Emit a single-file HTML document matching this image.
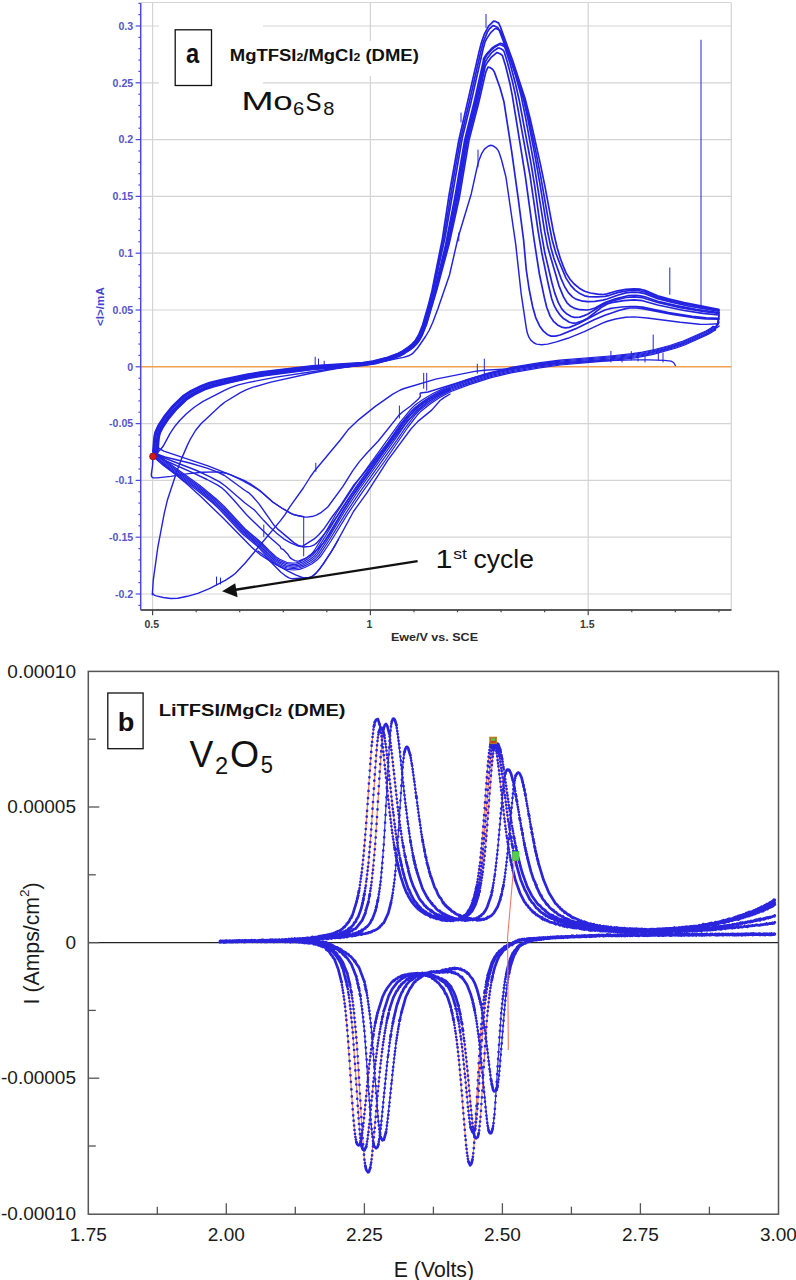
<!DOCTYPE html>
<html><head><meta charset="utf-8"><title>CV</title>
<style>html,body{margin:0;padding:0;background:#fff;}svg{display:block;}</style></head>
<body><svg width="796" height="1280" viewBox="0 0 796 1280">
<rect width="796" height="1280" fill="#fff"/>
<g stroke="#d4d4d4" stroke-width="1.2" fill="none">
<line x1="141.0" y1="594.0" x2="731.3" y2="594.0"/>
<line x1="141.0" y1="537.2" x2="731.3" y2="537.2"/>
<line x1="141.0" y1="480.4" x2="731.3" y2="480.4"/>
<line x1="141.0" y1="423.6" x2="731.3" y2="423.6"/>
<line x1="141.0" y1="310.0" x2="731.3" y2="310.0"/>
<line x1="141.0" y1="253.2" x2="731.3" y2="253.2"/>
<line x1="141.0" y1="196.4" x2="731.3" y2="196.4"/>
<line x1="141.0" y1="139.6" x2="731.3" y2="139.6"/>
<line x1="141.0" y1="82.8" x2="731.3" y2="82.8"/>
<line x1="141.0" y1="26.0" x2="731.3" y2="26.0"/>
<line x1="141.0" y1="2.5" x2="731.3" y2="2.5"/>
<line x1="152.6" y1="2.5" x2="152.6" y2="609.8"/>
<line x1="370.4" y1="2.5" x2="370.4" y2="609.8"/>
<line x1="588.2" y1="2.5" x2="588.2" y2="609.8"/>
<line x1="731.3" y1="2.5" x2="731.3" y2="609.8"/>
</g>
<line x1="141.0" y1="366.8" x2="731.3" y2="366.8" stroke="#f0a050" stroke-width="1.6"/>
<rect x="159" y="12" width="104" height="80" fill="#fff"/>
<rect x="222" y="41" width="205" height="35" fill="#fff"/>
<g fill="none" stroke="#2222e0" stroke-linejoin="round" stroke-linecap="round">
<path d="M152.8,452L154.1,436.9L155.1,432L158.1,425.5L164.6,415.5L172.3,406.1L182.6,396L190.7,390.7L201.5,385.5L209.4,382.6L221.7,379.5L246.6,374.3L261.9,371.8L312.4,365.9L362.8,362.5L372.9,361L387.7,357.2L398.3,353.3L402.7,350.9L408.5,346.9L412.2,343.9L415,340.9L418.7,334.8L422.6,325.1L428.4,305.1L432,290.7L442.3,239.3L449.2,194.1L458.8,140.2L479.2,51.1L481.5,42.2L484.2,34.5L488.6,26.1L493.6,21.1L495.1,21.3L497.9,22.8L498.4,22.7L500.2,26.3L512.6,60.3L525,98.2L530.2,118.7L540.4,164.1L545,186.6L553.3,231.2L557,247.2L560.3,258.3L563.3,266.4L566.2,273.1L570,279.2L574.2,284L579.3,288.2L584.6,291.3L590.3,293L597.7,294.2L603.1,294.5L607,293.9L617.5,290.8L625.8,289.4L634.1,288.8L640.4,289.2L644.9,290.4L657.7,295.8L668.5,298.9L684.1,302.7L718.5,309.4" fill="none" stroke="#2222e0" stroke-width="1.7" stroke-linejoin="round" stroke-linecap="round"/>
<path d="M153.5,452.1L154.9,437L155.8,432.2L158.8,425.9L165.3,415.9L172.9,406.6L183.1,396.7L191.1,391.4L201.8,386.2L210,383.2L222.7,380L247.3,374.9L262,372.4L312.5,366.4L362.9,363L373.7,361.3L387.8,357.6L398.5,353.7L402.9,351.3L408.8,347.3L412.5,344.2L415.4,341.2L419.1,335L423.1,325.3L428.8,305.7L432.9,289.8L443.7,238.1L453.4,178.8L460.5,139.2L469.3,102.1L480.8,51.5L483.3,41.8L487.4,32.1L489.4,28.9L492.9,25.7L494.4,25.9L497.7,27.4L499.5,30.9L511.7,63L524,98.6L528.9,118.6L535.9,152.2L540.5,175.4L548.5,221.1L552.2,240L555.9,253.2L559.4,262.5L566,278.1L570.7,285.4L575.1,290.1L579.9,293.6L584.6,295.8L588.5,296.6L596.6,296.9L605,296.3L609.5,295.3L617.5,292.6L623.7,291.3L630,290.5L638.2,290.5L644.9,291.9L657.7,297.1L672.5,301.1L688.1,304.5L718.5,310.2" fill="none" stroke="#2222e0" stroke-width="1.7" stroke-linejoin="round" stroke-linecap="round"/>
<path d="M154.3,452.1L155.6,437.4L156.6,432.5L159.5,426.3L165.9,416.4L173.5,407.2L183.9,397.1L191.9,391.9L202.5,386.7L210.7,383.8L224.5,380.4L248.5,375.3L262.7,372.9L312.5,366.9L362.9,363.4L373.8,361.8L388.6,357.9L399,354L403.8,351.3L409.4,347.5L412.9,344.6L415.8,341.5L419.4,335.6L423.6,325.4L429.1,306.4L433.8,288.9L445,237.5L462.2,138.3L471.1,101.9L482.9,49.7L484.9,42.2L486.7,38.6L490.7,32.6L495.1,28.5L497.2,28.9L500,30.3L501.7,33.7L512.6,64.7L523.4,98.9L527.8,118.5L534.3,152.1L540.4,186.6L547.5,231.2L550.8,247.2L553.8,258L561.5,279.7L564.8,287L568.5,292.9L572.7,297.1L575.9,299.1L582.8,301.2L587.8,301.7L594.9,301.3L603,300.1L607.1,299L617.5,295.2L625.8,292.9L632.1,292.2L638.2,292.3L644.9,293.6L657.7,298.6L672.5,302.4L688.1,305.8L718.5,311.1" fill="none" stroke="#2222e0" stroke-width="1.7" stroke-linejoin="round" stroke-linecap="round"/>
<path d="M155.7,452.2L157,437.6L157.9,432.9L160.7,427L167.1,417.3L174.4,408.5L184.8,398.2L192.6,393.2L203.4,387.9L211.5,385.1L226.4,381.3L249.2,376.4L263.5,374L312.6,367.9L363,364.3L374.6,362.5L389.4,358.5L399.4,354.8L409.6,348.5L413.2,345.5L416.2,342.4L418.8,338.8L421,334.5L423.9,327.5L426.1,320.8L434.6,290.7L445.7,244.5L455,196.5L464.7,140L474.5,100.6L483.4,60.7L483.5,58.7L486.3,54.4L491.8,48.3L494.1,46.6L500,43.4L502,43.5L505.5,45.4L507.1,48.5L515.1,73.5L521,95.2L525.7,118.3L534,164L544.6,231.2L547.7,247.1L559.2,286.4L563.5,296.9L567,302.8L570.7,306.3L574.9,308.4L579.9,309.7L586.8,310L590.1,309.5L595,308L605,302.5L615.4,298.8L627.9,295.7L636.1,295.4L640.4,295.8L644.9,296.8L657.7,301.3L676.4,305.7L695.9,309.4L718.5,312.7" fill="none" stroke="#2222e0" stroke-width="1.7" stroke-linejoin="round" stroke-linecap="round"/>
<path d="M156.2,452.3L157.5,437.6L158.4,433L161.3,427L167.5,417.6L174.8,408.8L185.2,398.7L193.3,393.4L203.6,388.4L211.6,385.6L226.5,381.8L249.3,376.8L263.5,374.4L312.7,368.2L363,364.6L374.6,362.8L389.5,358.8L399.5,355L409.8,348.7L413.4,345.8L416.5,342.6L419,339L421.3,334.7L426.3,321.4L435.2,290.3L446.6,244.1L456,196.7L465.7,140.2L475.5,101.5L484.5,60.9L484.7,58.9L487.1,54.9L491.8,49.5L494.7,47.2L499.2,44.5L502,45.2L504.3,46.6L505.1,48.1L510,63.2L515.6,84.2L519.2,100.2L531.1,164L534.8,186.6L541,231.2L544.8,252.8L551.8,282.3L554.6,292.6L558.2,302.4L561.2,307.9L563.4,310.8L567,314.1L571.2,316.5L574.4,317.4L579.7,317.1L583.6,315.9L588,314L602.4,305L609.5,301.6L625.8,297.5L634.1,296.8L642.6,297.7L657.7,302.5L680.3,307.6L702.9,311.5L718.5,313.5" fill="none" stroke="#2222e0" stroke-width="1.7" stroke-linejoin="round" stroke-linecap="round"/>
<path d="M156.7,452.3L157.9,438L158.9,433.2L161.6,427.5L167.8,418.2L175.2,409.2L185.5,399.1L193.5,393.9L203.8,388.9L212.2,385.9L227.5,382.1L249.4,377.3L263.6,374.8L312.7,368.6L363.1,364.9L374.7,363.1L389.6,359.1L399.7,355.3L410,349L413.7,346L416.7,342.8L419.1,339.5L421.4,335.2L426.3,322.4L435.6,290.4L447.4,243.7L457.1,196.8L466.7,140.4L476.5,101.7L484.9,62.7L487.2,58.6L491.4,53L493.2,51.3L498.1,48L499.6,48.2L501.4,49.1L503.2,50.2L504.1,51.6L507.4,62.2L512.7,82.6L515.3,94.3L530,175.4L538.1,231.2L541.8,253L548.3,284.3L551.7,298.7L554.4,306.2L556.7,310.2L560.2,315.2L563.5,318.6L569.4,322.2L573.3,323.2L576.7,322.8L583.2,320.6L588,318L602.4,306.7L607.3,303.9L611.5,302.6L623.7,300.6L634.1,299.9L642.6,300.7L657.7,305L684.1,310.5L702.9,313.4L718.5,315" fill="none" stroke="#2222e0" stroke-width="1.7" stroke-linejoin="round" stroke-linecap="round"/>
<path d="M157.2,452.4L158.4,438.1L159.4,433.3L162.2,427.5L168.4,418.2L175.6,409.6L186.1,399.3L194.2,394.1L204.4,389.2L212.4,386.4L228.4,382.4L250,377.6L264.3,375.1L313.6,368.8L363.1,365.2L374.8,363.4L389.1,359.6L399.5,355.8L403.8,353.4L409.9,349.5L413.6,346.5L416.7,343.3L419.2,340L421.6,335.7L426.5,323L436.2,290L448.3,243.2L458.1,197L467.6,140.6L477.6,102L485.2,66.4L487.2,62.7L490.9,57.7L496.7,52.7L498.2,52.9L500,53.8L501.9,55L502.7,56.4L505.7,66.2L510.2,84.8L512.3,95.6L525.2,175.4L534.1,240L539.3,273.5L544.3,297.4L546.7,307.3L550.2,316.4L553.5,321.3L557.5,324.9L561.5,327.1L565.4,327.8L569.5,327.4L578.9,323.5L599.6,312.5L605,310L609.5,308.7L613.5,308L621.7,307L630,306.5L636.1,306.6L642.6,307.2L668.5,312.6L692,316.3L706.1,317.9L718.5,318.4" fill="none" stroke="#2222e0" stroke-width="1.7" stroke-linejoin="round" stroke-linecap="round"/>
<path d="M157.8,452.4L159,438.1L160,433.5L162.8,427.8L168.9,418.6L176.1,410L186.5,399.8L194.5,394.7L204.6,389.7L213,386.9L229.4,382.7L250.6,378L264.4,375.6L312.8,369.4L363.1,365.5L375.5,363.6L389.8,359.8L400,355.9L404.6,353.4L410.4,349.5L414.2,346.5L417,343.6L419.5,340.2L421.9,335.9L426.8,323.6L436.7,290.1L449.1,244L459.4,197.2L469.1,139.7L478.7,102.9L485.1,74.7L486.1,71.3L488,67.2L489.9,67.6L491.8,68.7L493.1,69.8L494.5,72.4L500,87.7L504,102.1L511.7,151.7L518.2,198.3L523.6,240L526.3,270L529.1,289L532.7,307L535.7,317.6L539.6,325.9L543.4,331.2L547.6,334.7L551.2,336.1L555.4,336.1L560.2,335L575.3,328.9L594.1,319.8L605,315.2L619.6,310.2L625.8,308.6L630,308L636.1,308L642.6,308.7L672.5,314.4L695.9,317.9L706.1,318.9L718.5,319.1" fill="none" stroke="#2222e0" stroke-width="1.7" stroke-linejoin="round" stroke-linecap="round"/>
<path d="M380,362L403.4,357.4L408.9,355.7L411.4,354.4L413.6,352.6L417.6,348L425.5,336.5L429.1,330.5L432.8,322.2L437.8,309.1L449.5,275L458.1,237.5L471.3,193.7L477.2,166.9L479.1,159.9L481.8,153.3L484.4,149.1L488.1,146.2L490.8,145.3L492.7,145.7L495.7,147.6L497.5,149.5L498.9,151.9L501.5,159.7L506,177.4L515.7,244.2L521.2,293.8L526.3,328.1L527.4,333.3L528.9,337.2L530.8,340.1L533.4,342.5L536.5,344.1L541.5,344.8L547.6,344.1L556.4,341.9L567.8,338.3L584.3,331.7L602.4,323.1L607.3,321.2L615.5,319L625.8,317.2L634.1,316.9L647.2,318L680.3,322.2L699.5,324.2L706.1,324.4L718.5,323.7" fill="none" stroke="#2222e0" stroke-width="1.45" stroke-linejoin="round" stroke-linecap="round"/>
<path d="M152.3,594.7L153.3,579.8L157.8,547.4L164.3,513.2L167.5,499.7L177.3,470L181.6,458.6L187.4,445.1L190.5,438.8L195.5,430.5L201,423.8L221.1,405.1L225,402L240.4,392.6L246.6,389.6L252.5,387.4L270.9,382.1L309.9,373.5L335,368.9L380,362" fill="none" stroke="#2222e0" stroke-width="1.4" stroke-linejoin="round" stroke-linecap="round"/>
<path d="M156,454L160.5,449.5L163.1,446.3L170.1,433.3L175.3,425.7L179.7,420.5L186.4,413.8L193.9,407.5L202.6,401.7L224,390.6L230.5,387.6L238.4,384.9L247.8,382.6L276.1,377.1L325.1,369.8L372,363.5" fill="none" stroke="#2222e0" stroke-width="1.4" stroke-linejoin="round" stroke-linecap="round"/>
<path d="M719.2,309.5L718.2,321.1L715.3,330.4L714.9,330.1L714.1,330.7L715.6,329.7L710.3,333.2L706.4,335.3L684.7,345L676.3,348L653.2,354.4L635.4,357.8L610.4,360.6L560.3,365L538.2,368.1L511,372.8L491.1,377.7L468.6,384.8L451.1,391.5L440.2,397.2L430.1,404.1L420.1,412.1L417.1,415.3L407.7,427.5L384.8,461L362.2,492.3L347.9,513.7L330.4,542L320.7,556.3L317.1,560.1L311.7,564L304.8,567.5L299.5,569.3L293.9,570L286.9,569.3L280.9,567.1L274.1,563.3L266.2,555.9L258.2,547L240.9,532.4L220.3,510.2L213.3,503.5L196.6,489.9L163.4,465.5L152.3,455.9" fill="none" stroke="#2222e0" stroke-width="1.25" stroke-linejoin="round" stroke-linecap="round"/>
<path d="M719.2,312.5L718,322.3L716.5,326.2L714.8,329.6L713.7,330L715.2,329L707.3,333.9L686,343.5L673.5,347.9L653,353.5L635.3,356.9L610.3,359.7L560.2,364.1L538,367.1L510.8,371.8L490.8,376.7L466.5,384.4L450.6,390.5L438.2,396.9L428.1,403.7L419,410.8L415.7,414.2L406.3,426.3L396.6,440.6L360.5,491.2L346.2,512.6L328.8,541L319.4,555.2L315.9,558.9L310.8,562.7L304.2,566.1L299.1,568L293.8,568.7L287.2,568L282.7,566.5L274.8,562.3L267.1,555.1L258.9,546.2L241.7,531.6L221.1,509.4L214,502.7L197.3,489L164,464.7L153,455.1" fill="none" stroke="#2222e0" stroke-width="1.25" stroke-linejoin="round" stroke-linecap="round"/>
<path d="M719.2,315.5L717.8,323.4L716.8,325.4L714.3,328.8L707,333.2L684.1,343.4L667.9,348.7L650.3,353.2L635.2,356L610.2,358.8L560.1,363.1L537.8,366.1L510.6,370.8L490.5,375.7L467.9,382.8L450.2,389.5L437.5,395.7L427.2,402.4L417.9,409.5L414.4,413.1L404.8,425.2L396.5,437.4L358.8,490L344.5,511.5L327.3,540.1L318,554.2L314.8,557.7L310,561.3L303.6,564.8L298.7,566.6L293.8,567.3L287.5,566.7L283.3,565.3L275.6,561.3L267.9,554.2L259.6,545.4L242.4,530.8L221.9,508.7L214.7,501.9L198,488.2L164.7,463.9L153.7,454.4" fill="none" stroke="#2222e0" stroke-width="1.25" stroke-linejoin="round" stroke-linecap="round"/>
<path d="M719.2,318.5L717.9,323.7L717.1,325.3L713.9,328L707.8,331.8L682.1,343.3L662.6,349.3L647.6,352.9L632.5,355.5L610.2,357.8L559.9,362.1L537.7,365.1L510.4,369.8L490.3,374.7L467.6,381.7L446.4,389.9L435.4,395.4L427.6,400.3L419.6,405.9L415.4,409.4L413,412L402.2,425.4L394.9,436.3L358.6,486.6L342.9,510.5L325.7,539.1L316.7,553.1L313.7,556.5L309.1,560L303,563.5L298.4,565.3L295.3,565.8L292.2,565.9L286.4,565L278.5,561.6L275.4,559.5L267.4,552.1L260.4,544.6L243.2,530L222.7,507.9L215.4,501.1L198.6,487.3L165.3,463.1L154.3,453.6" fill="none" stroke="#2222e0" stroke-width="1.25" stroke-linejoin="round" stroke-linecap="round"/>
<path d="M719.2,322L717.3,326L713.6,327.1L708.6,330.4L705,332.3L681.8,342.5L672.7,345.5L657.4,349.7L644.9,352.5L632.4,354.6L610.1,356.9L559.8,361.1L540.4,363.7L512.9,368.2L490,373.7L467.2,380.7L444.2,389.5L434.7,394.2L425.5,399.8L415.6,406.9L411.7,410.9L403,421.5L356.9,485.5L341.2,509.4L324.2,538.2L315.3,552.1L312.5,555.3L308.3,558.6L302.3,562.2L296.6,564.3L292.3,564.5L286.8,563.7L279.1,560.4L276.2,558.5L268.3,551.3L261.1,543.8L244,529.3L223.5,507.1L216.2,500.2L199.3,486.4L166,462.3L155,452.9" fill="none" stroke="#2222e0" stroke-width="1.25" stroke-linejoin="round" stroke-linecap="round"/>
<path d="M719.2,326L717.1,327.7L712.9,326.3L711.8,327.4L713.4,326.3L710.6,328.2L705.9,331L681.5,341.7L669.8,345.5L654.7,349.5L642.3,352.2L632.3,353.7L610,356L559.7,360.2L540.2,362.7L512.7,367.2L489.7,372.7L466.9,379.7L442,389.1L432.5,393.8L423.3,399.3L414.4,405.6L410.3,409.8L400.4,421.8L355.3,484.3L337.9,510.8L322.6,537.2L314,551L311.4,554.1L307.4,557.3L300.3,561.5L296.4,562.9L292.3,563.2L287.1,562.5L279.7,559.3L277,557.6L269.1,550.5L261.8,543L244.7,528.5L224.3,506.4L216.9,499.4L200,485.5L166.6,461.5L155.7,452.1" fill="none" stroke="#2222e0" stroke-width="1.25" stroke-linejoin="round" stroke-linecap="round"/>
<path d="M450,394L443.7,397.9L440.1,400.5L431.7,410.1L417.9,421.4L410.9,429L387.7,460.4L366.9,492.9L353.5,511.5L334,547.3L323.6,563.6L316.1,573.1L312.3,576.3L309.8,577.4L302.9,577.7L295.5,574.9L288.5,571.4L271.8,562.1L260.1,554.6L251.5,547L222.3,517.3L200.5,496.3L184.2,481.6L154,456" fill="none" stroke="#2222e0" stroke-width="1.4" stroke-linejoin="round" stroke-linecap="round"/>
<path d="M338.1,540L330.4,553.2L320.3,568.2L316.1,573.1L313.6,575.4L311.1,576.9L308.8,577.5L293,578.8L291.3,578.6L289,577.8L284.8,575.3L280.9,572.3L265,556L258,551" fill="none" stroke="#2222e0" stroke-width="1.4" stroke-linejoin="round" stroke-linecap="round"/>
<path d="M560,361L530.8,365L496.4,371.8L476.7,376.9L428,392L420.5,393L420.1,393.5L420.3,396.5L418.7,398.7L410.3,406.3L402.8,411.8L399,415.1L378.5,440.8L366.5,453.5L359.4,461.6L352.8,470.6L342.8,486.7L327.8,507L321.4,512.3L316.4,515.2L313.3,516.2L307.1,517.1L304.6,517.1L298.2,515.8L291.8,513.8L281.7,508L272.7,502L262.1,492.7L257.8,489.5L251.2,485.3L239.8,479.2L230.6,474.9L208,465.9L163.8,451.1L159.8,448.9L155.5,445.5" fill="none" stroke="#2222e0" stroke-width="1.4" stroke-linejoin="round" stroke-linecap="round"/>
<path d="M303.8,516.6L294.2,514.8L290,512.9L281.7,508L272.7,502L260,490.5L251.7,484.7L244,480.4L230.8,474.8L226,473.2L217.3,471.9L202,472.2L188.4,473.6L170.8,476.4L157.2,477.9L153.4,477.9L152.1,477.3L151.5,476.1L151.3,474.3L152.5,466L153,456" fill="none" stroke="#2222e0" stroke-width="1.4" stroke-linejoin="round" stroke-linecap="round"/>
<path d="M450,388L444.1,389.8L440,391.5L430.2,397L419.8,404.4L412.2,410.9L408,415L400,425L388.1,442.5L365.4,471.4L353.9,485L340.3,506L332,517L323.6,529.3L319,534.5L314.2,538.9L302.3,546.4L299.1,545.8L293.8,542.6L278.1,529.4L273.4,524.4L258.8,503.6L252.4,496.2L249.3,493.2L245,490.5L224.6,475.5L217.1,471.8L207,468.2L189.7,463L165,457L154,453" fill="none" stroke="#2222e0" stroke-width="1.4" stroke-linejoin="round" stroke-linecap="round"/>
<path d="M450,389L440,393L427.6,400.2L417.3,408.1L407.8,417.4L398,430L386,447L372,465.8L352,494.1L338,515L326,532L321.6,537.5L316.1,543.4L313.7,545.2L310.4,546.4L303.9,547L298.4,546.1L290.6,542.9L283.6,538.8L276.7,533.3L270.2,527.2L263.8,520.6L254.4,510L245,503L225.6,486.2L220,482.1L210.6,477.1L196.6,470.5L154,454" fill="none" stroke="#2222e0" stroke-width="1.4" stroke-linejoin="round" stroke-linecap="round"/>
<path d="M450,390L440,394.5L427.6,402.1L417.3,410.7L407.8,420.4L386,449L351.9,497.2L341.6,513.3L330.4,533L323.5,542.9L318.3,548.8L311.5,554.4L305.4,558.5L299.1,561L297,561.1L294.8,560.6L291.6,558.9L290,557.6L287.6,553.9L283.3,549.5L281.1,548.7L280,546.2L270,537.5L246.3,514.5L233.5,499.7L225.6,491.3L222.2,488.2L217.2,484.9L207,479.5L193.1,472.8L165,460.5L154,454.5" fill="none" stroke="#2222e0" stroke-width="1.4" stroke-linejoin="round" stroke-linecap="round"/>
<path d="M675.4,365.5L673.6,362.5L671.1,361.1L664.2,360.4L649.5,359.9L633.2,359.9L601.7,360.9L556,363.5L520.5,367.2L507.3,368.9L484.3,370.2L474.8,371.4L435.7,379.1L404.2,388.5L400.3,390L392.4,394.4L375.3,406.4L358.8,419.6L348,429.8L340.3,440L315.1,470.2L310.2,477L303.3,488L290,506.6L284.8,514.8L280.7,520.4L245.2,563L235.5,573.2L232.1,575.9L225.3,580.4L209.4,588.7L197.8,593.3L187.4,596.3L177.7,598.3L170.8,598.5L163.2,597.5L156.2,595.9L154.1,595.1L152.6,593.3" fill="none" stroke="#2222e0" stroke-width="1.4" stroke-linejoin="round" stroke-linecap="round"/>
<line x1="486.0" y1="14.4" x2="486.0" y2="27.6" stroke-width="1"/>
<line x1="461.0" y1="113" x2="461.0" y2="122" stroke-width="1"/>
<line x1="701.0" y1="40.2" x2="701.0" y2="306" stroke-width="1"/>
<line x1="669.8" y1="267.9" x2="669.8" y2="294.3" stroke-width="1"/>
<line x1="653.2" y1="335" x2="653.2" y2="352" stroke-width="1"/>
<line x1="631.3" y1="351.6" x2="631.3" y2="360" stroke-width="1"/>
<line x1="315.2" y1="357.2" x2="315.2" y2="366.2" stroke-width="1"/>
<line x1="318.5" y1="359" x2="318.5" y2="366" stroke-width="1"/>
<line x1="324.2" y1="361.2" x2="324.2" y2="367.2" stroke-width="1"/>
<line x1="399.4" y1="406" x2="399.4" y2="418" stroke-width="1"/>
<line x1="423.7" y1="373.3" x2="423.7" y2="388.3" stroke-width="1"/>
<line x1="426.7" y1="373.3" x2="426.7" y2="390.3" stroke-width="1"/>
<line x1="484.3" y1="359.1" x2="484.3" y2="375.2" stroke-width="1"/>
<line x1="477.3" y1="364.2" x2="477.3" y2="373.2" stroke-width="1"/>
<line x1="610.9" y1="351.3" x2="610.9" y2="362" stroke-width="1"/>
<line x1="638" y1="354.5" x2="638" y2="361" stroke-width="1"/>
<line x1="658.3" y1="352.4" x2="658.3" y2="360" stroke-width="1"/>
<line x1="303.7" y1="517" x2="303.7" y2="556" stroke-width="1"/>
<line x1="315.8" y1="463.2" x2="315.8" y2="471.4" stroke-width="1"/>
<line x1="263.8" y1="525" x2="263.8" y2="536.5" stroke-width="1"/>
<line x1="216.5" y1="577" x2="216.5" y2="585" stroke-width="1"/>
<line x1="220.5" y1="578" x2="220.5" y2="584" stroke-width="1"/>
<line x1="458.8" y1="233" x2="458.8" y2="241" stroke-width="1"/>
<line x1="478" y1="150" x2="478" y2="167" stroke-width="1"/>
<line x1="663" y1="353" x2="663" y2="362" stroke-width="1"/>
<line x1="645" y1="355" x2="645" y2="362" stroke-width="1"/>
<line x1="622" y1="355" x2="622" y2="362" stroke-width="1"/>
</g>
<circle cx="153" cy="456.4" r="3.4" fill="#d81818" stroke="#901010" stroke-width="0.8"/>
<line x1="417.6" y1="561.1" x2="234" y2="590" stroke="#111" stroke-width="2.4"/>
<path d="M222.1,591.2 L235.2,583.2 L237.6,597.2 Z" fill="#111"/>
<g font-family="'Liberation Sans', sans-serif" fill="#111">
<text transform="translate(435.54,568.1) scale(1.189,1)" font-size="25.7">1</text>
<text transform="translate(453.13,559) scale(1.179,1)" font-size="15">st</text>
<text transform="translate(473.57,568.1) scale(1.03,1)" font-size="25.7">cycle</text>
</g>
<line x1="140.7" y1="3" x2="140.7" y2="610" stroke="#4a4ad8" stroke-width="1.5"/>
<g stroke="#4a4ad8" stroke-width="1.2">
<line x1="138.4" y1="605.4" x2="140.7" y2="605.4"/>
<line x1="135.6" y1="594.0" x2="140.7" y2="594.0"/>
<line x1="138.4" y1="582.6" x2="140.7" y2="582.6"/>
<line x1="138.4" y1="571.3" x2="140.7" y2="571.3"/>
<line x1="138.4" y1="559.9" x2="140.7" y2="559.9"/>
<line x1="138.4" y1="548.6" x2="140.7" y2="548.6"/>
<line x1="135.6" y1="537.2" x2="140.7" y2="537.2"/>
<line x1="138.4" y1="525.8" x2="140.7" y2="525.8"/>
<line x1="138.4" y1="514.5" x2="140.7" y2="514.5"/>
<line x1="138.4" y1="503.1" x2="140.7" y2="503.1"/>
<line x1="138.4" y1="491.8" x2="140.7" y2="491.8"/>
<line x1="135.6" y1="480.4" x2="140.7" y2="480.4"/>
<line x1="138.4" y1="469.0" x2="140.7" y2="469.0"/>
<line x1="138.4" y1="457.7" x2="140.7" y2="457.7"/>
<line x1="138.4" y1="446.3" x2="140.7" y2="446.3"/>
<line x1="138.4" y1="435.0" x2="140.7" y2="435.0"/>
<line x1="135.6" y1="423.6" x2="140.7" y2="423.6"/>
<line x1="138.4" y1="412.2" x2="140.7" y2="412.2"/>
<line x1="138.4" y1="400.9" x2="140.7" y2="400.9"/>
<line x1="138.4" y1="389.5" x2="140.7" y2="389.5"/>
<line x1="138.4" y1="378.2" x2="140.7" y2="378.2"/>
<line x1="135.6" y1="366.8" x2="140.7" y2="366.8"/>
<line x1="138.4" y1="355.4" x2="140.7" y2="355.4"/>
<line x1="138.4" y1="344.1" x2="140.7" y2="344.1"/>
<line x1="138.4" y1="332.7" x2="140.7" y2="332.7"/>
<line x1="138.4" y1="321.4" x2="140.7" y2="321.4"/>
<line x1="135.6" y1="310.0" x2="140.7" y2="310.0"/>
<line x1="138.4" y1="298.6" x2="140.7" y2="298.6"/>
<line x1="138.4" y1="287.3" x2="140.7" y2="287.3"/>
<line x1="138.4" y1="275.9" x2="140.7" y2="275.9"/>
<line x1="138.4" y1="264.6" x2="140.7" y2="264.6"/>
<line x1="135.6" y1="253.2" x2="140.7" y2="253.2"/>
<line x1="138.4" y1="241.8" x2="140.7" y2="241.8"/>
<line x1="138.4" y1="230.5" x2="140.7" y2="230.5"/>
<line x1="138.4" y1="219.1" x2="140.7" y2="219.1"/>
<line x1="138.4" y1="207.8" x2="140.7" y2="207.8"/>
<line x1="135.6" y1="196.4" x2="140.7" y2="196.4"/>
<line x1="138.4" y1="185.0" x2="140.7" y2="185.0"/>
<line x1="138.4" y1="173.7" x2="140.7" y2="173.7"/>
<line x1="138.4" y1="162.3" x2="140.7" y2="162.3"/>
<line x1="138.4" y1="151.0" x2="140.7" y2="151.0"/>
<line x1="135.6" y1="139.6" x2="140.7" y2="139.6"/>
<line x1="138.4" y1="128.2" x2="140.7" y2="128.2"/>
<line x1="138.4" y1="116.9" x2="140.7" y2="116.9"/>
<line x1="138.4" y1="105.5" x2="140.7" y2="105.5"/>
<line x1="138.4" y1="94.2" x2="140.7" y2="94.2"/>
<line x1="135.6" y1="82.8" x2="140.7" y2="82.8"/>
<line x1="138.4" y1="71.4" x2="140.7" y2="71.4"/>
<line x1="138.4" y1="60.1" x2="140.7" y2="60.1"/>
<line x1="138.4" y1="48.7" x2="140.7" y2="48.7"/>
<line x1="138.4" y1="37.4" x2="140.7" y2="37.4"/>
<line x1="135.6" y1="26.0" x2="140.7" y2="26.0"/>
<line x1="138.4" y1="14.6" x2="140.7" y2="14.6"/>
<line x1="138.4" y1="3.3" x2="140.7" y2="3.3"/>
</g>
<g font-family='"Liberation Sans", sans-serif' font-size="10.6" font-weight="bold" fill="#5555c8" text-anchor="end">
<text x="133.2" y="29.7">0.3</text>
<text x="133.2" y="86.5">0.25</text>
<text x="133.2" y="143.3">0.2</text>
<text x="133.2" y="200.1">0.15</text>
<text x="133.2" y="256.9">0.1</text>
<text x="133.2" y="313.7">0.05</text>
<text x="133.2" y="370.5">0</text>
<text x="133.2" y="427.3">-0.05</text>
<text x="133.2" y="484.1">-0.1</text>
<text x="133.2" y="540.9">-0.15</text>
<text x="133.2" y="597.7">-0.2</text>
</g>
<text transform="translate(103.6,306.6) rotate(-90)" font-family='"Liberation Sans", sans-serif' font-size="11" font-weight="bold" fill="#4444cc" text-anchor="middle" textLength="38.8" lengthAdjust="spacingAndGlyphs">&lt;I&gt;/mA</text>
<line x1="140.7" y1="610" x2="731.5" y2="610" stroke="#5a5a5a" stroke-width="2"/>
<g stroke="#444" stroke-width="1.2">
<line x1="152.6" y1="609.8" x2="152.6" y2="615.2"/>
<line x1="196.2" y1="609.8" x2="196.2" y2="612.3"/>
<line x1="239.7" y1="609.8" x2="239.7" y2="612.3"/>
<line x1="283.3" y1="609.8" x2="283.3" y2="612.3"/>
<line x1="326.8" y1="609.8" x2="326.8" y2="612.3"/>
<line x1="370.4" y1="609.8" x2="370.4" y2="615.2"/>
<line x1="414.0" y1="609.8" x2="414.0" y2="612.3"/>
<line x1="457.5" y1="609.8" x2="457.5" y2="612.3"/>
<line x1="501.1" y1="609.8" x2="501.1" y2="612.3"/>
<line x1="544.6" y1="609.8" x2="544.6" y2="612.3"/>
<line x1="588.2" y1="609.8" x2="588.2" y2="615.2"/>
<line x1="631.8" y1="609.8" x2="631.8" y2="612.3"/>
<line x1="675.3" y1="609.8" x2="675.3" y2="612.3"/>
<line x1="718.9" y1="609.8" x2="718.9" y2="612.3"/>
</g>
<g font-family='"Liberation Sans", sans-serif' font-size="10.5" font-weight="bold" fill="#3a3a3a" text-anchor="middle">
<text x="151.7" y="627.6">0.5</text>
<text x="369.5" y="627.6">1</text>
<text x="587.3" y="627.6">1.5</text>
</g>
<text x="391" y="641.3" font-family='"Liberation Sans", sans-serif' font-size="11.5" font-weight="bold" fill="#2a2a2a" textLength="87" lengthAdjust="spacingAndGlyphs">Ewe/V vs. SCE</text>
<rect x="175.2" y="29.8" width="36.3" height="55.7" fill="#fff" stroke="#111" stroke-width="1.3"/>
<text transform="translate(185.92,63.2) scale(0.847,1)" font-family='"Liberation Sans", sans-serif' font-size="28" font-weight="bold" fill="#111">a</text>
<text x="229.8" y="60.8" font-family='"Liberation Sans", sans-serif' font-size="15.8" font-weight="bold" fill="#111" textLength="189" lengthAdjust="spacingAndGlyphs">MgTFSI<tspan font-size="10.5">2</tspan>/MgCl<tspan font-size="10.5">2</tspan> (DME)</text>
<g font-family='"Liberation Sans", sans-serif' fill="#111">
<text transform="translate(241.20,110.2) scale(1.465,1)" font-size="26.6">M</text>
<text transform="translate(273.26,110.4) scale(1.310,1)" font-size="26.6">o</text>
<text transform="translate(293.00,114.5) scale(1.106,1)" font-size="18.3">6</text>
<text transform="translate(305.52,110.8) scale(0.902,1)" font-size="26.6">S</text>
<text transform="translate(323.33,115.2) scale(1.093,1)" font-size="18.3">8</text>
</g>
<line x1="88.3" y1="942.6" x2="778.5" y2="942.6" stroke="#222" stroke-width="1.3"/>
<path d="M220,942.2L220.4,940.9L220.9,941.7L222.2,941.5L222.7,941L223.1,941.5L223.6,941.3L224,942.5L224.5,941.6L226.3,941.2L228.1,941.7L229,941.4L229.4,941.9L230.3,941.2L231.7,941.9L232.1,941.3L233,941.6L233.5,941.1L234.4,941.6L235.7,941.5L236.2,940.4L236.6,941.6L237.5,940.7L238,941.3L239.3,940.9L240.7,941.6L241.6,941.2L242,941.4L242.9,940.8L243.4,941.3L244.7,940.8L245.2,941.1L245.6,940.3L246.1,941.2L247,940.5L248.3,941.2L248.8,940.3L250.1,941.3L250.6,940.3L251.5,941L251.9,940.7L252.4,941.3L252.8,940.5L253.3,940.9L253.7,940.5L254.2,941.2L255.5,940.3L256,941.3L258.7,940.4L259.6,941.1L260,940.2L261.8,940.8L262.7,940L263.6,940.9L265,940.4L266.3,940.7L266.8,940.2L268.6,940.5L269,941.1L269.9,940.8L270.4,939.7L271.7,940.5L272.2,939.6L272.6,940.6L273.5,939.8L275.8,940.8L276.2,940.1L277.6,940.6L278.5,940.5L278.9,939.7L279.8,939.8L280.3,940.4L283,939.6L283.9,940.5L284.3,939.7L285.7,939.3L286.6,939.9L288.4,939.6L288.8,939L289.7,939.5L291.1,939.1L292,939.5L292.4,939.1L294.2,939.6L294.7,938.5L295.1,939.3L295.6,938.9L296.9,939.3L297.8,938.9L298.3,939.3L298.7,938.7L299.6,939L300.1,938.5L300.5,939.3L301,938.9L301.4,939.3L302.3,938.4L304.6,938.3L305,938.8L305.5,938.1L305.9,938.5L306.4,938L307.7,937.7L308.6,938.3L309.1,938L310,938.3L311.8,937.1L312.2,937.8L312.7,937L313.1,937.7L314,937.7L314.9,937L315.4,937.3L318.5,936.7L319,936.1L319.4,936.6L319.9,936.2L320.8,936.8L321.2,935.8L321.7,936.3L322.6,935.8L323,936.2L323.9,935.3L325.3,935.6L325.7,935.1L326.2,935.6L327.1,934.9L328.4,934.7L328.9,935.3L329.8,934.2L330.7,934.3L331.1,934.8L331.6,933.9L332.9,933.5L333.4,934L333.8,933L335.2,932.8L335.6,932.1L336.1,932.7L337.4,931.3L339.7,930.7L342.8,928.5L343.7,927.2L344.6,927.1L345.1,926L346.4,925L346.9,923.5L347.8,923.3L348.2,922.1L348.7,922.1L350.5,918.3L351.4,917.6L351.8,915.8L352.3,915.6L356.3,903.2L359.5,888.3L361.3,875.7L363.5,855.7L365.8,829.1L371.6,745.7L373.9,726.5L374.8,722.3L376.1,719.7L377,719.2L377.9,719.1L378.8,721.5L381.1,732.8L391.9,830L395.9,855.5L400.9,877.1L406.7,893.3L407.2,893L408.1,895.7L411.7,901.8L416.6,907.6L417.1,907.6L417.5,908.6L418,908.2L418.4,909.3L418.9,909.1L419.8,910.5L425.6,914.5L426.1,914.3L429.7,915.9L430.6,917.1L431.9,916.2L432.4,917.2L433.3,917.1L433.7,917.8L434.2,917.3L435.1,918.1L435.5,917.8L436.4,918.8L436.9,918.2L437.3,918.3L437.8,919L438.7,918.7L441.4,920.1L443.2,920.3L444.1,919.6L445.4,920.6L445.9,920.2L447.2,920.8L449,920.2L450.8,920.9L451.3,920.2L452.6,920.4L453.1,919.8L454.4,920.1L455.8,919.4L456.7,919.9L458.5,918.7L459.8,918.5L460.7,917.6L461.6,918L462.1,917.2L463.4,916.6L463.9,915.6L464.3,916.1L464.8,915.1L465.2,915.2L467,913.2L468.8,909.8L469.3,910L472,904.4L473.3,899L474.2,897.3L476.9,884.9L480.1,862.6L482.8,832.9L487.7,765.8L490,746.9L490.9,742.9L492.2,740.6L492.7,741L494,741.1L495.4,745.2L496.7,753.2L506.6,835.8L509.8,855.4L515.6,880.8L520.1,893.3L524.6,902.2L525.5,902.8L526.4,904.8L527.8,905.6L528.7,907.5L530,908.4L530.9,910L532.3,910.7L532.7,912.1L533.2,911.9L534.1,913L534.5,912.5L536.3,915L537.2,914.7L538.1,915.9L539.5,916.2L539.9,917.2L541.3,917.3L541.7,918.6L542.2,917.4L543.1,919.4L543.5,919L544.4,919.1L544.9,920.1L545.3,919.5L545.8,920.2L546.7,920.2L547.1,921L547.6,920.5L549.8,922.1L553.9,922.9L554.3,923.6L554.8,923.2L555.7,924.2L556.1,923.6L556.6,924L557,923.7L557.9,923.9L559.7,925.3L562.4,925L563.3,926.2L564.2,925.7L564.7,926.5L565.1,926L566,925.9L567.4,927.2L568.3,926.4L569.2,926.8L569.6,926.5L570.1,927.1L571.4,927.5L572.3,926.9L572.8,927.9L573.7,927.2L574.1,927.8L577.3,928.2L578.2,927.4L578.6,928.2L579.1,928L580,928.8L580.9,928.6L581.8,929.2L582.2,928.7L584,929.5L584.5,928.9L584.9,929.5L585.4,929L586.7,929.5L588.1,929.2L589,930.2L589.4,929.8L590.8,930.5L591.7,929.5L592.1,930.4L593.9,929.7L594.4,930.2L594.8,929.9L595.3,930.7L596.2,929.9L597.1,930.3L597.5,929.9L598,930.5L599.3,930.5L600.7,931.2L602,930.6L602.5,931L602.9,930.6L603.4,931.1L603.8,930.6L605.2,931.2L605.6,930.6L606.5,931.1L608.3,931.1L608.8,931.6L610.1,930.6L611,931.6L612.8,931L613.3,931.6L614.2,931.6L614.6,931L616,931.7L617.3,931.4L617.8,931.9L619.6,931.3L620,932.1L620.5,931.1L621.8,932.1L622.3,931.7L624.1,931.8L624.5,932.3L625,931.9L625.4,932.3L625.9,931.5L626.3,932.1L627.2,931.4L627.7,932.1L629,931.6L629.5,932.4L630.4,931.6L631.3,932.3L631.7,931.8L632.6,932.7L634,931.9L634.4,932.3L635.3,931.2L636.7,932.7L638,931.8L638.5,932.3L638.9,932L642.1,932.8L642.5,931.8L643,933.1L643.4,932.3L643.9,932.7L644.3,932.1L646.1,932.6L647,932.1L648.4,932.6L650.6,932L651.1,932.9L651.5,932.3L652.4,932.1L653.3,932.9L654.7,932.1L655.1,932.8L656,932L656.5,932.6L658.3,932L659.2,932.4L660.1,931.9L660.5,932.8L661.4,931.9L663.7,932.3L664.1,931.6L665.9,932.1L666.4,931.4L666.8,932.9L667.3,931.7L668.6,932.1L669.5,931L670.4,932.1L671.8,931.1L672.2,932.1L673.1,931.5L674.5,931.4L676.3,932L678.5,931.2L679,931.9L679.4,931.4L680.3,931.7L680.8,931.1L681.2,931.6L682.6,931.5L683.5,930.7L684.8,931.6L685.7,931.1L686.6,931.6L688.4,931.1L690.2,931.2L691.6,930.5L692.5,931.4L693.8,930.5L694.3,931.1L695.2,930.5L695.6,931.2L696.1,930.9L696.5,931.2L698.3,930.4L699.7,930.9L700.6,930.1L701,930.8L701.9,930.9L702.8,930L704.2,930.3L704.6,929.6L705.1,930.2L706,929.9L706.9,930.4L709.6,929.7L710,930.2L710.9,929.5L711.4,929.9L711.8,929.4L712.7,929.9L714.1,929.7L715,928.9L715.9,929.7L716.8,928.6L718.6,929.2L719.5,929.1L719.9,928.6L720.8,929.4L721.3,928.5L721.7,929.1L723.5,928.2L725.3,928.8L727.1,927.9L728,928.3L728.9,927.6L732.5,928.1L733.4,926.9L734.3,927.9L736.6,926.9L737.5,927.3L737.9,926.9L738.4,927.6L738.8,926.6L739.7,927.2L741.1,926.4L742,927.2L744.7,926.2L746,926.7L746.5,926.3L747.4,926.8L748.3,925.7L748.7,926.3L750.5,925.8L751.9,926L752.3,925.3L754.1,925.7L756.4,924.8L759.5,925.4L760.4,924.7L760.9,925.2L761.8,924.5L762.7,924.8L764.9,924.1L766.3,924.3L766.7,923.5L767.6,924.3L769.4,923.4L771.2,923.7L771.7,923.1L772.1,923.6L772.6,922.8L773.9,923.4L774.8,922.3M774.8,934.3L773.5,933.9L772.1,934.4L771.7,933.8L771.2,934.9L770.3,934.1L769.4,934.3L769,934.9L768.1,934.1L766.3,934.5L765.8,934.1L765.4,934.7L764.9,934.2L764,934.6L763.6,933.7L762.7,934.5L759.5,933.7L759.1,934.7L758.6,934L757.7,934.7L755.5,934L752.8,934.9L751.9,933.8L751.4,934.6L750.5,933.9L750.1,934.6L749.6,934.1L748.7,934.7L747.8,934.1L746.9,934.7L746,933.9L744.7,935L742.9,934.3L742,934.6L741.5,934.1L740.6,934.6L740.2,934.1L739.7,934.7L738.8,934.7L738.4,934.2L737.5,934.9L736.6,934.2L735.7,934.9L735.2,934.4L734.3,935.2L733.9,934.4L733,934.2L732.1,934.9L731.2,934.1L729.8,934.7L729.4,934.3L728.9,934.7L728.5,934.3L725.8,934.7L725.3,934.1L724,934.8L722.2,934.3L719.9,934.4L719.5,933.9L719,934.8L717.7,934.2L716.3,934.9L715.9,934.2L715.4,934.8L714.5,934.3L714.1,934.7L710.9,934.3L708.7,935L707.8,934.3L707.3,934.8L706.9,934.3L706,934.9L705.1,934.6L704.6,935.4L704.2,934.7L701.9,934.8L701.5,933.9L701,935.1L700.6,934.3L699.7,934.8L698.8,934.3L698.3,934.7L697,934.2L694.7,935L693.8,934.5L692.9,935.2L692.5,934.7L689.3,934.5L687.5,935L686.6,934.5L685.7,935L685.3,934.3L684.8,935L683.9,935.3L683.5,934.4L682.6,935L682.1,934.3L681.7,934.6L680.3,934.2L679.4,935.1L678.1,934.7L677.6,935.3L676.7,935.1L676.3,934.4L675.8,934.9L675.4,934.5L674.9,934.9L674,934.5L673.1,935.2L670.9,934.5L670,935.2L668.6,934.6L668.2,935L667.3,934.3L665.9,934.6L665.5,935.4L664.6,934.6L663.7,935.4L663.2,934.7L661.9,935.4L661,934.8L659.6,935.3L659.2,934.9L658.7,935.6L658.3,934.9L657.4,934.8L655.6,935.3L654.7,934.7L654.2,935.3L653.3,934.8L652.9,935.4L652,934.2L651.1,935.3L650.2,934.9L649.7,935.5L649.3,934.8L647,935.4L646.6,935.1L646.1,935.5L645.7,934.9L644.8,935.6L643.4,935L638.9,935.4L638,934.7L637.6,935.6L635.3,934.7L634.9,935.3L634.4,934.7L634,935.4L633.5,935L632.6,935.8L631.7,935.1L631.3,935.5L630.8,934.9L629.5,935.6L629,935L628.6,935.4L627.7,934.8L626.8,935.7L625,935L624.5,935.6L623.6,935.7L622.7,935.1L621.4,935L620,935.7L619.6,935.1L619.1,935.5L618.7,934.9L618.2,935.2L617.3,934.8L616.9,935.3L615.1,935L613.7,935.4L613.3,935L611.9,935.7L610.1,934.8L608.8,935.9L608.3,934.6L606.5,935.5L605.2,935.4L604.7,935L603.4,935.7L602.9,935L602,935.7L600.7,935.3L599.3,936.2L598,935.6L594.8,936.4L594.4,935.4L593.9,936.3L593.5,935.9L592.1,936L591.7,935.5L589.4,936.1L588.1,935.4L587.6,936.1L586.3,936.4L584.9,935.4L584.5,936.2L583.6,935.9L583.1,936.2L582.7,935.8L581.8,936.8L579.5,936.3L579.1,937L578.6,936.3L577.3,936.2L576.8,935.6L575.9,936.9L575,936.3L574.1,936.7L573.7,936.2L573.2,937L571.9,935.7L571.4,937L571,936.6L570.5,937.1L570.1,936.3L567.8,937.4L566.9,936.6L566,937.2L564.2,936.6L563.3,937.4L562.9,936.6L562,937.2L561.5,936.6L561.1,937L560.6,936.5L557.9,937.1L557.5,936.5L557,937.7L556.1,936.9L555.2,937.4L554.8,937L553.4,937.5L553,937.2L551.6,937.4L551.2,937.9L550.3,937.2L549.8,937.7L548.5,937.7L548,938.4L547.6,937.8L546.7,937.7L546.2,938.2L544.9,937.5L544,938.1L543.5,937.4L542.2,938.3L541.7,937.6L540.8,938.3L539,937.8L538.1,938.3L537.7,937.9L536.8,938.7L535.4,938.3L535,938.9L534.5,938.3L534.1,939.1L533.2,938.4L530,939.1L529.6,938.8L529.1,939.3L528.7,938.7L527.8,938.7L527.3,939.3L526.9,938.7L525.5,939.8L524.6,938.9L523.7,939.7L522.8,939.1L522.4,939.5L521.9,939.2L521,940.5L520.1,939.5L518.3,940.7L517.9,940.5L517,941.1L516.1,940.8L513.4,942.7L512.9,942.4L512,943.7L511.6,943.4L510.7,944.1L508.4,944.5L507.5,945.7L507.1,945.2L506.2,946.1L504.4,946.6L503,948.7L502.1,948.7L500.8,950.3L499.4,950.7L497.6,953.7L497.2,953.1L495.4,956.7L494.9,956.5L491.8,962.7L488.2,973.7L484.6,992.8L482.8,1008.1L480.5,1034.9L473.8,1148.2L472.4,1159.6L471.5,1163.4L470.2,1165.3L468.4,1161.5L466.1,1145.2L458.9,1060.1L456.7,1040.1L454,1022.3L450.8,1007.2L448.1,998.6L446.3,994.2L445.9,993.4L445.4,993.9L443.6,988.7L443.2,989.3L442.3,987.2L441.8,987.4L438.2,982.5L437.3,982.4L435.1,979.7L434.6,980.2L434.2,979.1L432.8,978L432.4,978.7L431.5,977.4L429.7,976.4L429.2,976.6L428.3,975.7L427.9,976.2L427,975.2L425.6,975.7L425.2,974.7L424.7,975.1L422.5,974.5L421.6,973.5L421.1,974.1L419.3,973.8L418.9,974.2L415.7,973.4L414.4,973.9L413.9,973.5L412.6,974.3L412.1,973.7L408.5,974.1L405.8,975.2L405.4,974.6L404.5,975.3L403.6,975.1L403.1,975.8L402.2,975.6L401.8,976.6L401.3,975.8L399.5,977.2L399.1,977L397.7,977.7L397.3,978.6L395.9,978.9L394.1,980.9L393.7,980.1L386.9,988.5L386,990.5L385.6,990.5L382.4,997.3L379.3,1006.7L377.5,1013.1L373.9,1030.8L369.4,1064.1L363.1,1126.4L360.4,1143.1L359.9,1144.5L358.6,1145.4L357.2,1144.2L356.3,1142L354.5,1130.1L352.3,1103.2L347.3,1030.3L345.1,1006.7L343.3,993L341.5,982L338.3,969.4L334.3,958.7L332.9,957.5L332.5,955.7L331.6,955.5L328,950.1L327.5,950.5L327.1,949L326.6,948.9L326.2,949.6L325.7,948.1L324.8,947.2L323.5,946.7L322.6,947L321.2,945.8L320.8,946.2L319.4,945.2L318.5,945.4L317.2,944.4L315.8,944.5L314,943.6L313.6,944.1L312.2,942.8L310,943.3L308.6,942.3L308.2,943.3L306.8,942.5L305,942.8L304.6,942.4L304.1,943L303.7,941.8L302.8,942.5L301.4,941.6L301,942.4L300.5,941.4L300.1,942.1L298.7,942.3L298.3,941.6L297.4,941.7L296.9,941.3L296.5,942L295.1,941.4L294.7,941.7L293.3,941.3L292.9,941.9L292,940.8L291.5,941.8L290.6,941.3L290.2,942.3L289.3,941.1L287.5,941.8L286.6,941.2L284.3,941.7L283.4,941L281.6,941.1L281.2,941.7L280.7,941L279.8,941.4L279.4,940.6L278.5,941.5L278,940.9L277.1,941.6L274.4,941.2L274,942L273.1,941.2L272.2,941.3L271.7,940.8L270.8,941.7L270.4,940.8L269,941.7L268.6,940.9L268.1,941.7L267.7,941.1L267.2,941.7L265,941L264.5,941.9L264.1,941.1L263.6,941.6L262.7,940.7L260.9,941.8L259.6,940.9L258.7,941.3L258.2,940.6L257.8,941.6L256.9,941.9L256.4,941L254.2,940.9L252.8,941.6L251.9,940.8L251.5,941.4L250.1,941.6L249.7,941.1L249.2,941.5L248.8,941L247.9,941.5L246.5,940.8L245.6,941.3L244.7,941L244.3,942L243.4,941L242.9,941L242.5,941.7L242,940.4L241.1,941.5L239.8,941L237.1,941.6L234.4,940.7L233.5,941.4L232.6,941.2L232.1,942.2L230.8,941.1L230.3,941.7L229.9,941.1L229.4,941.7L228.5,941.7L228.1,941.1L227.6,941.6L227.2,940.8L226.3,941.7L225.4,940.8L224.9,941.6L223.6,941.2L221.3,941.7L220.4,941L220,941.4" fill="none" stroke="#f07a68" stroke-width="1.2" stroke-linejoin="round"/>
<path d="M220,942.3L220.4,941.3L220.9,941.7L221.8,941.3L222.7,941.9L224,941.8L224.5,941.1L224.9,941.8L226.7,941.2L227.2,941.8L228.1,941L229.9,941.9L230.8,941.4L231.2,942.1L231.7,941L233.5,942L233.9,941.1L234.4,941.5L236.2,940.8L237.1,941.5L237.5,940.9L238,941.5L239.3,940.4L239.8,941.5L241.6,940.8L242,941.3L242.9,941.3L244.3,940.6L244.7,941.2L245.2,940.6L246.1,941.3L246.5,940.7L247,941.2L248.3,940.8L249.7,941.5L251,940.6L251.5,941L254.6,940.9L255.1,941.3L255.5,940.6L256.4,941.2L256.9,940.8L258.2,941.4L259.1,940.3L261.4,941.3L263.2,940L263.6,941.2L265,940.1L265.9,940.7L267.2,940.3L267.7,941.1L268.6,940L271.7,940.5L272.2,939.9L272.6,941L273.5,939.8L275.3,940.8L275.8,939.7L277.1,940.4L277.6,939.9L278.9,940.4L279.4,939.8L279.8,940.2L280.7,940L281.2,940.5L281.6,940L282.1,940.5L282.5,939.8L283,940.5L283.9,939.7L284.8,940L285.2,939.6L285.7,940.1L286.6,939.6L287.5,940L288.4,939.5L288.8,940.2L289.3,939.4L290.2,940L291.1,939L291.5,939.5L295.1,939.7L295.6,938.8L296,940L296.5,939.1L296.9,939.5L297.4,938.7L298.3,938.8L298.7,939.5L301,938.7L302.3,939.2L303.2,938.5L304.6,939.2L305,938.6L305.9,939.3L306.4,938.5L309.1,938.2L309.5,938.7L310.4,938L312.7,938.7L313.1,937.7L313.6,938L314,937.5L314.9,938.1L316.7,937.3L317.6,938.3L318.1,937.3L318.5,938.1L319.4,937.1L319.9,937.6L321.2,937.2L321.7,937.8L322.1,937.1L323,937.3L323.9,936.4L325.3,936.9L325.7,936.2L326.6,937.1L327.1,936L327.5,936.6L328.4,936.6L328.9,935.8L329.3,936.3L329.8,935.7L330.2,936.5L330.7,935.7L332,935.7L332.5,935.1L332.9,935.6L333.8,935.3L334.3,935.6L334.7,935.1L336.1,935.2L336.5,934.4L337.9,934.3L340.6,933.4L341,932.4L341.5,933.3L341.9,932.5L342.8,932.4L343.7,931.5L344.6,931.9L346,930.6L347.3,930.4L348.7,928.4L349.1,929.1L349.6,927.8L350.9,928.1L351.4,926.7L353.2,925.1L354.5,922.3L355,922.4L355.9,921.3L356.3,919.7L358.1,917.1L361.3,908.3L365.8,885.7L368.5,862.8L370.3,842.2L377,745.3L378.8,732.2L379.7,729.4L380.6,728.2L381.1,728.6L381.5,727.8L382.9,729.7L383.3,731.4L386,747.2L392.8,808.9L396.4,837.5L400,858.2L404.5,877.4L408.5,889.5L409,889.6L410.8,894.1L414.4,900.8L417.1,903.6L417.5,905.1L418.9,906L419.8,907.5L420.2,907.3L421.6,909.5L422.9,909.9L424.7,911.6L425.6,911.6L427,913.4L428.3,913.5L429.2,914.3L429.7,913.9L430.1,914.9L430.6,914.7L432.4,916.1L433.7,916.1L434.2,916.9L435.5,916.5L436.4,918.2L437.3,917.7L437.8,918L438.2,917.2L439.1,918.7L439.6,918.8L440,918L440.5,919.1L442.7,918.9L443.6,919.7L444.1,919.2L445.9,920.1L446.3,919.1L447.2,920.3L447.7,919.8L449,919.8L449.9,920.7L452.2,920.2L453.1,920.8L454.4,919.9L455.8,920.1L456.2,919.3L456.7,919.9L458,919.4L458.5,920.2L459.4,918.8L460.3,919.2L463,917.4L463.4,917.7L463.9,916.4L464.8,917.1L465.7,915.7L466.1,916.3L469.7,911.9L472.4,906.3L472.9,906.6L475.1,900.6L479.2,882.5L481.9,862.8L490.9,754.2L492.7,744.1L494,742.6L494.5,742.7L494.9,741.7L495.8,742.3L497.2,745.3L499.9,758.5L508,819.3L510.7,836.5L515.2,859.6L519.2,875.1L525.1,890.6L525.5,890.8L530,899.8L530.9,900.5L531.8,902.3L533.2,903.3L536.3,908L537.7,908.7L539.5,910.9L539.9,910.7L540.8,912.2L542.6,912.9L543.5,914.1L545.3,914.6L545.8,916L546.2,915.4L548.9,917.5L549.4,917.1L550.7,918.2L551.2,918L551.6,918.6L552.5,918.3L554.8,920.2L555.2,919.7L555.7,920.4L557,920.5L557.9,921.2L559.7,921.3L561.1,922.7L561.5,921.9L565.1,923.5L565.6,923L566,923.8L566.5,923.1L566.9,924.4L567.8,923.9L568.3,924.6L568.7,924.3L571,925.1L572.8,924.8L573.2,925.9L574.1,925.2L575,925.8L575.5,925.2L576.8,926.6L578.6,926.8L579.1,926.2L580,926.9L580.4,926.4L581.8,927.6L582.7,926.9L584,927.7L584.5,927.2L585.4,927.1L585.8,927.7L587.2,927.6L588.1,928.4L588.5,927.6L591.7,928.9L593.5,928.3L593.9,928.8L595.7,928.4L598.4,929.7L599.8,928.8L600.7,929.2L601.1,928.9L602,929L603.4,930.2L603.8,929.4L605.2,929.3L605.6,929.8L607.4,929.8L607.9,930.3L608.3,929.8L608.8,930.2L610.1,930.3L610.6,929.7L612.4,930.3L613.3,929.8L614.2,930.4L614.6,930.1L615.1,930.7L616.4,930.6L616.9,930.2L617.3,931.1L617.8,930.3L618.7,930.7L620,930.4L621.4,931.1L621.8,930.5L622.3,930.9L624.1,930.7L624.5,930.3L625.4,930.9L627.2,930.7L627.7,931.2L628.1,930.8L628.6,931.7L629,930.7L630.8,931.4L631.7,930.9L632.2,931.6L634,930.7L634.9,931.7L635.3,930.8L636.2,931.2L636.7,930.5L637.1,931.6L637.6,930.8L638.9,931.6L639.8,930.7L640.7,931.3L641.2,930.7L643,931.7L643.4,930.6L643.9,931.5L645.7,931L647.5,931.8L648.4,931.2L648.8,931.7L649.3,930.6L650.6,932.1L651.1,931.2L651.5,931.4L652,931L654.7,931.4L655.6,930.9L656.5,931.5L656.9,931L657.4,931.6L659.6,930.9L660.1,931.4L661,931L662.8,931.5L663.2,930.8L665,931.4L665.9,930.3L666.4,930.8L666.8,930.4L667.3,931.4L667.7,930.6L670.4,931L670.9,930.6L671.3,931.2L672.2,929.9L672.7,930.9L673.1,930.1L674,931.2L674.9,930.2L676.3,930.9L676.7,930.2L677.2,930.7L678.5,930.3L679,930.8L679.4,929.8L680.3,930.5L681.2,929.8L682.1,929.8L682.6,930.3L683,929.9L683.5,930.5L686.2,929.9L688,930.1L688.9,929.5L689.8,930.2L690.7,929.2L691.1,929.7L694.3,929.5L695.2,929L696.1,929L696.5,929.4L697,928.9L699.2,929.4L700.6,929.2L701,928.5L701.9,929.3L702.8,928.6L703.3,929.2L703.7,928.6L704.2,928.9L704.6,927.8L705.1,928.5L706.4,928.7L707.8,927.3L708.2,928.3L709.6,927.8L711.4,928.3L712.3,927.2L713.2,927.9L713.6,927.3L715.9,926.5L716.3,927.2L717.2,927.2L718.6,926.3L719.9,927.4L720.4,926.2L721.3,926.7L721.7,926.1L723.5,926.4L724.4,925.6L724.9,926.1L726.2,925.5L726.7,925.8L727.1,925.3L728.9,925.6L729.4,924.8L730.7,925.6L732.5,924.4L733.9,924.7L734.3,924.2L736.6,924.5L737,923.6L738.4,924.1L740.2,922.9L740.6,923.6L741.1,922.7L742,923.5L742.9,922.5L743.3,923L744.2,922.7L744.7,923.2L745.6,922.1L746.5,922.6L747.8,921.6L749.2,922.1L749.6,921.6L750.5,922L751,921L751.9,921.8L752.3,921.1L753.2,921.4L754.6,920.3L755,920.9L756.4,919.6L756.8,920.6L757.7,919.9L758.2,920.4L758.6,919.2L759.1,919.8L759.5,919.2L760,920.4L760.4,918.7L761.8,919.4L763.1,918.8L763.6,919.4L764,918.4L764.9,919L765.4,918L766.3,918.4L767.2,917.5L768.1,918.2L768.5,917.4L769,917.6L769.9,917L770.3,917.5L773.9,915.9L774.4,916.3L774.8,915.4M774.8,934L773.5,933.8L772.6,934.4L771.7,934L771.2,934.7L770.8,933.8L770.3,934.5L769.4,933.8L768.1,934.6L766.3,933.7L765.8,934.2L765.4,933.8L763.6,934.5L762.2,934.2L760.9,934.7L759.5,933.8L758.6,934.6L758.2,934.1L757.7,934.7L755.5,933.8L753.7,934.3L753.2,933.5L752.3,934.5L751.9,933.6L751.4,934.2L750.5,933.7L750.1,934.6L748.7,934.2L748.3,934.7L747.4,934.3L743.3,934.2L742.4,934.6L740.2,934L737.9,934.8L737,934.3L735.2,934.6L734.3,934L733,934.4L731.6,934L731.2,934.6L729.8,934.4L729.4,935L728.5,934.5L725.3,934.4L724.4,934.8L724,934.2L723.1,934.2L722.6,934.8L722.2,934.4L721.7,934.8L721.3,934.3L720.8,934.8L720.4,934.4L719.5,934.7L718.6,934.4L716.8,935.3L716.3,934.4L715.4,934.1L714.5,934.7L713.2,934.7L712.3,934.1L711.8,934.9L709.6,934.4L707.8,935L706.9,933.8L706.4,934.6L705.5,934.9L703.3,934.4L702.8,935.1L701.9,934.7L701,935.3L700.6,934.6L699.2,934.3L697,934.9L696.5,934.5L696.1,935L695.6,934.4L693.4,935.3L692.5,934.7L691.1,934.8L689.3,934.2L688.9,935.5L688,934.1L687.5,934.9L686.6,934.1L684.8,935.1L684.4,934.5L681.7,935.2L680.8,934.4L680.3,935.3L678.1,934.7L674.9,935.3L674.5,934.7L673.6,935.2L672.7,934.2L672.2,935L670.4,934.7L670,935.2L668.2,935.2L667.3,934.6L665.5,935.3L664.1,934.6L663.2,935.6L662.8,934.8L661.4,935.4L660.5,934.7L658.3,935.7L656.5,934.8L655.6,935.4L653.8,935L649.3,935.4L648.8,934.8L648.4,935.5L646.6,934.7L645.2,935.4L644.8,934.7L643.4,935.6L643,935.2L642.1,935.5L641.6,934.8L640.7,934.7L638.9,935.3L636.2,934.7L635.3,935.3L634,934.5L633.1,935.2L632.6,934.8L632.2,935.3L631.3,935.3L630.4,934.8L629.5,935.4L628.1,935L627.2,935.6L626.3,934.9L625.9,935.4L625,935.1L624.5,935.4L624.1,934.4L623.2,935.8L622.3,934.7L621.4,936L620.5,935L618.7,935.6L617.8,934.6L616.4,935.8L615.5,934.9L614.6,935.4L614.2,934.8L613.7,935.7L613.3,935.3L611,935.8L610.6,935.2L609.7,935.7L607.4,935.3L607,934.4L606.1,935.9L604.3,935.2L603.8,935.6L602,935.3L599.8,935.7L598.9,934.9L597.1,935.8L596.6,935.2L592.6,935.9L590.3,935.7L589.4,936.7L588.5,935.9L586.7,936.4L586.3,935.7L585.8,936.7L585.4,935.8L584.9,936.1L583.6,935.6L583.1,936.7L581.8,935.8L581.3,936.6L580.9,935.9L580,936.8L579.1,936.7L578.2,935.8L577.3,935.8L576.8,936.5L576.4,936L574.6,936.6L573.7,936.2L573.2,936.8L572.3,936.1L571.9,936.9L571.4,936.2L570.5,936.8L568.3,936.4L567.8,937L566.9,936.6L566.5,937.2L565.6,936.4L563.8,937.5L563.3,936.8L562.9,937.3L561.1,936.9L559.3,937.6L558.8,936.6L558.4,937.5L557,936.9L556.6,937.3L556.1,936.7L555.7,937.7L555.2,937L553.9,937.5L553.4,937L552.1,937.9L550.7,937L549.8,938.1L549.4,937.5L548,937.9L547.6,937.2L547.1,938.3L545.8,937.8L545.3,938.4L544.9,937.7L544.4,938.1L543.5,937.6L542.6,938.2L539.5,937.9L538.1,938.7L536.3,938.1L535,938.9L534.5,938.3L532.7,938.9L532.3,938.4L531.8,939.3L530.9,938.4L529.6,938.3L529.1,938.9L528.7,938.4L528.2,939.2L527.8,938.6L526.9,939.7L526.4,939.1L525.5,939.7L524.2,939.2L521,940.1L520.1,939.7L519.2,940.5L518.3,939.9L517.4,941.3L516.5,941L516.1,941.9L515.6,941.4L515.2,942.1L514.7,941.9L514.3,942.5L511.1,943.4L510.2,944.4L509.3,944.3L506.6,946.5L505.3,946.4L503.5,948.4L501.2,949.6L500.3,951.2L499,952L495.8,956.7L492.2,964.8L489.5,974.3L487.3,985.8L485,1003.3L482.8,1027.9L476.9,1114.3L475.1,1128.6L474.7,1130.3L472.9,1132.2L472,1131.6L471.5,1130.4L469.7,1122.1L462.5,1051.3L458.5,1020.6L454.9,1003.7L452.6,996.7L449.9,990.3L448.1,986.9L446.8,985.3L446.3,985.5L445,983.2L443.2,981.5L442.7,981.7L442.3,980.7L441.8,980.9L440.9,979.9L440.5,980.3L439.1,978.6L438.7,978.8L438.2,978L437.8,978.1L436.4,976.9L435.1,976.9L433.7,975.3L432.8,975.8L431.9,974.9L428.8,974.8L427,973.7L426.5,974.3L426.1,973.3L425.6,973.7L424.3,973.1L422.9,973.8L422.5,972.8L422,973.5L419.3,973.4L418.9,974.1L417.5,973.2L417.1,973.9L416.6,973.4L413.9,973.6L412.1,974.9L411.7,975L411.2,974.4L410.3,975.1L409.9,974.7L409,975.6L408.5,975.1L407.6,976.2L405.4,976.5L402.2,978.6L401.8,978.3L400,980.5L397.7,981.9L394.6,985.8L392.3,988.8L391,992.1L389.6,994.1L385.1,1006.2L382.4,1017.1L379.3,1034.2L376.1,1056.8L367.6,1138.8L366.2,1146.6L364.4,1150.3L362.6,1149.1L361.7,1146.3L359.9,1134.2L352.7,1032.4L349.1,997.8L347.3,986.4L343.7,971L340.6,963L338.3,959L337.9,958.9L336.5,955.9L336.1,956.1L333.8,952.5L333.4,952.7L332.5,951.6L332,950.3L331.6,950.8L330.7,948.9L329.3,949L328.9,947.4L328,947.5L327.5,946.7L324.8,945.1L323.5,945.2L323,944.9L322.6,945.2L322.1,944.1L321.2,944.6L320.3,943.3L319,944.6L318.5,943.7L318.1,943.9L317.6,943.3L317.2,943.7L316.7,942.6L315.8,943.2L315.4,942.7L314.9,943.4L314.5,943.1L314,943.5L313.6,942.5L312.7,943L312.2,942.6L311.8,942.9L310.9,942.4L310,942.6L308.6,942.2L307.3,942.8L306.8,941.7L305.5,942.5L305,941.7L304.6,942.6L304.1,942.6L303.7,941.2L303.2,942L301.9,941.2L300.5,942L299.6,941.3L299.2,942.2L297.8,941.5L297.4,941.8L296,940.9L295.6,941.5L295.1,940.8L294.7,941.6L294.2,941L293.8,941.5L292.4,941.1L291.5,941.8L290.6,941.3L290.2,941.6L289.3,940.8L288.4,941.6L287.9,941.2L286.6,941.1L286.1,941.6L285.2,941L283.9,940.9L283,941.4L280.7,940.9L280.3,941.6L279.8,940.9L278.5,941.3L277.6,940.7L277.1,941.8L276.7,940.8L276.2,941.3L275.8,940.8L275.3,941.4L274.9,940.8L274.4,941.7L273.5,940.7L273.1,941.7L272.6,940.6L271.7,941.5L271.3,941L270.8,941.5L269.9,940.9L269.5,941.5L268.6,941L268.1,941.4L267.2,940.7L266.3,941.9L265.9,941.8L265.4,940.6L264.5,941.5L263.2,940.8L262.3,941.4L260.5,940.7L258.7,940.9L258.2,941.7L257.8,940.6L256.4,941.3L256,940.7L255.5,941.2L254.6,940.9L253.3,941.5L252.8,940.8L252.4,941.5L250.1,941.1L249.2,941.7L248.8,941.1L247.9,941.5L247.4,940.8L247,941.7L246.5,941.3L246.1,941.6L245.2,940.9L244.3,941.3L243.8,940.9L243.4,941.5L242.5,940.9L242,941.4L239.8,940.9L237.1,941.5L236.6,940.9L235.7,942L235.3,941.1L233.9,941.1L233.5,941.6L232.1,941.1L231.7,941.5L230.3,941.2L229.9,941.8L229.4,941.3L228.5,941.7L228.1,941.3L227.6,941.6L227.2,941L226.7,941.5L226.3,940.7L225.8,941.4L224.9,941.1L224.5,941.7L223.1,941.8L221.8,941.4L221.3,942L220,941.1" fill="none" stroke="#f07a68" stroke-width="1.2" stroke-linejoin="round"/>
<path d="M220,941.5L220.9,942.1L222.7,941.4L223.1,942L223.6,941L224.5,941L225.4,942.4L225.8,941.3L226.7,942.1L227.2,941.3L228.5,941.7L229,941L229.9,942L230.3,941.2L231.2,941.8L233.9,940.9L235.3,941.6L236.2,941.1L236.6,941.9L237.1,941.3L241.1,940.8L241.6,941.8L242,940.9L242.5,941.7L242.9,941.3L243.8,941.6L244.3,940.7L244.7,941.7L245.6,941L246.5,941.2L247,940.6L247.4,941.6L247.9,941L248.3,941.3L250.1,940.8L250.6,941.4L251,941L253.3,941.4L254.2,940.7L256,941.3L257.3,940.7L258.7,941.1L260.9,940.5L262.3,941.1L263.2,940.4L264.1,941.2L264.5,940.4L265.4,941L266.3,940.2L266.8,941L267.2,940.7L268.1,941L269,940.4L269.5,940.8L271.7,940.9L272.2,940.3L273.1,940.8L273.5,940.2L274.4,940.5L275.8,939.9L276.2,940.8L276.7,940.4L277.1,940.8L277.6,940.1L278.9,940.4L279.4,939.8L279.8,940.7L281.2,939.9L281.6,940.7L282.1,939.7L282.5,940.7L283,940L283.9,939.9L284.3,940.5L284.8,939.8L285.7,939.7L286.1,940.1L287,939.7L287.9,940.4L289.3,939.5L289.7,940.3L291.5,938.9L292,939.8L292.4,939.3L293.3,940L293.8,939.2L294.2,939.8L295.1,939.2L295.6,939.9L296.5,939.2L296.9,939.6L297.8,939.1L298.7,939.6L299.2,938.8L300.1,939.5L300.5,938.8L304.6,939.3L305.5,938.8L306.8,939.1L308.6,938.3L309.1,938.8L310.4,938.5L310.9,939.2L311.3,938.3L311.8,939L312.2,937.9L313.1,939L314.9,937.7L315.4,938.4L316.7,938.8L318.1,937.4L319.9,938.5L321.2,937.8L323,938L323.9,937.1L324.4,937.2L324.8,938.4L325.7,937.3L327.5,937.3L328,936.6L330.2,937.4L330.7,936.8L332,936.9L332.5,936.4L332.9,937.1L333.4,936.1L334.7,936.6L335.2,935.7L337,936L337.4,934.9L338.3,935.5L340.1,935.1L340.6,934.4L341,935.1L341.5,934L341.9,934.5L343.3,933.9L343.7,934.3L345.5,933.8L346,933.3L347.3,933.1L348.2,931.7L348.7,932.2L350.9,931L351.8,931.1L353.2,929.6L355.9,928.4L357.2,926.4L358.1,926L359,924L359.9,923.7L363.5,917.8L366.2,910.1L368.5,901.6L371.6,882.1L375.2,843.8L382,740.3L383.3,729.8L384.7,725.3L386,724L386.9,724.9L387.8,727.8L390.1,739.5L397.7,807.2L402.2,840.4L406.3,862L410.8,879.3L414.8,889.9L418.9,897L419.3,898.6L421.6,901.6L422,901.7L424.7,905.8L425.6,905.8L426.5,907.6L427,907.4L428.3,909.1L429.7,909.6L430.6,910.9L431.5,910.5L431.9,911.9L432.8,911.7L434.6,913.7L435.5,913.5L437.8,915.2L438.2,914.8L438.7,915.5L439.1,915L440,916.5L441.4,915.5L442.3,917L443.6,916.7L445,917.2L445.9,918.2L446.8,917.8L448.6,918.4L449,918L450.4,918.9L450.8,918.4L452.2,919L452.6,918.3L453.1,918.7L456.7,918.7L457.1,919.2L458.9,919.2L459.4,918.6L463,918.1L463.4,917.2L463.9,917.6L464.8,916.8L466.1,916.5L468.4,915L469.7,913.2L470.2,913.4L470.6,912.3L472,911.3L473.3,908.1L473.8,908L476.5,901.9L479.6,890.8L482.8,871.8L485.5,847L492.7,756.7L494.5,746L495.4,744.2L496.7,743.4L497.2,743.8L498.1,743.8L499,746L500.3,749.9L502.1,759L510.2,814.8L513.8,836.6L517.4,854.8L522.4,873.3L529.1,890.7L530.9,893.4L531.8,895.7L535.9,901.5L536.8,902.2L538.1,904.5L540.4,906L542.2,908.6L542.6,908.4L543.5,909.4L544.4,909.6L545.3,911.3L545.8,910.8L546.2,911.9L548,912.9L548.9,914L551.2,915.1L551.6,914.9L552.5,915.8L553,915.5L553.4,916.3L555.2,917L555.7,918.1L556.1,917.1L558.4,919.2L558.8,918.7L560.6,919.8L561.1,919.4L562.9,920.7L563.3,920.2L563.8,920.8L564.7,920.4L566.5,921.4L566.9,922.2L568.7,922.5L569.2,923.3L570.5,922.7L572.8,923.6L573.2,923.2L575,923.7L576.4,924.7L576.8,924.2L577.3,924.7L577.7,924.1L578.6,925.2L581.8,925.6L582.7,925.5L583.1,924.9L583.6,925.9L584,925.6L584.9,926.3L586.3,926.1L586.7,926.5L588.1,926.6L588.5,927.2L589,926.4L590.3,927.3L591.2,927L592.1,927.7L593,927.3L594.4,928L594.8,927.5L595.7,928.2L596.2,927.8L596.6,928.5L597.1,927.8L598,928.3L599.3,927.8L600.2,928.3L600.7,927.9L601.1,928.6L602.9,928.7L603.4,928.3L603.8,928.8L604.7,928.5L605.2,928.8L606.1,927.9L606.5,928.9L607.4,929.4L607.9,928.8L608.3,929.2L609.2,928.7L611.5,929.5L611.9,928.8L612.8,929.8L613.7,929L614.2,929.1L614.6,930L615.1,929.1L615.5,929.8L616,928.9L617.8,929.9L619.6,930.2L620.5,929.1L621.4,930L622.3,930.1L623.6,929.3L624.5,929.8L625.4,929.4L625.9,930.3L628.1,929.6L628.6,930.2L629.5,929.7L629.9,930.4L630.8,930.2L631.3,929.5L631.7,930.6L632.6,929.7L634,929.8L634.9,930.6L635.3,930.1L636.7,930.2L637.1,929.8L637.6,930.7L638,929.8L638.9,930.8L639.8,929.9L640.7,931L641.6,929.9L643.4,930.4L643.9,929.6L644.3,930.4L645.7,930.1L646.1,930.7L647,930.7L647.5,930.2L648.4,930.9L649.3,930.1L652,930.7L654.2,929.6L655.1,930.8L655.6,930.2L656.5,930.4L656.9,929.5L658.3,930.4L659.6,929.4L660.1,930L661,929.4L661.9,929.8L662.3,929.4L662.8,929.9L663.7,929.6L664.1,930.3L664.6,929.4L665.5,929.5L665.9,928.9L666.4,929.8L668.6,929L670.9,929.6L671.8,928.6L672.7,929.4L673.1,929L674,929.3L674.5,928.7L675.4,929.5L676.3,928.7L677.6,928.4L678.1,929L679,928.1L679.4,929L679.9,928.4L680.8,928.7L682.1,927.8L683,928.5L683.5,928L684.4,928.7L684.8,927.9L685.3,929.4L686.2,927.8L687.5,928.4L688,927.6L688.4,928.1L688.9,927.5L689.8,928.2L691.1,927.6L691.6,927.9L692,927.4L692.9,927.5L693.4,927L694.3,927.2L694.7,927.8L695.6,926.8L696.5,927.1L697,926.7L697.4,927.1L698.3,926.6L698.8,927.1L699.2,926.2L699.7,927.4L700.6,926.2L701,926.7L701.9,926.8L702.8,926L705.5,926.1L706,925.1L706.9,926L709.6,924.5L710,925.2L711.4,924.2L711.8,924.6L712.3,924.3L712.7,924.9L713.6,923.9L714.5,924.8L715.4,923.8L716.3,923.5L716.8,924L717.2,923.2L718.1,923.8L722.6,922.3L723.1,922.8L724.4,922.7L724.9,921.9L726.2,922.1L726.7,921.2L727.6,921.7L728,920.9L728.9,921.6L729.8,920.7L732.1,920.7L732.5,919.6L733.4,920.1L734.3,919L735.2,919.7L736.6,919.5L737,918.6L737.9,918.9L738.4,919.7L738.8,918.3L739.7,918.8L741.1,918.3L741.5,917.3L742,917.8L742.4,917.4L742.9,917.9L744.7,916.5L745.1,917.1L745.6,916.1L746.9,916.5L747.8,915.7L748.7,916.2L749.2,915.2L749.6,915.8L750.1,915L751.4,914.4L751.9,915.1L753.2,913.7L753.7,914.2L754.1,913.5L754.6,914.1L755,913L755.5,913.6L755.9,912.7L757.7,912.8L758.6,912L759.1,912.3L759.5,911.4L761.8,911.3L762.2,910.2L763.1,911L764,909.5L764.5,910.1L767.2,908.2L767.6,909.1L768.1,907.8L769.9,907.7L770.3,906.9L771.7,907L772.1,906.1L773,906.2L773.5,905L773.9,905.2L774.8,904.4M774.8,934.2L773.9,934.6L772.6,933.9L772.1,934.5L771.7,933.8L771.2,934.1L770.3,933.8L769.9,934.3L769.4,933.8L768.1,934.7L767.6,933.8L766.3,933.9L765.8,934.7L764.5,934L764,934.5L763.1,934.3L762.2,934.7L760.9,934L760.4,934.7L759.5,933.6L758.6,934.6L758.2,933.8L757.3,934.6L756.4,933.9L755.5,934.4L755,934L753.7,934.3L753.2,934.9L751,933.7L750.5,934.3L749.6,934.2L748.7,934.8L748.3,933.8L747.8,934.5L746.5,934.2L746,934.9L745.6,934.6L745.1,935L744.2,934.1L742.4,935L741.5,934L741.1,934.7L739.7,934.9L738.8,933.9L738.4,935.1L737.5,934.4L736.6,935.1L736.1,934.5L735.7,935L735.2,934.5L734.8,935.1L734.3,934.5L733.9,934.8L732.1,934.4L731.2,934.7L730.3,934.3L729.4,934.9L728.5,934.2L727.1,935L726.7,934.2L726.2,934.9L725.3,934.3L724.4,934.9L724,934.4L723.1,935.2L722.6,934.3L721.7,934L721.3,934.7L719.9,934.3L719.5,935L718.6,934.7L718.1,934L715.9,935.1L713.2,934.6L712.7,934.1L710.9,934.6L710.5,934L709.1,935L707.8,934.5L705.5,934.8L704.2,934.2L703.7,934.9L702.8,934.5L702.4,935.4L701.9,934.3L701.5,934.7L701,934.3L700.1,934.8L699.7,934.6L699.2,935.3L698.8,934.4L692.5,934.9L692,934.1L691.6,935.2L691.1,934.8L690.2,934.9L689.8,934.3L689.3,935L688.4,934.6L688,935L687.1,934.5L686.6,935L685.3,934.8L684.8,935.3L684.4,934.6L682.6,935L682.1,934.5L681.7,935L679.9,934.4L679,935.4L678.5,934.7L676.7,935L675.4,934.5L674.9,935.2L674.5,934.8L672.2,934.9L671.8,935.5L670.4,934.8L669.1,935.1L667.7,934.6L666.8,935.2L664.1,934.8L663.2,935.2L662.8,934.6L660.5,935.2L660.1,934.8L659.6,935.7L659.2,935.1L658.7,935.5L658.3,935.2L657.8,934.5L656,935.2L655.6,934.4L654.2,935.4L653.3,934.6L650.6,935.5L650.2,934.7L649.3,934.6L648.4,935.1L647.9,934.7L647.5,935.2L646.1,935.2L645.2,934.8L644.8,935.5L644.3,935L643.9,935.4L643,934.4L642.5,935.3L642.1,934.8L641.2,935.4L640.7,934.7L639.4,935.8L638.9,934.9L638,935L637.6,935.5L637.1,935L636.7,935.6L636.2,934.8L635.3,935.6L633.5,934.8L632.6,935.5L631.7,934.8L629.9,935.8L628.6,934.6L627.2,935.7L626.8,935L626.3,935.6L625.9,935.2L625.4,935.4L623.2,935L622.3,935.4L621.8,934.9L620,935.7L619.6,935.1L619.1,935.8L618.7,934.8L617.8,935.5L617.3,934.6L616.4,935.5L616,934.9L615.1,935.9L614.6,935.4L613.3,935.7L612.8,935.3L611.9,936L610.1,934.5L609.7,935.4L607.9,935.7L605.2,935.3L604.7,935.8L603.8,935.5L603.4,936.1L602.5,935.2L601.1,935.4L600.7,935.9L598.9,935.9L598.4,935.1L596.2,936.2L595.3,936.1L594.8,935.5L593.9,936.1L593.5,935.5L592.1,936.5L591.7,935.3L591.2,935.8L590.3,935.3L589.4,936.1L588.1,936.4L587.6,935.7L586.7,936.5L585.4,935.7L584,936.2L581.3,935.9L580.9,936.3L580,936.1L578.6,936.9L576.4,936L575.9,936.9L575,936.3L574.6,937.1L572.8,935.9L572.3,936.8L571.4,936.2L571,936.8L570.1,936.4L569.2,936.9L568.3,936.6L567.8,937.3L567.4,936.7L566.9,937.2L566,936.8L565.6,937.3L565.1,936.7L563.8,937.3L562.9,936.6L562,936.5L561.1,937.1L558.4,937.3L557.9,937.9L557.5,937.2L556.1,937.1L555.7,937.6L555.2,937L554.8,938.1L554.3,937L553.4,937.8L552.5,937.8L552.1,937.1L551.6,937.9L550.7,938.1L549.4,937.3L548.9,937.9L548.5,937.5L547.6,938.4L547.1,937.6L546.7,938L545.3,937.4L543.5,938.6L543.1,938.1L542.6,938.5L541.7,938L540.4,938.5L539.9,937.8L539.5,938.6L537.2,938.1L535.9,938.7L535.4,938.4L535,939.2L534.5,938.1L534.1,939.2L533.2,938.7L532.7,939.5L532.3,939L531.4,938.9L530,939.7L528.7,939.2L525.1,939.9L524.6,939.2L524.2,939.9L523.7,939.3L522.8,940.3L521.9,939.9L518.8,940.8L518.3,941.4L517.4,941.2L517,942.1L516.1,941.8L515.6,942.6L514.3,942.9L512.9,944.1L512.5,943.8L512,945L511.6,944.4L510.7,945L510.2,944.8L508.4,946.9L506.6,947.5L506.2,948.7L503.9,950L500.3,955L499.9,954.8L494.9,966.7L491.3,982.3L489.1,998L486.8,1021L480.5,1116.8L478.7,1133.3L477.8,1137L476.5,1138.3L475.6,1138.2L474.7,1137.1L472.9,1126.9L466.6,1061.6L462.1,1024.1L458.5,1005.9L454,992.5L452.2,989L451.7,989L451.3,987L449,984.3L448.6,984.7L446.8,981.8L446.3,982.4L445.4,980.5L444.1,980.4L443.6,979.7L442.3,979.3L441.8,978.6L439.1,978.3L438.2,977L435.5,976.5L434.2,975.5L432.8,975.8L430.1,974.4L429.7,974.8L428.8,974.3L427.9,974.7L427,974.2L426.1,974.7L425.2,973.9L424.3,974.6L423.8,974.1L423.4,974.8L422.5,974.3L421.6,974.8L419.8,974.8L419.3,975.3L413.9,975.8L413.5,976.4L411.7,976.7L410.8,977.8L410.3,977.4L407.2,979.8L406.7,979.3L404,982.5L403.6,982.1L401.8,984.3L401.3,984.2L400,986.8L399.5,986.5L397.3,990.6L396.8,990.7L393.2,997.9L389.2,1010.2L386.5,1022.9L382.9,1045.2L380.6,1063.5L371.6,1159.3L370.3,1167.6L368.5,1172.3L367.1,1171.5L366.2,1169.8L364.4,1159.7L361.7,1124.4L356.8,1043L352.7,1001.5L350,984.9L347.3,973.6L343.7,964.1L341.5,960.1L341,960L339.2,956.7L337.4,955.2L336.5,953.3L335.2,952.1L334.7,952.2L333.8,950.7L330.7,948.5L330.2,947.7L328.4,947.1L327.5,945.9L324.8,945L323.9,943.9L323,944.2L322.1,943.7L321.2,944.2L320.8,943.7L319.9,944.2L319.4,943.4L319,943.7L318.5,943L317.2,943.5L316.3,942.9L315.4,943.4L314.5,942.6L312.7,942.9L312.2,942.2L311.8,943.1L311.3,941.9L310.9,942.5L310.4,941.8L309.5,942.7L308.6,942.7L308.2,942L307.3,941.8L306.8,942.9L305.9,941.7L304.6,942.1L303.7,941.2L302.8,941.9L301.4,941.2L301,941.9L299.6,941.3L299.2,942L298.7,941.4L298.3,941.8L297.8,941.4L296,941.5L295.6,941.1L295.1,941.9L294.2,941.2L293.8,941.7L293.3,941.1L292,941.6L291.5,940.8L291.1,941L290.6,940.6L290.2,941.4L288.4,941L287.9,941.4L287.5,940.9L286.1,941.5L285.7,940.8L285.2,942.1L284.3,940.7L283,941.4L282.1,940.9L281.6,941.3L280.3,941L278.9,941.6L278.5,941L277.6,941.6L277.1,940.9L276.7,941.4L276.2,941L274.9,941L274.4,941.6L273.1,941.1L271.7,941.3L271.3,940.7L270.4,941.3L269,940.6L268.6,941.2L267.7,941L267.2,941.9L266.3,940.5L265.9,941.3L265.4,940.6L264.5,941.1L264.1,940.8L263.6,941.4L261.8,940.8L260.9,941.7L260.5,941.1L259.6,941.2L259.1,940.8L258.7,941.3L257.3,940.6L256.4,941.7L255.5,941.4L254.6,940.3L254.2,941.6L253.3,940.6L252.8,941.2L251.5,940.8L250.6,941.4L250.1,940.7L249.7,941.3L249.2,940.7L248.8,941.4L248.3,941.1L247.9,941.4L247,940.7L245.2,941.5L244.7,940.8L243.8,941.9L242.5,940.7L242,941.3L241.6,941.5L241.1,941L239.8,941.6L238.4,941L238,941.5L237.5,940.8L237.1,941.7L235.7,940.7L234.8,940.8L233.5,941.9L233,941L232.1,941.9L230.8,941.1L230.3,941.8L229.9,941.3L228.5,941.8L226.3,940.8L224.9,941.3L223.6,940.8L223.1,941.5L222.2,941.7L221.8,941L220.4,941.5L220,941.2" fill="none" stroke="#f07a68" stroke-width="1.2" stroke-linejoin="round"/>
<path d="M220,941.9L220.4,941.4L220.9,941.8L223.6,941.9L227.2,941.2L228.1,941.8L228.5,941.3L230.8,941.8L231.7,941.1L233.5,941.7L233.9,941L235.3,941.7L235.7,941.4L237.1,941.7L238,941.1L239.3,941.8L240.2,940.8L240.7,941.6L241.6,940.7L242.9,941.1L243.4,941.9L243.8,941.1L244.7,941.3L245.6,940.6L246.1,941.7L247,940.9L247.4,941.3L248.3,940.9L248.8,941.4L250.1,940.9L250.6,941.5L251.5,940.2L252.8,941.8L253.3,941L255.1,941.1L255.5,940.7L256.4,941.3L256.9,940.6L258.2,941.1L261.8,940.6L262.3,941.2L263.6,940.2L264.5,940.8L265.4,940.7L265.9,941.3L266.8,940.4L267.7,940.9L269.9,941.1L270.4,940.5L271.7,940.6L272.2,941.1L273.5,940.2L274.4,940.7L275.3,940.2L276.7,940.8L277.6,940.8L278,940.2L279.4,941.3L280.7,940.3L281.2,941L282.1,940.4L283.4,940.5L284.8,939.8L285.7,940.1L286.1,939.5L287.9,940.7L288.4,939.5L289.7,940.1L291.5,939.8L292,940.5L292.4,939.7L293.3,940.1L295.6,939.4L296.5,940.1L297.4,939.4L297.8,939.8L299.2,939.5L299.6,939.8L300.5,939.2L301,939.8L301.4,938.9L302.3,939.5L303.2,939.2L303.7,939.9L305.9,939.1L306.8,939.6L307.3,938.8L308.2,939.7L309.1,938.7L310.4,939.3L311.8,938.6L312.7,938.9L313.1,938.4L314,938.5L314.5,939.1L315.4,938.5L315.8,939L317.2,938.5L317.6,938.9L318.5,938L319.4,938.4L319.9,937.7L320.3,938.7L320.8,938.7L321.2,938.1L321.7,938.6L323,938L323.5,938.7L324.4,937.9L324.8,938.3L325.7,937.8L326.6,938.1L327.1,937.4L328.4,938.1L330.2,937.4L332,937.9L332.9,936.7L333.8,937.6L334.7,936.8L335.2,937.3L335.6,936.8L337,937.1L337.4,936.4L337.9,937.1L338.3,936.8L338.8,937.3L339.7,935.9L340.1,936.4L340.6,936L341,936.3L341.5,935.7L341.9,936.4L343.7,935.5L344.2,936.2L345.1,936.1L345.5,935.5L348.2,935.4L348.7,934.5L349.1,935.4L350.5,934.5L350.9,934.8L352.3,934.5L352.7,933.9L353.2,934.2L353.6,933.6L354.5,934.1L355,933.3L358.1,932.4L358.6,932.9L359,931.5L359.9,931.8L360.4,931.1L361.3,931.1L361.7,929.9L362.2,931L363.5,929.3L364.9,928.4L365.3,928.5L366.2,926.8L367.1,926.8L367.6,925.8L368,925.8L370.3,922.8L371.6,919.9L372.1,919.8L375.7,910.1L378.4,897.7L380.6,881.6L383.8,844.6L389.6,741L391.4,723.7L392.3,719.7L393.7,718.6L395,720.2L395.9,723.4L397.7,734L405.4,803.1L410.3,840.5L413.9,859.9L418.4,877.2L422.5,888.7L427.4,897.8L427.9,897.9L428.3,899.4L430.1,901.2L431.5,903.6L431.9,903.1L432.8,905.2L435.1,906.9L435.5,908L438.2,910.6L439.1,910.6L439.6,911.4L440,911L440.5,912.3L441.4,912.3L443.6,913.9L444.5,913.8L445,914.6L449,916.2L449.5,916.9L450.8,916.9L453.1,917.8L454.4,918.8L454.9,918.4L458,919.5L458.5,919L460.3,919.5L461.2,920.1L461.6,919.6L462.1,920.2L463.9,920L464.8,920.6L465.7,920L466.1,920.5L467,919.9L467.5,920.3L469.3,919.8L470.2,920L471.5,919.2L472,919.7L473.8,918.7L474.2,919.1L474.7,918.7L475.6,918.9L476.5,918L476.9,918.5L477.4,917.7L477.8,918L478.7,917.5L479.6,916.1L481,916.1L481.4,914.9L483.2,913.6L485.5,910.4L487.3,906.8L491.3,895.1L494.9,874.4L497.6,850.3L503.9,781.4L505.7,771.9L507.1,769.7L508,769.7L508.4,770.4L508.9,769.8L509.8,770.6L512.9,780.3L525.5,849.6L530.9,871.3L535.9,885.3L536.3,885.1L536.8,887.4L540.8,895.8L541.3,895.5L542.2,898.2L543.5,900.1L544.4,900.6L546.7,904.6L547.1,903.9L549.8,907.8L553,910.4L553.4,910.1L554.8,912.2L555.7,912L558.8,915.1L559.3,914.9L562.4,916.8L562.9,916.4L563.8,917.8L564.7,917.9L565.6,918.7L566,918.5L566.5,919.1L566.9,918.6L567.8,919.9L568.7,919.4L569.2,920.1L571.4,921L573.2,921.1L574.6,922.2L575.5,921.9L576.4,922.7L577.7,922.4L578.6,923.5L580,923.3L583.6,924.6L584,924.2L584.5,924.8L585.4,924.4L586.3,924.9L586.7,925.9L587.6,924.9L588.1,925.7L589,925.2L590.3,926.5L591.2,925.8L592.6,926.8L593,926.1L593.5,926.9L594.4,926.2L594.8,926.9L595.7,926.4L597.1,927.2L597.5,926.8L598,927.5L598.9,927L599.8,927.8L600.2,927.4L601.6,928L603.4,927.3L603.8,928.1L604.3,927.8L604.7,928.3L605.2,927.9L605.6,928.4L606.5,928.4L607,927.8L607.9,928.1L608.3,928.9L609.7,927.7L610.6,928.9L611,928.4L611.5,928.7L611.9,928.1L612.8,929L613.7,928.4L614.6,929L615.5,928.4L616,928.9L618.2,928.6L619.1,929.4L623.2,928.9L623.6,929.9L624.5,928.9L625,929.6L626.8,929.8L627.2,929.1L628.6,929.8L629.9,929.5L631.7,930.2L633.1,929.3L636.7,930.2L637.6,929.7L638.9,929.9L639.4,929.2L640.3,930.2L641.6,929.6L642.1,930.3L642.5,929.5L644.8,930.4L645.2,929.4L645.7,929.9L646.1,929.4L650.2,930.3L652,929.7L652.9,930.4L653.8,929.4L654.7,929.9L655.6,929.5L656.5,929.8L656.9,929.3L657.8,929.9L658.3,929.4L659.2,930L660.5,929.2L663.7,929.8L664.6,929.1L665,929.6L666.8,929.2L667.3,929.9L667.7,928.6L668.2,929.4L671.3,928.8L671.8,929.4L674,928.3L674.5,928.8L675.8,928.3L677.6,928.9L678.1,928.5L680.3,928.4L681.2,927.4L681.7,928.7L682.1,928.2L683.9,928.2L684.4,927.6L685.3,928.2L686.6,927.3L687.1,928.2L688.4,927.1L689.8,926.8L691.1,927.9L691.6,926.8L692,927.5L694.3,926.9L694.7,927.2L695.6,926.5L696.5,927.2L697.4,926.3L698.3,927L699.2,926.2L700.1,926.3L700.6,925.7L701,926.3L702.8,926.4L703.7,926.2L704.6,925.2L705.1,925.5L706.4,925.1L707.3,925.5L709.1,924.1L709.6,924.6L710.9,924.2L711.4,924.7L712.3,924.7L712.7,923.2L713.6,924.1L716.3,923.3L716.8,924L717.2,923.1L717.7,923.3L719,922.8L719.9,922.9L721.7,921.9L722.6,922.5L723.1,921.3L724.4,921.8L724.9,921.1L726.2,921.4L726.7,920.7L727.1,921.2L727.6,920.5L728,920.9L728.5,920.4L729.4,920.5L731.2,919.8L732.1,920.2L733.4,919L733.9,919.7L734.3,918.9L735.2,919.1L735.7,917.8L736.1,918.4L736.6,917.9L737.5,918.1L737.9,917.5L738.8,918.4L739.3,917.4L740.2,917.8L741.1,916.6L741.5,917L742,916.5L742.4,917L742.9,916.2L743.3,916.7L743.8,915.8L744.2,915.9L744.7,915.2L745.1,916.5L746,915.3L747.4,915.1L747.8,915.5L748.7,914.4L750.1,914.2L751.4,913.1L751.9,913.6L752.3,913L752.8,913.4L753.7,912.3L754.1,913.1L754.6,911.8L755,913.1L757.7,910.9L758.2,911L758.6,910L759.1,910.7L760.9,909.3L761.3,909.6L763.6,909L764.9,907.3L767.2,906.9L768.5,905.7L769,906L770.3,905.1L770.8,905.6L771.2,904.4L772.1,904.5L773,903.6L773.5,904L774.8,902.5M774.8,934L774.4,933.7L773.9,934.7L773.5,934.2L772.6,934.6L771.7,934.2L771.2,934.7L770.8,933.7L770.3,934.6L769.4,934.2L768.5,934.6L768.1,934.1L766.3,934.5L765.4,934L764.5,934.8L763.1,934.8L762.7,934.3L760.9,934.5L760.4,934L760,935.1L758.6,933.8L758.2,934.4L757.3,934L755.5,934.7L755,933.9L754.6,934.3L754.1,933.9L752.8,935L752.3,934L751.9,934.4L749.2,934.1L747.8,934.8L746.9,933.8L745.6,935L745.1,934L744.7,934.6L743.8,934.2L743.3,934.7L742.9,934.2L742.4,935L741.1,934.3L740.2,934.7L739.7,934.2L737.9,934.5L737.5,933.9L736.1,934.7L735.7,934.1L733.4,934.9L732.1,934.1L731.2,934.6L730.3,934.1L729.8,934.6L728.9,934.2L728.5,934.5L727.6,934L726.7,934.6L725.8,934L724.9,934.8L722.6,934.1L719.9,934.9L719,934.1L717.2,934.9L716.8,934.1L715.9,934.7L714.5,934.3L714.1,934.9L712.3,934.1L711.4,934.8L710.9,934L709.6,935.2L708.2,934.5L706.4,934.8L705.5,934.2L705.1,934.7L704.2,934.2L701.9,935.1L701.5,934L700.6,935.1L700.1,934.5L698.8,934.8L697.9,934.2L697.4,935L696.5,934.8L696.1,934.2L695.6,934.9L695.2,934.5L694.7,934.9L694.3,934.4L693.8,935.1L692,934.2L691.1,935.1L690.2,934.6L689.8,935.1L688.9,934.4L687.5,935.1L687.1,934.1L686.6,935.1L685.3,934.4L684.8,934.3L684.4,935.1L683.9,934.7L683.5,935.1L683,934.5L682.1,935L681.7,934.4L680.8,935.4L680.3,934.6L679.9,935.2L678.1,934.5L677.6,935.4L677.2,934.4L675.8,935.2L675.4,934.5L672.2,935.1L671.3,934.4L670,935.7L669.1,935.1L668.6,934L667.7,935.1L666.8,934.7L665.9,935.3L664.6,934.4L663.7,935.2L662.3,934.2L661.4,935.1L661,934.7L657.4,935.2L656.5,934.6L655.6,935.3L652.4,935.2L651.5,934.5L651.1,935.2L649.7,935.2L649.3,934.6L647,935.5L646.1,934.9L644.8,935.2L643.9,934.6L643.4,935.6L642.5,934.9L642.1,935.3L641.6,934.4L640.7,935.5L639.4,935.1L638.5,935.8L638,935L637.1,935.4L636.7,934.9L636.2,935.6L635.8,934.6L635.3,935.1L634,934.8L633.1,935.3L632.6,935L632.2,935.5L631.7,934.6L630.8,935.7L630.4,935L628.6,935.5L628.1,934.9L627.7,935.4L627.2,934.9L626.3,935.5L625.4,935.3L625,936L624.5,935.3L622.3,935.2L620.9,935.7L620.5,935.4L619.6,935.9L619.1,934.9L617.3,935.8L616.9,935.3L616,935.9L615.5,934.8L613.7,935.6L613.3,935.1L612.4,935.9L611.9,935.2L611,935.1L610.6,935.6L610.1,935.3L609.2,935.8L607.9,934.7L607.4,935.6L606.1,935.2L605.6,935.8L605.2,935.5L603.4,935.7L602.9,935.1L602.5,935.6L600.7,935.3L599.3,935.6L598.9,935L597.5,936L596.6,935.5L596.2,936.3L595.7,935.4L595.3,936.1L593,935.8L592.1,936.6L591.7,936L590.8,936.5L590.3,935.7L588.5,935.9L588.1,936.4L585.8,935.9L585.4,936.4L584,936L583.6,936.4L582.2,936.3L581.8,935.6L581.3,936.7L580.9,936.2L580.4,936.7L579.5,935.8L577.7,936.9L576.8,936.3L575.5,936.8L574.1,936.3L573.7,937L573.2,936.4L571.9,936.9L571.4,936.3L570.5,937.1L567.8,937L567.4,937.7L566.5,936.6L566,937.3L564.7,937.1L563.8,937.8L562.9,936.6L562,937.4L561.5,936.7L561.1,937.9L559.7,937.1L559.3,937.8L557.5,937.3L555.2,938L552.5,937.4L552.1,938.1L551.2,938.2L550.7,937.6L550.3,938L549.8,937.7L548.9,938.7L548,938.7L547.6,937.9L546.2,938.6L544.4,938.5L544,939L543.5,938.6L542.6,939L542.2,938.6L541.3,939.6L540.8,939.1L538.1,939.7L537.7,939.2L536.8,939.8L536.3,939.4L535,940.1L534.5,939.7L533.6,940.4L533.2,940.1L532.3,940.6L531.8,940.3L530.9,941.1L530.5,940.4L529.6,941.4L529.1,940.7L528.2,941.5L526.9,941.5L524.2,943L522.4,943.3L521,944.8L520.1,944.6L519.7,945.4L518.8,945.6L517.9,947L517.4,946.8L516.1,949.4L514.7,950.4L513.8,952.1L512.9,952.8L510.2,959.1L508,966.3L504.8,981.8L501.2,1013.1L494.5,1114.4L492.7,1128.6L491.3,1133.1L490.4,1133.3L489.5,1132.7L488.6,1130.3L487.3,1122.9L479.6,1044.9L476.5,1021L472.4,1000.1L470.6,993.9L467,984.7L463,978.7L462.5,978.7L462.1,977L461.2,976.7L460.7,977.1L459.4,975.5L458.5,975.3L458,974.1L455.3,973.6L454.9,972.6L454,973.1L453.5,972.5L453.1,972.8L452.2,972L451.7,972.7L451.3,971.7L450.8,972.1L449,971.3L448.6,971.9L448.1,971.5L447.7,972.3L446.8,971.3L445.4,972.2L445,971.7L443.2,972.4L442.3,972L440.5,972.1L439.6,972.6L438.7,972L438.2,972.4L435.1,972.4L433.7,971.5L433.3,972.2L431.5,971.6L431,972.7L430.6,971.7L429.2,972.8L428.8,972.4L427.9,972.9L427.4,972.6L427,973.7L426.5,973.1L424.7,973.1L422,973.9L421.6,974.7L420.7,974.1L417.5,976.3L417.1,975.8L414.8,977.8L413.9,977.8L412.6,979.5L412.1,978.9L411.2,980.3L409,981.8L406.3,984.8L405.8,986.6L405.4,986.3L403.1,989.8L397.7,1002.6L395.5,1010.8L391.4,1031.1L387.8,1057.1L380.2,1132.9L378.4,1144.3L377.5,1147.1L376.1,1148.3L374.3,1146.6L373.9,1145.3L372.1,1133.6L370.7,1119.6L364.4,1030.9L360.4,995.9L356.3,976.7L351.4,964.2L348.7,960L345.1,955.9L343.3,954.7L341,951.7L339.7,951.8L338.8,950.5L336.5,948.9L333.8,947.9L332.9,946.4L332.5,947L332,946.2L330.7,945.3L330.2,945.5L329.3,944.6L325.7,943.4L325.3,942.4L324.4,943.3L323.9,942.2L323,942.9L319.9,942.6L319.4,942.2L317.6,942.5L316.3,941.8L315.8,942.3L314.9,941.7L313.6,942.1L311.8,941.5L311.3,942.1L310.4,941.3L310,941.9L307.7,941.6L307.3,941L306.8,941.6L306.4,941.1L305.9,942L305,941.2L302.8,940.9L302.3,941.7L300.5,941L300.1,942.1L299.6,940.8L299.2,941.6L298.7,940.7L297.4,941.5L296.9,940.9L296.5,941.2L296,940.3L294.2,941.3L292.4,940.7L292,941.4L291.1,940.5L290.6,941.1L289.3,940.8L288.8,941.2L288.4,940.5L287.5,940.8L287,940.5L285.7,941.4L284.8,940.5L283,941.6L282.5,940.8L281.6,941.5L281.2,940.8L279.4,941.1L277.6,940.8L276.2,941.4L275.8,940.8L274,940.5L273.1,941.6L272.6,940.9L270.4,941.1L269.5,940.7L268.6,941.5L268.1,940.8L266.3,941.5L265.4,940.8L265,941.8L263.6,940.8L262.7,941.4L261.8,940.7L261.4,941.8L260.5,940.8L257.3,941.3L256.4,940.9L256,941.3L255.1,940.7L254.6,941.2L252.8,940.7L251,941.3L249.2,940.8L248.3,941.4L247.4,940.6L247,941.2L244.7,941.6L243.4,940.8L242.9,941.6L241.6,941.1L240.7,941.6L239.8,941.1L239.3,941.5L238.4,940.8L238,941.5L237.5,940.9L236.6,941.7L235.3,941L233.5,941.3L233,940.6L232.6,941.4L232.1,940.8L231.2,941.4L229.9,941L229.4,941.7L229,940.7L228.5,941.2L225.8,941L224,941.5L223.6,941.1L223.1,941.5L222.2,941.2L221.8,941.8L220.9,941L220,941.5" fill="none" stroke="#3333dd" stroke-width="1.2" stroke-linejoin="round"/>
<path d="M220,942.3L220.4,941.7L221.8,942L222.2,941.4L223.1,941.3L224,941.8L224.5,941.4L224.9,942.2L225.8,941.4L227.2,941.6L227.6,941L228.5,941.9L229,941L230.3,941.4L232.1,941.1L233,941.5L233.5,940.9L233.9,941.5L234.4,941L235.3,941L237.5,942L238,941.1L238.9,941.3L239.3,940.7L239.8,941.6L240.2,941.2L241.6,941.3L242,940.7L242.5,941.7L243.4,941L243.8,941.7L245.2,941.2L245.6,941.8L246.5,940.9L250.1,941.5L251,940.8L251.9,941L252.4,941.9L253.7,940.8L254.6,941.6L255.5,940.8L256,941.3L256.4,940.8L257.8,940.8L258.2,941.5L258.7,940.4L259.1,941.2L260.5,940.9L260.9,941.4L261.8,939.8L262.3,941L263.6,941L264.1,940.6L266.3,941.1L267.7,940.5L268.6,941L269,940.5L271.7,940.8L273.5,940L274.9,940.9L275.3,940.4L275.8,940.9L276.2,940.3L276.7,940.7L278,940.3L278.9,940.8L280.3,940.1L282.1,940.2L282.5,940.7L283.9,940.1L284.8,940.9L285.7,939.5L286.1,940.1L287,939.9L287.9,940.7L289.3,939.7L290.6,940L291.1,940.5L292.9,939.6L293.3,940.2L293.8,939.3L294.2,940.1L294.7,939.5L295.1,940.3L296.9,939.4L299.6,939.8L301.9,939.2L302.3,939.8L302.8,939.1L303.2,939.6L305,939.4L305.5,939.9L306.4,939.1L306.8,939.6L307.7,939.3L308.6,939.6L309.1,938.6L309.5,939.4L312.7,938.6L313.1,939L314.5,938.9L314.9,939.3L315.4,938.6L315.8,939.2L317.2,939.1L317.6,938.3L318.1,939.2L318.5,938.4L319.4,939.1L319.9,938.5L320.3,938.9L322.1,938.7L323,938L323.5,938.9L323.9,938.1L324.8,938.5L326.2,938.3L326.6,938.8L327.5,938.3L328,938.9L330.2,937.7L331.6,938.5L332.5,937.2L335.2,938L336.1,937.2L337.4,937.7L338.3,937.1L338.8,937.9L339.2,937.2L340.1,937L340.6,937.8L341.5,936.9L344.2,937.3L344.6,936.4L345.1,936.7L345.5,936.3L346,936.7L346.4,936.2L346.9,937L347.8,935.7L348.2,936.3L348.7,935.7L349.1,936.2L350,935.6L351.4,936.1L351.8,935.5L352.3,936.1L353.2,935.4L355.4,935.7L356.3,934.8L358.1,934.9L359.9,933.8L360.8,934.6L361.3,934L361.7,934.6L362.6,933.8L365.8,933.6L366.2,933L368,933.2L368.5,932.3L370.7,932.4L371.2,931.6L371.6,931.8L373.4,930.5L375.2,930.2L375.7,929.5L376.1,929.7L378.4,928.2L379.3,927.1L379.7,927.3L380.6,925.7L381.5,925.3L382.4,923.8L383.8,922.9L387.8,914.3L389.6,908.7L392.8,893L394.6,879.6L396.8,855.1L403.1,762L404.5,752.1L405.4,748.8L406.3,747.1L407.2,746.8L408.1,748L410.3,755.3L412.1,765.7L421.6,834.6L427,862.8L430.6,876.3L431,876.5L434.6,887.4L436.4,890.3L437.8,894.1L440,897.8L440.9,898.2L443.2,903.2L443.6,902.5L445,905.3L445.4,904.7L445.9,906.2L446.3,905.7L447.2,907.5L447.7,907.1L449,908.9L449.5,908.7L449.9,909.6L450.8,909.7L451.7,911.4L453.1,911.5L454,912.6L454.4,912.4L454.9,913.4L455.3,913.2L456.7,914.4L458,914.5L458.9,915.7L459.4,915.2L460.3,915.3L460.7,916.2L461.6,916L462.1,916.8L463.4,916.8L463.9,917.3L464.3,916.9L465.2,917.9L466.1,917.7L469.3,918.8L469.7,918.3L471.1,918.8L471.5,918.6L472.9,920.1L473.3,918.9L475.1,919.8L476,919.1L476.9,920.3L477.4,919.7L477.8,920.2L478.3,919.7L479.2,920.2L479.6,919.2L480.1,920.1L481,919.4L481.4,919.8L483.2,918.9L483.7,919.7L485.9,918.4L486.4,918.9L487.7,917L488.6,917.4L490,916.2L490.9,916.2L494,912.8L497.6,906.7L501.7,894.2L504.8,876.6L507.5,853.5L513.4,789.2L515.6,775.8L517,773.4L518.3,772.5L520.1,774.3L521.5,777.4L522.8,782.6L525.5,795.4L534.5,846.4L538.6,863.7L543.5,879.8L548.9,892.8L555.7,903.7L557,904.6L558.8,907L559.7,907.3L560.6,909.1L561.5,909.1L562.4,910.5L563.3,910.7L563.8,911.7L564.2,911.6L564.7,912.7L565.1,912L568.3,914.9L568.7,914.5L569.2,915.5L570.1,915.3L570.5,916.3L571,916.8L571.4,916.5L571.9,917.4L573.2,917.9L573.7,917.5L574.1,918.2L575.9,918.5L577.7,919.7L578.2,919.5L579.5,920.9L580,920.6L580.9,921.1L581.3,920.8L581.8,921.6L582.7,921.5L583.1,922.1L584,921.6L586.7,922.7L587.2,923.5L587.6,923.2L589,924L590.8,923.6L591.7,924.6L593,924.4L593.5,924.8L593.9,924.2L594.8,925.5L597.1,925.2L598.9,926.3L599.8,925.5L600.7,926.7L601.1,926.2L601.6,926.6L603.8,926.2L604.7,926.5L605.2,927.3L606.5,926.5L607,927.4L607.9,926.7L609.7,927.9L611,926.9L611.5,927.7L613.7,927.8L614.2,928.4L614.6,927.5L615.1,928.1L616,927.8L616.4,928.8L616.9,927.5L617.3,928.2L617.8,927.8L619.6,928.4L621.4,928.1L622.3,928.8L624.5,928L625.9,929.1L627.2,928.6L629,929L629.9,928.4L630.8,929.6L631.3,928.7L632.2,929.3L632.6,928.6L634,929.8L634.9,928.7L635.3,929.8L635.8,928.9L636.2,929.3L636.7,928.7L637.1,929.4L638.5,928.8L638.9,929.5L639.8,929L640.7,929.4L641.6,928.8L643,929.5L644.3,929.2L645.2,929.8L646.1,929.2L646.6,929.8L647,929.4L648.4,930L649.3,929.2L650.6,929.8L651.1,929.1L652.4,929.2L653.3,929.9L653.8,929.2L655.6,929.5L656,929.1L656.5,929.6L657.4,928.8L658.3,929.3L659.2,928.8L659.6,929.2L660.1,928.8L661,929.2L662.3,928.7L662.8,929.4L663.2,928.8L663.7,929.7L664.1,928.6L665.5,929L665.9,928.4L667.7,928.9L668.6,928.3L671.8,928.4L672.2,929.2L672.7,928.1L673.6,928.6L674.5,927.5L675.4,928.4L676.3,927.8L677.2,928.4L679,927.4L679.9,928.1L680.8,928.1L681.2,927.5L681.7,928.1L682.1,927.1L682.6,927.8L683.9,927.1L684.8,927.5L685.3,927L685.7,927.3L686.6,926.6L687.1,927.3L687.5,926.8L688.9,927.3L689.3,926.6L690.2,927L691.1,926.2L692,927.2L693.4,926.1L698.3,926.1L699.2,925.2L699.7,926L701.9,925.1L702.4,925.8L702.8,925.6L703.3,924.1L703.7,925.3L704.2,924.8L704.6,925.3L705.1,924.3L705.5,924.7L706,924.3L707.3,924.4L707.8,923.8L708.7,924L710,923.3L710.5,923.6L711.4,922.9L712.3,923.7L714.5,922.9L715,922.3L715.9,922.2L716.3,922.7L717.2,922L718.1,922.2L719.9,921.5L720.4,922.1L721.3,921L721.7,920.9L722.2,921.7L723.5,920.1L724.4,921.2L725.3,920.1L725.8,920.5L728,919.1L728.9,919.9L729.4,918.7L730.3,919L733.4,918.2L733.9,917.6L734.3,917.9L735.2,917.1L735.7,917.7L736.1,916.9L736.6,917.2L737,916.6L737.5,917L737.9,916.1L739.3,915.9L739.7,916.6L740.2,915.3L741.5,915.7L742.4,914.8L743.3,914.5L743.8,914.4L744.2,915L744.7,914L745.6,914L746,913.2L746.5,913.6L747.4,912.6L747.8,913.2L748.7,912.9L749.2,912L749.6,912.9L750.5,911.8L751.9,911.7L754.1,910.3L755,910.4L756.4,909.3L757.3,909.4L758.2,908.5L758.6,909.1L759.5,907.9L760,908.2L761.8,906.6L762.7,907.3L764.5,905.4L766.3,905.3L766.7,904.1L768.5,903.7L769.9,902.5L770.3,902.9L772.1,901.2L772.6,902.1L773.9,899.7L774.4,900.2L774.8,900M774.8,933.9L773.5,934.7L773,933.8L771.7,934.7L771.2,933.8L770.3,934.8L769.9,934.2L769,934.5L768.1,933.9L766.7,934.6L766.3,933.9L765.4,935L764.5,933.8L764,934.4L763.6,933.8L761.8,934.7L761.3,934.2L756.4,934.5L755.9,933.8L754.6,934.7L753.7,934.1L752.3,934.4L751.4,934L750.1,934.7L748.7,933.9L748.3,934.8L747.8,933.9L746.5,934.6L744.7,934.1L743.3,934.8L742.4,934.2L742,935.4L741.5,934.4L741.1,934.7L739.3,934L735.7,934.6L733.9,934L733.4,934.4L733,934L732.5,935.1L732.1,934.3L731.2,934L730.3,934.8L729.4,934.4L728,934.8L727.6,934.2L727.1,934.9L725.3,934.5L724.9,934.9L724.4,934.3L723.5,934.2L722.2,935.1L721.7,934.2L720.4,934.8L719.5,934.1L719,935.2L715.4,934.6L715,934L714.5,934.8L712.3,934.3L711.8,934.9L711.4,934.4L710.9,935L709.6,934.4L708.7,934.8L706.9,934.4L706.4,935.1L705.1,934.4L704.6,935.1L704.2,934.3L703.7,935.2L702.8,934.1L701.9,935.2L701,934.5L700.6,934.9L699.2,934.5L698.3,935L697.4,934.4L696.5,934.5L696.1,935.5L695.6,934.4L695.2,934.7L694.7,934.3L694.3,935.1L693.8,934.3L692.9,934.8L692.5,934.6L692,935.3L691.6,934.8L689.8,935.1L688.4,934.5L688,935.3L687.5,934.9L686.2,935.2L685.3,934.5L684.4,934.8L683.9,934.3L683,935.2L682.6,934.2L681.7,934.5L681.2,935.6L680.8,934.6L679.9,935.4L679.4,934.8L678.5,935.2L678.1,934.1L677.6,934.7L676.7,934.3L675.8,934.9L674.9,934.1L674,935.1L672.7,934.4L671.8,934.8L669.5,934.5L669.1,935.2L668.2,934.5L667.7,935.1L666.8,934.7L665.9,935.2L665.5,934.6L664.6,935.3L663.7,935.3L663.2,934.5L662.3,935.6L661,934.9L658.7,935.3L657.8,934.6L656.9,935L656,934.7L654.7,935.3L653.8,934.6L652.4,935.4L652,934.8L649.7,935.1L648.4,934.7L647.5,935.8L647,935.2L646.6,935.7L644.8,934.7L643.9,935.7L643.4,934.7L642.5,935.5L642.1,935.1L638.9,935.3L638,934.5L637.1,935.6L636.2,934.8L635.8,935.1L635.3,934.7L634.9,935.5L633.5,935.1L632.2,935.6L631.3,934.8L629.9,935.4L628.6,935L627.7,935.7L627.2,935L624.1,935.6L623.6,935.2L623.2,935.7L622.3,935.2L620.9,935.7L620.5,935.1L620,935.6L619.1,935.1L617.8,935.9L616,935.2L615.5,935.7L615.1,935.2L614.2,935.2L612.4,935.9L611.5,935.2L611,935.7L608.8,935.2L605.2,935.8L604.3,935.3L603.4,936.2L602.9,935.1L602.5,935.7L601.6,935.1L600.7,935.9L600.2,935.2L599.3,935.9L597.5,935.2L597.1,935.9L596.6,935.6L596.2,936L595.3,935.3L594.4,936.3L592.1,935.3L590.8,936.5L589.9,935.3L589,936.3L588.1,935.7L587.6,936.4L587.2,935.8L586.7,936.8L585.8,935.9L585.4,935.9L584.9,936.9L583.6,935.9L582.2,936.7L581.8,936.1L581.3,936.8L580.9,936L579.5,936.4L579.1,935.9L577.3,936.8L574.1,936.5L573.7,937.2L573.2,936.7L572.8,937L572.3,936.4L570.1,936.9L569.2,936.7L568.7,937.4L568.3,936.7L567.8,937.3L566.9,936.7L566.5,937.4L566,936.6L565.1,937.3L564.2,936.8L563.3,937.6L561.5,937.1L561.1,937.6L560.2,936.9L557.5,937.6L556.6,937.1L555.7,938.1L553.4,937.6L553,938.1L551.6,938.2L551.2,937.8L550.3,938.5L549.4,938.2L548.9,938.5L548.5,937.8L547.1,938.7L545.8,938.6L544.9,937.7L543.5,939.2L543.1,938.8L540.8,939L539.9,939.8L539,939.1L538.6,939.7L537.2,939.6L536.8,940.1L535.9,939.7L535.4,940.2L534.5,939.7L534.1,940.2L533.6,939.9L532.7,940.5L532.3,939.9L531.4,940.7L530,940.7L527.8,942.2L526,942.4L525.5,943.3L523.3,943.6L522.8,944.5L522.4,944.2L520.1,946.3L519.2,946.5L516.5,951.3L516.1,951.3L515.2,954L514.7,953.7L510.7,965.5L508.9,973.9L505.7,995.9L499,1075.6L496.7,1089.7L495.4,1091.2L494.9,1090.8L494,1091.3L493.1,1089.8L490.9,1079.1L485.5,1033.7L481,1004.5L476.9,988.9L474.7,983.1L472.4,978.7L470.6,976.9L468.4,973.4L467.9,973.1L467.5,973.7L466.6,972L466.1,972.3L464.8,971.3L464.3,970.3L462.1,970.1L461.6,969.3L461.2,969.8L460.7,968.7L459.8,969.3L457.6,968.3L456.2,968.7L455.3,968.1L454.9,969L454.4,968L453.5,969L453.1,969L452.6,968.1L452.2,968.9L451.7,968.5L450.4,969.1L449.9,968.3L448.1,969.7L446.3,969.7L445.9,969.2L445.4,970.3L444.5,969.8L443.2,970.3L442.7,969.9L442.3,970.8L441.8,970.4L441.4,971.1L440.9,970.8L440,971.7L437.8,971.4L437.3,972.1L436.9,971.2L434.2,972.2L433.7,971.7L433.3,972.2L432.4,972L430.6,972.4L430.1,973.1L429.7,972.7L428.8,973.5L427.9,973.7L427.4,973.2L425.6,974.8L423.8,975L422.5,976.3L421.6,976.1L420.7,977.7L419.8,977.2L419.3,978.4L418.9,978.2L417.1,980L415.7,980.6L415.3,981.9L414.8,981.7L413.5,983.2L409.4,989.4L405.8,997L401.3,1012.8L399.5,1020.9L395.9,1043.6L386.5,1129.3L384.2,1138.8L383.8,1140L382.9,1139.9L382.4,1140.4L380.6,1137.2L378.4,1121.4L371.2,1026.9L367.6,998L364.4,981.8L359,967.4L356.3,963.8L355,960.9L354.5,961.5L353.2,959.2L348.2,954.2L346.9,954.2L346,952.8L341.9,950.7L341.5,949.7L340.1,949.8L339.7,948.7L339.2,949.3L337.4,947.3L336.5,947.5L333.8,946.3L332.9,945.3L332,945.4L331.6,944.7L330.7,944.8L329.3,943.7L328.9,944.1L326.2,942.3L325.7,942.7L325.3,942.1L323.9,942.5L322.6,941.6L320.8,942.3L319.9,941.7L317.6,941.8L317.2,941.3L315.8,941.8L315.4,941.2L314.9,942L313.1,941.2L310.4,941.8L309.5,940.6L309.1,941.3L307.3,941.7L304.6,940.6L304.1,941.5L303.2,940.7L301.9,940.8L301.4,941.3L299.6,940.5L298.3,941.1L297.8,940.3L297.4,941.1L296,941.1L295.6,940.6L294.7,941L293.8,940.5L293.3,941L291.5,940.6L291.1,941.2L290.2,941.3L289.7,940.6L287,940.8L286.1,940.1L285.2,941.3L284.8,940.7L284.3,941.1L283.4,940.3L283,940.9L280.7,941.1L280.3,940.7L279.4,941.4L278.9,940.3L278,941.5L277.6,940.3L277.1,940.3L275.8,941.3L274.9,940.3L274.4,941.3L272.6,940.5L271.3,941.1L270.8,940.4L270.4,940.9L269.9,940.6L269.5,941.1L268.6,940.8L267.7,941.4L267.2,941L266.8,941.6L266.3,941.1L264.5,941L264.1,941.7L263.6,940.6L261.4,941.2L260.9,940.6L260,941.4L258.7,940.5L258.2,941.3L257.3,941.5L256.9,941L256.4,941.7L254.2,940.8L252.8,941.4L251.9,940.7L251.5,941.2L251,940.8L249.7,941.3L247,941L246.1,941.6L245.6,940.9L245.2,941.3L244.7,940.7L243.8,941.5L243.4,940.7L242.5,941L242,940.6L240.2,941.4L239.3,940.4L238.9,941.1L238.4,940.7L238,941.3L237.5,940.8L237.1,941.7L236.6,940.6L235.7,941.8L234.8,941.2L233.9,941.6L233.5,940.9L232.6,941.6L231.7,941L230.8,941.4L230.3,940.8L229.4,941.6L229,940.8L228.5,941.1L226.7,940.7L226.3,941.5L224.9,940.8L224.5,941.5L224,941.1L223.6,941.7L223.1,941.1L221.8,941L220.4,942.1L220,941.2" fill="none" stroke="#3333dd" stroke-width="1.2" stroke-linejoin="round"/>
<path d="M220,942.2L220.4,940.9L220.9,941.7L222.2,941.5L222.7,941L223.1,941.5L223.6,941.3L224,942.5L224.5,941.6L226.3,941.2L228.1,941.7L229,941.4L229.4,941.9L230.3,941.2L231.7,941.9L232.1,941.3L233,941.6L233.5,941.1L234.4,941.6L235.7,941.5L236.2,940.4L236.6,941.6L237.5,940.7L238,941.3L239.3,940.9L240.7,941.6L241.6,941.2L242,941.4L242.9,940.8L243.4,941.3L244.7,940.8L245.2,941.1L245.6,940.3L246.1,941.2L247,940.5L248.3,941.2L248.8,940.3L250.1,941.3L250.6,940.3L251.5,941L251.9,940.7L252.4,941.3L252.8,940.5L253.3,940.9L253.7,940.5L254.2,941.2L255.5,940.3L256,941.3L258.7,940.4L259.6,941.1L260,940.2L261.8,940.8L262.7,940L263.6,940.9L265,940.4L266.3,940.7L266.8,940.2L268.6,940.5L269,941.1L269.9,940.8L270.4,939.7L271.7,940.5L272.2,939.6L272.6,940.6L273.5,939.8L275.8,940.8L276.2,940.1L277.6,940.6L278.5,940.5L278.9,939.7L279.8,939.8L280.3,940.4L283,939.6L283.9,940.5L284.3,939.7L285.7,939.3L286.6,939.9L288.4,939.6L288.8,939L289.7,939.5L291.1,939.1L292,939.5L292.4,939.1L294.2,939.6L294.7,938.5L295.1,939.3L295.6,938.9L296.9,939.3L297.8,938.9L298.3,939.3L298.7,938.7L299.6,939L300.1,938.5L300.5,939.3L301,938.9L301.4,939.3L302.3,938.4L304.6,938.3L305,938.8L305.5,938.1L305.9,938.5L306.4,938L307.7,937.7L308.6,938.3L309.1,938L310,938.3L311.8,937.1L312.2,937.8L312.7,937L313.1,937.7L314,937.7L314.9,937L315.4,937.3L318.5,936.7L319,936.1L319.4,936.6L319.9,936.2L320.8,936.8L321.2,935.8L321.7,936.3L322.6,935.8L323,936.2L323.9,935.3L325.3,935.6L325.7,935.1L326.2,935.6L327.1,934.9L328.4,934.7L328.9,935.3L329.8,934.2L330.7,934.3L331.1,934.8L331.6,933.9L332.9,933.5L333.4,934L333.8,933L335.2,932.8L335.6,932.1L336.1,932.7L337.4,931.3L339.7,930.7L342.8,928.5L343.7,927.2L344.6,927.1L345.1,926L346.4,925L346.9,923.5L347.8,923.3L348.2,922.1L348.7,922.1L350.5,918.3L351.4,917.6L351.8,915.8L352.3,915.6L356.8,901.1M357.2,898.9L358.1,895.5M358.6,892.8L359,890.8M373.9,726.5L374.3,724.9M374.8,722.3L376.1,719.7L377.9,719.1L379.7,724.7M394.6,847.6L395,849.7M395.9,855.5L396.4,857.6M396.8,860L398.2,865.8M398.6,868.4L400.9,877.1L404,886.6L406.7,893.3L407.2,893L408.1,895.7L411.7,901.8L416.6,907.6L417.1,907.6L417.5,908.6L418,908.2L418.4,909.3L418.9,909.1L419.8,910.5L425.6,914.5L426.1,914.3L429.7,915.9L430.6,917.1L431.9,916.2L432.4,917.2L433.3,917.1L433.7,917.8L434.2,917.3L435.1,918.1L435.5,917.8L436.4,918.8L436.9,918.2L437.3,918.3L437.8,919L438.7,918.7L441.4,920.1L443.2,920.3L444.1,919.6L445.4,920.6L445.9,920.2L447.2,920.8L449,920.2L450.8,920.9L451.3,920.2L452.6,920.4L453.1,919.8L454.4,920.1L455.8,919.4L456.7,919.9L458.5,918.7L459.8,918.5L460.7,917.6L461.6,918L462.1,917.2L463.4,916.6L463.9,915.6L464.3,916.1L464.8,915.1L465.2,915.2L467,913.2L468.8,909.8L469.3,910L472.4,903M472.9,900.7L474.2,897.3M474.7,895.1L475.6,891.6M476,889.1L476.5,887.1M490.4,744.6L492.2,740.6L492.7,741L494,741.1L495.4,745.2M510.7,859.8L511.1,861.9M511.6,864.4L512.5,868M512.9,870.2L515.6,880.8L520.1,893.3L524.6,902.2L525.5,902.8L526.4,904.8L527.8,905.6L528.7,907.5L530,908.4L530.9,910L532.3,910.7L532.7,912.1L533.2,911.9L534.1,913L534.5,912.5L536.3,915L537.2,914.7L538.1,915.9L539.5,916.2L539.9,917.2L541.3,917.3L541.7,918.6L542.2,917.4L543.1,919.4L543.5,919L544.4,919.1L544.9,920.1L545.3,919.5L545.8,920.2L546.7,920.2L547.1,921L547.6,920.5L549.8,922.1L553.9,922.9L554.3,923.6L554.8,923.2L555.7,924.2L556.1,923.6L556.6,924L557,923.7L557.9,923.9L559.7,925.3L562.4,925L563.3,926.2L564.2,925.7L564.7,926.5L565.1,926L566,925.9L567.4,927.2L568.3,926.4L569.2,926.8L569.6,926.5L570.5,927.3L571.4,927.5L572.3,926.9L572.8,927.9L573.7,927.2L574.1,927.8L576.8,928.2L578.2,927.4L579.5,928.6L580.9,928.6L581.8,929.2L582.2,928.7L584,929.5L584.5,928.9L584.9,929.5L585.4,929L586.7,929.5L588.1,929.2L589,930.2L589.4,929.8L590.8,930.5L591.7,929.5L592.1,930.4L593.9,929.7L594.4,930.2L594.8,929.9L595.3,930.7L596.2,929.9L597.1,930.3L597.5,929.9L598,930.5L599.3,930.5L600.7,931.2L602,930.6L602.5,931L602.9,930.6L603.4,931.1L603.8,930.6L605.2,931.2L605.6,930.6L606.5,931.1L608.3,931.1L608.8,931.6L610.1,930.6L611,931.6L612.8,931L613.3,931.6L614.2,931.6L614.6,931L616,931.7L617.3,931.4L617.8,931.9L619.6,931.3L620,932.1L620.5,931.1L621.8,932.1L622.3,931.7L624.1,931.8L624.5,932.3L625,931.9L625.4,932.3L625.9,931.5L626.3,932.1L627.2,931.4L627.7,932.1L629,931.6L629.5,932.4L630.4,931.6L631.3,932.3L631.7,931.8L632.6,932.7L634,931.9L634.4,932.3L635.3,931.2L636.7,932.7L638,931.8L638.5,932.3L638.9,932L642.1,932.8L642.5,931.8L643,933.1L643.4,932.3L643.9,932.7L644.3,932.1L646.1,932.6L647,932.1L648.4,932.6L650.6,932L651.1,932.9L651.5,932.3L652.4,932.1L653.3,932.9L654.7,932.1L655.1,932.8L656,932L656.5,932.6L658.3,932L659.2,932.4L660.1,931.9L660.5,932.8L661.4,931.9L663.7,932.3L664.1,931.6L665.9,932.1L666.4,931.4L666.8,932.9L667.3,931.7L668.6,932.1L669.5,931L670.4,932.1L671.8,931.1L672.2,932.1L673.1,931.5L674.5,931.4L676.3,932L678.5,931.2L679,931.9L679.4,931.4L680.3,931.7L680.8,931.1L681.2,931.6L682.6,931.5L683.5,930.7L684.8,931.6L685.7,931.1L686.6,931.6L688.4,931.1L690.2,931.2L691.6,930.5L692.5,931.4L693.8,930.5L694.3,931.1L695.2,930.5L695.6,931.2L696.1,930.9L696.5,931.2L698.3,930.4L699.7,930.9L700.6,930.1L701,930.8L701.9,930.9L702.8,930L704.2,930.3L704.6,929.6L705.1,930.2L706,929.9L706.9,930.4L709.6,929.7L710,930.2L710.9,929.5L711.4,929.9L711.8,929.4L712.7,929.9L714.1,929.7L715,928.9L715.9,929.7L716.8,928.6L718.6,929.2L719.5,929.1L719.9,928.6L720.8,929.4L721.3,928.5L721.7,929.1L723.5,928.2L725.3,928.8L727.1,927.9L728,928.3L728.9,927.6L732.5,928.1L733.4,926.9L734.3,927.9L736.6,926.9L737.5,927.3L737.9,926.9L738.4,927.6L738.8,926.6L739.7,927.2L741.1,926.4L742,927.2L744.7,926.2L746,926.7L746.5,926.3L747.4,926.8L748.3,925.7L748.7,926.3L750.5,925.8L751.9,926L752.3,925.3L754.1,925.7L756.4,924.8L759.5,925.4L760.4,924.7L760.9,925.2L761.8,924.5L762.7,924.8L764.9,924.1L766.3,924.3L766.7,923.5L767.6,924.3L769.4,923.4L771.2,923.7L771.7,923.1L772.1,923.6L772.6,922.8L773.9,923.4L774.8,922.3M774.8,934.3L773.5,933.9L772.1,934.4L771.7,933.8L771.2,934.9L770.3,934.1L769.4,934.3L769,934.9L768.1,934.1L766.3,934.5L765.8,934.1L765.4,934.7L764.9,934.2L764,934.6L763.6,933.7L762.7,934.5L759.5,933.7L759.1,934.7L758.6,934L757.7,934.7L755.5,934L752.8,934.9L751.9,933.8L751.4,934.6L750.5,933.9L750.1,934.6L749.6,934.1L748.7,934.7L747.8,934.1L746.9,934.7L746,933.9L744.7,935L742.9,934.3L742,934.6L741.5,934.1L740.6,934.6L740.2,934.1L739.7,934.7L738.8,934.7L738.4,934.2L737.5,934.9L736.6,934.2L735.7,934.9L735.2,934.4L734.3,935.2L733.9,934.4L733,934.2L732.1,934.9L731.2,934.1L729.8,934.7L729.4,934.3L728.9,934.7L728.5,934.3L725.8,934.7L725.3,934.1L724,934.8L722.2,934.3L719.9,934.4L719.5,933.9L719,934.8L717.7,934.2L716.3,934.9L715.9,934.2L715.4,934.8L714.5,934.3L714.1,934.7L710.9,934.3L708.7,935L707.8,934.3L707.3,934.8L706.9,934.3L706,934.9L705.1,934.6L704.6,935.4L704.2,934.7L701.9,934.8L701.5,933.9L701,935.1L700.6,934.3L699.7,934.8L698.8,934.3L698.3,934.7L697,934.2L694.7,935L693.8,934.5L692.9,935.2L692.5,934.7L689.3,934.5L687.5,935L686.6,934.5L685.7,935L685.3,934.3L684.8,935L683.9,935.3L683.5,934.4L682.6,935L682.1,934.3L681.7,934.6L680.3,934.2L679.4,935.1L678.1,934.7L677.6,935.3L676.7,935.1L676.3,934.4L675.8,934.9L675.4,934.5L674.9,934.9L674,934.5L673.1,935.2L670.9,934.5L670,935.2L668.6,934.6L668.2,935L667.3,934.3L665.9,934.6L665.5,935.4L664.6,934.6L663.7,935.4L663.2,934.7L661.9,935.4L661,934.8L659.6,935.3L659.2,934.9L658.7,935.6L658.3,934.9L657.4,934.8L655.6,935.3L654.7,934.7L654.2,935.3L653.3,934.8L652.9,935.4L652,934.2L651.1,935.3L650.2,934.9L649.7,935.5L649.3,934.8L647,935.4L646.6,935.1L646.1,935.5L645.7,934.9L644.8,935.6L643.4,935L638.9,935.4L638,934.7L637.6,935.6L635.3,934.7L634.9,935.3L634.4,934.7L634,935.4L633.5,935L632.6,935.8L631.7,935.1L631.3,935.5L630.8,934.9L629.5,935.6L629,935L628.6,935.4L627.7,934.8L626.8,935.7L625,935L624.5,935.6L623.6,935.7L622.7,935.1L621.4,935L620,935.7L619.6,935.1L619.1,935.5L618.7,934.9L618.2,935.2L617.3,934.8L616.9,935.3L615.1,935L613.7,935.4L613.3,935L611.9,935.7L610.1,934.8L608.8,935.9L608.3,934.6L606.5,935.5L605.2,935.4L604.7,935L603.4,935.7L602.9,935L602,935.7L600.7,935.3L599.3,936.2L598,935.6L594.8,936.4L594.4,935.4L593.9,936.3L593.5,935.9L592.1,936L591.7,935.5L589.9,936.1L588.1,935.4L587.6,936.1L586.3,936.4L584.9,935.4L584.5,936.2L583.6,935.9L583.1,936.2L582.7,935.8L581.8,936.8L579.5,936.3L579.1,937L578.6,936.3L577.3,936.2L576.8,935.6L575.9,936.9L575,936.3L574.1,936.7L573.7,936.2L573.2,937L571.9,935.7L571.4,937L571,936.6L570.5,937.1L570.1,936.3L567.8,937.4L566.9,936.6L566,937.2L564.2,936.6L563.3,937.4L562.9,936.6L562,937.2L561.5,936.6L561.1,937L560.6,936.5L557.9,937.1L557.5,936.5L557,937.7L556.1,936.9L555.2,937.4L554.8,937L553.4,937.5L553,937.2L551.6,937.4L551.2,937.9L550.3,937.2L549.8,937.7L548.5,937.7L548,938.4L547.6,937.8L546.7,937.7L546.2,938.2L544.9,937.5L544,938.1L543.5,937.4L542.2,938.3L541.7,937.6L540.8,938.3L539,937.8L538.1,938.3L537.7,937.9L536.8,938.7L535.4,938.3L535,938.9L534.5,938.3L534.1,939.1L533.2,938.4L530,939.1L529.6,938.8L529.1,939.3L528.7,938.7L527.8,938.7L527.3,939.3L526.9,938.7L525.5,939.8L524.6,938.9L523.7,939.7L522.8,939.1L522.4,939.5L521.9,939.2L521,940.5L520.1,939.5L519.7,939.6L519.2,940.4L517,941.1L516.1,940.8L513.4,942.7L512.9,942.4L512,943.7L511.6,943.4L510.7,944.1L508.4,944.5L507.5,945.7L507.1,945.2L506.2,946.1L504.4,946.6L503,948.7L502.1,948.7L500.8,950.3L499.4,950.7L497.6,953.7L497.2,953.1L495.4,956.7L494.9,956.5L491.8,962.7L487.7,975.7M487.3,978.2L486.4,982M485,990.6L484.6,992.8M472.4,1159.6L471.5,1163.4L470.2,1165.3L468.4,1161.5M453.5,1020L453.1,1018M452.2,1013.3L451.3,1009.9M450.8,1007.2L448.1,998.6L446.3,994.2L445.9,993.4L445.4,993.9L443.6,988.7L443.2,989.3L442.3,987.2L441.8,987.4L438.2,982.5L437.3,982.4L435.1,979.7L434.6,980.2L434.2,979.1L432.8,978L432.4,978.7L431.5,977.4L429.7,976.4L429.2,976.6L428.3,975.7L427.9,976.2L427,975.2L425.6,975.7L425.2,974.7L424.7,975.1L422.5,974.5L421.6,973.5L421.1,974.1L419.3,973.8L418.9,974.2L418.4,973.7L417.5,973.9L415.7,973.4L414.4,973.9L413.9,973.5L412.6,974.3L412.1,973.7L408.5,974.1L405.8,975.2L405.4,974.6L404.5,975.3L403.6,975.1L403.1,975.8L402.2,975.6L401.8,976.6L401.3,975.8L399.5,977.2L399.1,977L397.7,977.7L397.3,978.6L395.9,978.9L394.1,980.9L393.7,980.1L392.8,981.6L392.3,981.5L386.9,988.5L386,990.5L385.6,990.5L382.4,997.3L377.5,1013.1M377,1015.4L376.1,1019.2M375.7,1021.5L375.2,1023.2M373.4,1034.3L373,1036.5M360.8,1141.1L359.9,1144.5L358.6,1145.4L357.2,1144.2L356.3,1142M341.5,982L338.3,969.4L334.3,958.7L332.9,957.5L332.5,955.7L331.6,955.5L328,950.1L327.5,950.5L327.1,949L326.6,948.9L326.2,949.6L325.7,948.1L324.8,947.2L323.5,946.7L322.6,947L321.2,945.8L320.8,946.2L319.4,945.2L318.5,945.4L317.2,944.4L315.8,944.5L314,943.6L313.6,944.1L312.2,942.8L310,943.3L308.6,942.3L308.2,943.3L306.8,942.5L305,942.8L304.6,942.4L304.1,943L303.7,941.8L302.8,942.5L301.4,941.6L301,942.4L300.5,941.4L300.1,942.1L298.7,942.3L298.3,941.6L297.4,941.7L296.9,941.3L296.5,942L295.1,941.4L294.7,941.7L293.3,941.3L292.9,941.9L292,940.8L291.5,941.8L290.6,941.3L290.2,942.3L289.3,941.1L287.5,941.8L286.6,941.2L284.3,941.7L283.4,941L281.6,941.1L281.2,941.7L280.7,941L279.8,941.4L279.4,940.6L278.5,941.5L278,940.9L277.1,941.6L274.4,941.2L274,942L273.1,941.2L272.2,941.3L271.7,940.8L270.8,941.7L270.4,940.8L269,941.7L268.6,940.9L268.1,941.7L267.7,941.1L267.2,941.7L265,941L264.5,941.9L264.1,941.1L263.6,941.6L262.7,940.7L260.9,941.8L259.6,940.9L258.7,941.3L258.2,940.6L257.8,941.6L256.9,941.9L256.4,941L254.2,940.9L252.8,941.6L251.9,940.8L251.5,941.4L250.1,941.6L249.7,941.1L249.2,941.5L248.8,941L247.9,941.5L246.5,940.8L245.6,941.3L244.7,941L244.3,942L243.4,941L242.9,941L242.5,941.7L242,940.4L241.1,941.5L239.8,941L237.1,941.6L234.4,940.7L233.5,941.4L232.6,941.2L232.1,942.2L230.8,941.1L230.3,941.7L229.9,941.1L229.4,941.7L228.5,941.7L228.1,941.1L227.6,941.6L227.2,940.8L226.3,941.7L225.4,940.8L224.9,941.6L223.6,941.2L221.3,941.7L220.4,941L220,941.4M220,942.3L220.4,941.3L220.9,941.7L221.8,941.3L222.7,941.9L224,941.8L224.5,941.1L224.9,941.8L226.7,941.2L227.2,941.8L228.1,941L229.9,941.9L230.8,941.4L231.2,942.1L231.7,941L233.5,942L233.9,941.1L234.4,941.5L236.2,940.8L237.1,941.5L237.5,940.9L238,941.5L239.3,940.4L239.8,941.5L241.6,940.8L242,941.3L242.9,941.3L244.3,940.6L244.7,941.2L245.2,940.6L246.1,941.3L246.5,940.7L247,941.2L248.3,940.8L249.7,941.5L251,940.6L251.5,941L254.6,940.9L255.1,941.3L255.5,940.6L256.4,941.2L256.9,940.8L258.2,941.4L259.1,940.3L261.4,941.3L263.2,940L263.6,941.2L265,940.1L265.9,940.7L267.2,940.3L267.7,941.1L268.6,940L271.7,940.5L272.2,939.9L272.6,941L273.5,939.8L275.3,940.8L275.8,939.7L277.1,940.4L277.6,939.9L278.9,940.4L279.4,939.8L279.8,940.2L280.7,940L281.2,940.5L281.6,940L282.1,940.5L282.5,939.8L283,940.5L283.9,939.7L284.8,940L285.2,939.6L285.7,940.1L286.6,939.6L287.5,940L288.4,939.5L288.8,940.2L289.3,939.4L290.2,940L291.1,939L291.5,939.5L295.1,939.7L295.6,938.8L296,940L296.5,939.1L296.9,939.5L297.4,938.7L298.3,938.8L298.7,939.5L301,938.7L302.3,939.2L303.2,938.5L304.6,939.2L305,938.6L305.9,939.3L306.4,938.5L309.1,938.2L309.5,938.7L310.4,938L312.7,938.7L313.1,937.7L313.6,938L314,937.5L314.9,938.1L316.7,937.3L317.6,938.3L318.1,937.3L318.5,938.1L319.4,937.1L319.9,937.6L321.2,937.2L321.7,937.8L322.1,937.1L323,937.3L323.9,936.4L325.3,936.9L325.7,936.2L326.6,937.1L327.1,936L327.5,936.6L328.4,936.6L328.9,935.8L329.3,936.3L329.8,935.7L330.2,936.5L330.7,935.7L332,935.7L332.5,935.1L332.9,935.6L333.8,935.3L334.3,935.6L334.7,935.1L336.1,935.2L336.5,934.4L337.9,934.3L340.6,933.4L341,932.4L341.5,933.3L341.9,932.5L342.8,932.4L343.7,931.5L344.6,931.9L346,930.6L347.3,930.4L348.7,928.4L349.1,929.1L349.6,927.8L350.9,928.1L351.4,926.7L353.2,925.1L354.5,922.3L355,922.4L355.9,921.3L356.3,919.7L358.1,917.1L361.3,908.3L362.6,902.9M363.1,900.5L363.5,898.4M364,895.6L364.4,893.9M378.8,732.2L379.7,729.4L380.6,728.2L381.1,728.6L381.5,727.8L382,727.9L382.9,729.7L384.2,735.4M400,858.2L400.9,862.1M401.3,864.3L401.8,866.1M402.2,868.9L404,875.1M404.5,877.4L408.5,889.5L409,889.6L410.8,894.1L414.4,900.8L417.1,903.6L417.5,905.1L418.9,906L419.8,907.5L420.2,907.3L421.6,909.5L422.9,909.9L424.7,911.6L425.6,911.6L427,913.4L428.3,913.5L429.2,914.3L429.7,913.9L430.1,914.9L430.6,914.7L432.4,916.1L433.7,916.1L434.2,916.9L435.5,916.5L436.4,918.2L437.3,917.7L437.8,918L438.2,917.2L439.1,918.7L439.6,918.8L440,918L440.5,919.1L442.7,918.9L443.6,919.7L444.1,919.2L445.9,920.1L446.3,919.1L447.2,920.3L447.7,919.8L449,919.8L449.9,920.7L452.2,920.2L453.1,920.8L454.4,919.9L455.8,920.1L456.2,919.3L456.7,919.9L458,919.4L458.5,920.2L459.4,918.8L460.3,919.2L463,917.4L463.4,917.7L463.9,916.4L464.8,917.1L465.7,915.7L466.1,916.3L469.7,911.9L472.4,906.3L472.9,906.6L475.1,900.6L476.9,893.7M477.8,889L478.3,887.3M491.8,747.9L492.2,746.3M492.7,744.1L494,742.6L494.5,742.7L494.9,741.7L495.8,742.3L497.2,745.3M497.6,747.6L498.1,749.4M510.7,836.5L511.1,838.3M512,844L512.9,847.8M513.4,851.1L513.8,853M514.3,855.4L514.7,857M515.2,859.6L516.1,862.9M516.5,865.1L520.6,879.4L525.1,890.6L525.5,890.8L530,899.8L530.9,900.5L531.8,902.3L533.2,903.3L536.3,908L537.7,908.7L539.5,910.9L539.9,910.7L540.8,912.2L542.6,912.9L543.5,914.1L545.3,914.6L545.8,916L546.2,915.4L548.9,917.5L549.4,917.1L550.7,918.2L551.2,918L551.6,918.6L552.5,918.3L554.8,920.2L555.2,919.7L555.7,920.4L557,920.5L557.9,921.2L559.7,921.3L561.1,922.7L561.5,921.9L565.1,923.5L565.6,923L566,923.8L566.5,923.1L566.9,924.4L567.8,923.9L568.3,924.6L568.7,924.3L571,925.1L572.8,924.8L573.2,925.9L574.1,925.2L575,925.8L575.5,925.2L576.8,926.6L578.6,926.8L579.1,926.2L580,926.9L580.4,926.4L581.8,927.6L582.7,926.9L584,927.7L584.5,927.2L585.4,927.1L585.8,927.7L587.2,927.6L588.1,928.4L588.5,927.6L591.7,928.9L593.5,928.3L593.9,928.8L595.7,928.4L598.4,929.7L599.8,928.8L600.7,929.2L601.1,928.9L602,929L603.4,930.2L603.8,929.4L605.2,929.3L605.6,929.8L607.4,929.8L607.9,930.3L608.3,929.8L608.8,930.2L610.1,930.3L610.6,929.7L612.4,930.3L613.3,929.8L614.2,930.4L614.6,930.1L615.1,930.7L616.4,930.6L616.9,930.2L617.3,931.1L617.8,930.3L618.7,930.7L620,930.4L621.4,931.1L621.8,930.5L622.3,930.9L624.1,930.7L624.5,930.3L625.4,930.9L627.2,930.7L627.7,931.2L628.1,930.8L628.6,931.7L629,930.7L630.8,931.4L631.7,930.9L632.2,931.6L634,930.7L634.9,931.7L635.3,930.8L636.2,931.2L636.7,930.5L637.1,931.6L637.6,930.8L638.9,931.6L639.8,930.7L640.7,931.3L641.2,930.7L643,931.7L643.4,930.6L643.9,931.5L645.7,931L647.5,931.8L648.4,931.2L648.8,931.7L649.3,930.6L650.6,932.1L651.1,931.2L651.5,931.4L652,931L654.7,931.4L655.6,930.9L656.5,931.5L656.9,931L657.4,931.6L659.6,930.9L660.1,931.4L661,931L662.8,931.5L663.2,930.8L665,931.4L665.9,930.3L666.4,930.8L666.8,930.4L667.3,931.4L667.7,930.6L670.4,931L670.9,930.6L671.3,931.2L672.2,929.9L672.7,930.9L673.1,930.1L674,931.2L674.9,930.2L676.3,930.9L676.7,930.2L677.2,930.7L678.5,930.3L679,930.8L679.4,929.8L680.3,930.5L681.2,929.8L682.1,929.8L682.6,930.3L683,929.9L683.5,930.5L686.2,929.9L688,930.1L688.9,929.5L689.8,930.2L690.7,929.2L691.1,929.7L694.3,929.5L695.2,929L696.1,929L696.5,929.4L697,928.9L699.2,929.4L700.6,929.2L701,928.5L701.9,929.3L702.8,928.6L703.3,929.2L703.7,928.6L704.2,928.9L704.6,927.8L705.1,928.5L706.4,928.7L707.8,927.3L708.2,928.3L709.6,927.8L711.4,928.3L712.3,927.2L713.2,927.9L713.6,927.3L715.9,926.5L716.3,927.2L717.2,927.2L718.6,926.3L719.9,927.4L720.4,926.2L721.3,926.7L721.7,926.1L723.5,926.4L724.4,925.6L724.9,926.1L726.2,925.5L726.7,925.8L727.1,925.3L728.9,925.6L729.4,924.8L730.7,925.6L732.5,924.4L733.9,924.7L734.3,924.2L736.6,924.5L737,923.6L738.4,924.1L740.2,922.9L740.6,923.6L741.1,922.7L742,923.5L742.9,922.5L743.3,923L744.2,922.7L744.7,923.2L745.6,922.1L746.5,922.6L747.8,921.6L749.2,922.1L749.6,921.6L750.5,922L751,921L751.9,921.8L752.3,921.1L753.2,921.4L754.6,920.3L755,920.9L756.4,919.6L756.8,920.6L757.7,919.9L758.2,920.4L758.6,919.2L759.1,919.8L759.5,919.2L760,920.4L760.4,918.7L761.8,919.4L763.1,918.8L763.6,919.4L764,918.4L764.9,919L765.4,918L766.3,918.4L767.2,917.5L768.1,918.2L768.5,917.4L769,917.6L769.9,917L770.3,917.5L773.9,915.9L774.4,916.3L774.8,915.4M774.8,934L773.5,933.8L772.6,934.4L771.7,934L771.2,934.7L770.8,933.8L770.3,934.5L769.4,933.8L768.1,934.6L766.3,933.7L765.8,934.2L765.4,933.8L763.6,934.5L762.2,934.2L760.9,934.7L759.5,933.8L758.6,934.6L758.2,934.1L757.7,934.7L755.5,933.8L753.7,934.3L753.2,933.5L752.3,934.5L751.9,933.6L751.4,934.2L750.5,933.7L750.1,934.6L748.7,934.2L748.3,934.7L747.4,934.3L743.3,934.2L742.4,934.6L740.2,934L737.9,934.8L737,934.3L735.2,934.6L734.3,934L733,934.4L731.6,934L731.2,934.6L729.8,934.4L729.4,935L728.5,934.5L725.3,934.4L724.4,934.8L724,934.2L723.1,934.2L722.6,934.8L722.2,934.4L721.7,934.8L721.3,934.3L720.8,934.8L720.4,934.4L719.5,934.7L718.6,934.4L716.8,935.3L716.3,934.4L715.4,934.1L714.5,934.7L713.2,934.7L712.3,934.1L711.8,934.9L709.6,934.4L707.8,935L706.9,933.8L706.4,934.6L705.5,934.9L703.3,934.4L702.8,935.1L701.9,934.7L701,935.3L700.6,934.6L699.2,934.3L697,934.9L696.5,934.5L696.1,935L695.6,934.4L693.4,935.3L692.5,934.7L691.1,934.8L689.3,934.2L688.9,935.5L688,934.1L687.5,934.9L686.6,934.1L684.8,935.1L684.4,934.5L681.7,935.2L680.8,934.4L680.3,935.3L678.1,934.7L674.9,935.3L674.5,934.7L673.6,935.2L672.7,934.2L672.2,935L670.4,934.7L670,935.2L668.2,935.2L667.3,934.6L665.5,935.3L664.1,934.6L663.2,935.6L662.8,934.8L661.4,935.4L660.5,934.7L658.3,935.7L656.5,934.8L655.6,935.4L653.8,935L649.3,935.4L648.8,934.8L648.4,935.5L646.6,934.7L645.2,935.4L644.8,934.7L643.4,935.6L643,935.2L642.1,935.5L641.6,934.8L640.7,934.7L638.9,935.3L636.2,934.7L635.3,935.3L634,934.5L633.1,935.2L632.6,934.8L632.2,935.3L631.3,935.3L630.4,934.8L629.5,935.4L628.1,935L627.2,935.6L626.3,934.9L625.9,935.4L625,935.1L624.5,935.4L624.1,934.4L623.2,935.8L622.3,934.7L621.4,936L620.5,935L618.7,935.6L617.8,934.6L616.4,935.8L615.5,934.9L614.6,935.4L614.2,934.8L613.7,935.7L613.3,935.3L611,935.8L610.6,935.2L609.7,935.7L607.4,935.3L607,934.4L606.1,935.9L604.3,935.2L603.8,935.6L602,935.3L599.8,935.7L598.9,934.9L597.1,935.8L596.6,935.2L592.6,935.9L590.3,935.7L589.4,936.7L588.5,935.9L586.7,936.4L586.3,935.7L585.8,936.7L585.4,935.8L584.9,936.1L583.6,935.6L583.1,936.7L582.2,935.9L581.8,935.8L581.3,936.6L580.9,935.9L580,936.8L579.1,936.7L578.2,935.8L577.3,935.8L576.8,936.5L576.4,936L574.6,936.6L573.7,936.2L573.2,936.8L572.3,936.1L571.9,936.9L571.4,936.2L570.5,936.8L568.3,936.4L567.8,937L566.9,936.6L566.5,937.2L565.6,936.4L563.8,937.5L563.3,936.8L562.9,937.3L561.1,936.9L559.3,937.6L558.8,936.6L558.4,937.5L557,936.9L556.6,937.3L556.1,936.7L555.7,937.7L555.2,937L553.9,937.5L553.4,937L552.1,937.9L550.7,937L549.8,938.1L549.4,937.5L548,937.9L547.6,937.2L547.1,938.3L545.8,937.8L545.3,938.4L544.9,937.7L544.4,938.1L543.5,937.6L542.6,938.2L539.5,937.9L538.1,938.7L536.3,938.1L535,938.9L534.5,938.3L532.7,938.9L532.3,938.4L531.8,939.3L530.9,938.4L529.6,938.3L529.1,938.9L528.7,938.4L528.2,939.2L527.8,938.6L526.9,939.7L526.4,939.1L525.5,939.7L524.2,939.2L521,940.1L520.1,939.7L519.2,940.5L518.3,939.9L517.4,941.3L516.5,941L516.1,941.9L515.6,941.4L515.2,942.1L514.7,941.9L514.3,942.5L511.1,943.4L510.2,944.4L509.3,944.3L506.6,946.5L505.3,946.4L503.5,948.4L501.2,949.6L500.3,951.2L499,952L495.8,956.7L492.2,964.8L489.5,974.3M489.1,976.7L488.6,978.6M487.7,984.1L487.3,985.8M475.1,1128.6L474.2,1131L472.9,1132.2L472.4,1132.1L470.6,1127.2M458.5,1020.6L457.6,1016.8M456.2,1009.1L455.8,1008.6M455.3,1005.7L452.6,996.7L449.9,990.3L448.1,986.9L446.8,985.3L446.3,985.5L445,983.2L443.2,981.5L442.7,981.7L442.3,980.7L441.8,980.9L440.9,979.9L440.5,980.3L439.1,978.6L438.7,978.8L438.2,978L437.8,978.1L436.4,976.9L435.1,976.9L433.7,975.3L432.8,975.8L431.9,974.9L428.8,974.8L427,973.7L426.5,974.3L426.1,973.3L425.6,973.7L424.3,973.1L422.9,973.8L422.5,972.8L422,973.5L419.3,973.4L418.9,974.1L417.5,973.2L417.1,973.9L416.6,973.4L413.9,973.6L411.7,975L411.2,974.4L410.3,975.1L409.9,974.7L409,975.6L408.5,975.1L407.6,976.2L405.4,976.5L402.2,978.6L401.8,978.3L400,980.5L397.7,981.9L392.3,988.8L388.7,995.9L383.8,1011.2M382.9,1016.2L382.4,1017.1M381.5,1022.1L381.1,1024.1M366.2,1146.6L364.4,1150.3L362.6,1149.1L361.7,1146.3M347.3,986.4L346.9,984.7M346.4,982.3L342.8,968.3L342.4,968.1L340.6,963L338.3,959L337.9,958.9L336.5,955.9L336.1,956.1L333.8,952.5L333.4,952.7L332.5,951.6L332,950.3L331.6,950.8L330.7,948.9L329.3,949L328.9,947.4L328,947.5L327.5,946.7L324.8,945.1L323.5,945.2L323,944.9L322.6,945.2L322.1,944.1L321.2,944.6L320.3,943.3L319,944.6L318.5,943.7L318.1,943.9L317.6,943.3L317.2,943.7L316.7,942.6L315.8,943.2L315.4,942.7L314.9,943.4L314.5,943.1L314,943.5L313.6,942.5L312.7,943L312.2,942.6L311.8,942.9L310.9,942.4L310,942.6L308.6,942.2L307.3,942.8L306.8,941.7L305.5,942.5L305,941.7L304.6,942.6L304.1,942.6L303.7,941.2L303.2,942L301.9,941.2L300.5,942L299.6,941.3L299.2,942.2L297.8,941.5L297.4,941.8L296,940.9L295.6,941.5L295.1,940.8L294.7,941.6L294.2,941L293.8,941.5L292.4,941.1L291.5,941.8L290.6,941.3L290.2,941.6L289.3,940.8L288.4,941.6L287.9,941.2L286.6,941.1L286.1,941.6L285.2,941L283.9,940.9L283,941.4L280.7,940.9L280.3,941.6L279.8,940.9L278.5,941.3L277.6,940.7L277.1,941.8L276.7,940.8L276.2,941.3L275.8,940.8L275.3,941.4L274.9,940.8L274.4,941.7L273.5,940.7L273.1,941.7L272.6,940.6L271.7,941.5L271.3,941L270.8,941.5L269.9,940.9L269.5,941.5L268.6,941L268.1,941.4L267.2,940.7L266.3,941.9L265.9,941.8L265.4,940.6L264.5,941.5L263.2,940.8L262.3,941.4L260.5,940.7L258.7,940.9L258.2,941.7L257.8,940.6L256.4,941.3L256,940.7L255.5,941.2L254.6,940.9L253.3,941.5L252.8,940.8L252.4,941.5L250.1,941.1L249.2,941.7L248.8,941.1L247.9,941.5L247.4,940.8L247,941.7L246.5,941.3L246.1,941.6L245.2,940.9L244.3,941.3L243.8,940.9L243.4,941.5L242.5,940.9L242,941.4L239.8,940.9L237.1,941.5L236.6,940.9L235.7,942L235.3,941.1L233.9,941.1L233.5,941.6L232.1,941.1L231.7,941.5L230.3,941.2L229.9,941.8L229.4,941.3L228.5,941.7L228.1,941.3L227.6,941.6L227.2,941L226.7,941.5L226.3,940.7L225.8,941.4L224.9,941.1L224.5,941.7L223.1,941.8L221.8,941.4L221.3,942L220,941.1M220,941.5L220.9,942.1L222.7,941.4L223.1,942L223.6,941L224.5,941L225.4,942.4L225.8,941.3L226.7,942.1L227.2,941.3L228.5,941.7L229,941L229.9,942L230.3,941.2L231.2,941.8L233.9,940.9L235.3,941.6L236.2,941.1L236.6,941.9L237.1,941.3L241.1,940.8L241.6,941.8L242,940.9L242.5,941.7L242.9,941.3L243.8,941.6L244.3,940.7L244.7,941.7L245.6,941L246.5,941.2L247,940.6L247.4,941.6L247.9,941L248.3,941.3L250.1,940.8L250.6,941.4L251,941L253.3,941.4L254.2,940.7L256,941.3L257.3,940.7L258.7,941.1L260.9,940.5L262.3,941.1L263.2,940.4L264.1,941.2L264.5,940.4L265.4,941L266.3,940.2L266.8,941L267.2,940.7L268.1,941L269,940.4L269.5,940.8L271.7,940.9L272.2,940.3L273.1,940.8L273.5,940.2L274.4,940.5L275.8,939.9L276.2,940.8L276.7,940.4L277.1,940.8L277.6,940.1L278.9,940.4L279.4,939.8L279.8,940.7L281.2,939.9L281.6,940.7L282.1,939.7L282.5,940.7L283,940L283.9,939.9L284.3,940.5L284.8,939.8L285.7,939.7L286.1,940.1L287,939.7L287.9,940.4L289.3,939.5L289.7,940.3L291.5,938.9L292,939.8L292.4,939.3L293.3,940L293.8,939.2L294.2,939.8L295.1,939.2L295.6,939.9L296.5,939.2L296.9,939.6L297.8,939.1L298.7,939.6L299.2,938.8L300.1,939.5L300.5,938.8L304.6,939.3L305.5,938.8L306.8,939.1L308.6,938.3L309.1,938.8L310.4,938.5L310.9,939.2L311.3,938.3L311.8,939L312.2,937.9L313.1,939L314.9,937.7L315.4,938.4L316.7,938.8L318.1,937.4L319.9,938.5L321.2,937.8L323,938L323.9,937.1L324.4,937.2L324.8,938.4L325.7,937.3L327.5,937.3L328,936.6L330.2,937.4L330.7,936.8L332,936.9L332.5,936.4L332.9,937.1L333.4,936.1L334.7,936.6L335.2,935.7L337,936L337.4,934.9L338.3,935.5L340.1,935.1L340.6,934.4L341,935.1L341.5,934L341.9,934.5L343.3,933.9L343.7,934.3L345.5,933.8L346,933.3L347.3,933.1L348.2,931.7L348.7,932.2L350.9,931L351.8,931.1L353.2,929.6L355.9,928.4L362.2,920.4L365.3,913.1M365.8,910.7L368.5,901.6M369.4,896.5L369.8,894.4M383.3,729.8L384.7,725.3L386,724L387.4,726.3L389.2,733.5M403.1,845.8L403.6,847.4M404.9,855.5L405.4,857.1M406.3,862L408.1,868.5M408.5,871.2L410.8,879.3L413.5,886.7L419.3,898.6L421.6,901.6L422,901.7L424.7,905.8L425.6,905.8L426.5,907.6L427,907.4L428.3,909.1L429.7,909.6L430.6,910.9L431.5,910.5L431.9,911.9L432.8,911.7L434.6,913.7L435.5,913.5L436.4,914.5L437.3,914.6L437.8,915.2L438.2,914.8L438.7,915.5L439.1,915L440,916.5L441.4,915.5L442.3,917L443.6,916.7L445,917.2L445.9,918.2L446.8,917.8L448.6,918.4L449,918L450.4,918.9L450.8,918.4L452.2,919L452.6,918.3L453.1,918.7L456.7,918.7L457.1,919.2L458.9,919.2L459.4,918.6L463,918.1L463.4,917.2L463.9,917.6L464.8,916.8L466.1,916.5L468.4,915L469.7,913.2L470.2,913.4L470.6,912.3L472,911.3L475.6,904.4L478.7,894.5M479.2,892.2L479.6,890.8M493.6,750.2L494.9,744.9L496.7,743.4L497.2,743.8L498.1,743.8L500.3,749.9M501.2,755L502.1,759M513.8,836.6L514.3,838.5M515.6,845.9L516.1,847.7M516.5,850.3L517,852.1M517.4,854.8L519.7,863M520.1,865.2L522.4,873.3L527.3,886.9L531.8,895.7L538.1,904.5L540.4,906L542.2,908.6L542.6,908.4L543.5,909.4L544.4,909.6L545.3,911.3L545.8,910.8L546.2,911.9L548,912.9L548.9,914L551.2,915.1L551.6,914.9L552.5,915.8L553,915.5L553.4,916.3L555.2,917L555.7,918.1L556.1,917.1L558.4,919.2L558.8,918.7L560.6,919.8L561.1,919.4L562.9,920.7L563.3,920.2L563.8,920.8L564.7,920.4L566.5,921.4L566.9,922.2L568.7,922.5L569.2,923.3L570.5,922.7L572.8,923.6L573.2,923.2L575,923.7L576.4,924.7L576.8,924.2L577.3,924.7L577.7,924.1L578.6,925.2L581.8,925.6L582.7,925.5L583.1,924.9L583.6,925.9L584,925.6L584.9,926.3L586.3,926.1L586.7,926.5L588.1,926.6L588.5,927.2L589,926.4L590.3,927.3L591.2,927L592.1,927.7L593,927.3L594.4,928L594.8,927.5L595.7,928.2L596.2,927.8L596.6,928.5L597.1,927.8L598,928.3L599.3,927.8L600.2,928.3L600.7,927.9L601.1,928.6L602.9,928.7L603.4,928.3L603.8,928.8L604.7,928.5L605.2,928.8L606.1,927.9L606.5,928.9L607.4,929.4L607.9,928.8L608.3,929.2L609.2,928.7L611.5,929.5L611.9,928.8L612.8,929.8L613.7,929L614.2,929.1L614.6,930L615.1,929.1L615.5,929.8L616,928.9L617.8,929.9L619.6,930.2L620.5,929.1L621.4,930L622.3,930.1L623.6,929.3L624.5,929.8L625.4,929.4L625.9,930.3L628.1,929.6L628.6,930.2L629.5,929.7L629.9,930.4L630.8,930.2L631.3,929.5L631.7,930.6L632.6,929.7L634,929.8L634.9,930.6L635.3,930.1L636.7,930.2L637.1,929.8L637.6,930.7L638,929.8L638.9,930.8L639.8,929.9L640.7,931L641.6,929.9L643.4,930.4L643.9,929.6L644.3,930.4L645.7,930.1L646.1,930.7L647,930.7L647.5,930.2L648.4,930.9L649.3,930.1L652,930.7L654.2,929.6L655.1,930.8L655.6,930.2L656.5,930.4L656.9,929.5L658.3,930.4L659.6,929.4L660.1,930L661,929.4L661.9,929.8L662.3,929.4L662.8,929.9L663.7,929.6L664.1,930.3L664.6,929.4L665.5,929.5L665.9,928.9L666.4,929.8L668.6,929L670.9,929.6L671.8,928.6L672.7,929.4L673.1,929L674,929.3L674.5,928.7L675.4,929.5L676.3,928.7L677.6,928.4L678.1,929L679,928.1L679.4,929L679.9,928.4L680.8,928.7L682.1,927.8L683,928.5L683.5,928L684.4,928.7L684.8,927.9L685.3,929.4L686.2,927.8L687.5,928.4L688,927.6L688.4,928.1L688.9,927.5L689.8,928.2L691.1,927.6L691.6,927.9L692,927.4L692.9,927.5L693.4,927L694.3,927.2L694.7,927.8L695.6,926.8L696.5,927.1L697,926.7L697.4,927.1L698.3,926.6L698.8,927.1L699.2,926.2L699.7,927.4L700.6,926.2L701,926.7L701.9,926.8L702.8,926L705.5,926.1L706,925.1L706.9,926L709.6,924.5L710,925.2L711.4,924.2L711.8,924.6L712.3,924.3L712.7,924.9L713.6,923.9L714.5,924.8L715.4,923.8L716.3,923.5L716.8,924L717.2,923.2L718.1,923.8L722.6,922.3L723.1,922.8L724.4,922.7L724.9,921.9L726.2,922.1L726.7,921.2L727.6,921.7L728,920.9L728.9,921.6L729.8,920.7L732.1,920.7L732.5,919.6L733.4,920.1L734.3,919L735.2,919.7L736.6,919.5L737,918.6L737.9,918.9L738.4,919.7L738.8,918.3L739.7,918.8L741.1,918.3L741.5,917.3L742,917.8L742.4,917.4L742.9,917.9L744.7,916.5L745.1,917.1L745.6,916.1L746.9,916.5L747.8,915.7L748.7,916.2L749.2,915.2L749.6,915.8L750.1,915L751.4,914.4L751.9,915.1L753.2,913.7L753.7,914.2L754.1,913.5L754.6,914.1L755,913L755.5,913.6L755.9,912.7L757.7,912.8L758.6,912L759.1,912.3L759.5,911.4L761.8,911.3L762.2,910.2L763.1,911L764,909.5L764.5,910.1L767.2,908.2L767.6,909.1L768.1,907.8L769.9,907.7L770.3,906.9L771.7,907L772.1,906.1L773,906.2L773.5,905L773.9,905.2L774.8,904.4M774.8,934.2L773.9,934.6L772.6,933.9L772.1,934.5L771.7,933.8L771.2,934.1L770.3,933.8L769.9,934.3L769.4,933.8L768.1,934.7L767.6,933.8L766.3,933.9L765.8,934.7L764.5,934L764,934.5L763.1,934.3L762.2,934.7L760.9,934L760.4,934.7L759.5,933.6L758.6,934.6L758.2,933.8L757.3,934.6L756.4,933.9L755.5,934.4L755,934L753.7,934.3L753.2,934.9L751,933.7L750.5,934.3L749.6,934.2L748.7,934.8L748.3,933.8L747.8,934.5L746.5,934.2L746,934.9L745.6,934.6L745.1,935L744.2,934.1L742.4,935L741.5,934L741.1,934.7L739.7,934.9L738.8,933.9L738.4,935.1L737.5,934.4L736.6,935.1L736.1,934.5L735.7,935L735.2,934.5L734.8,935.1L734.3,934.5L733.9,934.8L732.1,934.4L731.2,934.7L730.3,934.3L729.4,934.9L728.5,934.2L727.1,935L726.7,934.2L726.2,934.9L725.3,934.3L724.4,934.9L724,934.4L723.1,935.2L722.6,934.3L721.7,934L721.3,934.7L719.9,934.3L719.5,935L718.6,934.7L718.1,934L715.9,935.1L713.2,934.6L712.7,934.1L710.9,934.6L710.5,934L709.1,935L707.8,934.5L705.5,934.8L704.2,934.2L703.7,934.9L702.8,934.5L702.4,935.4L701.9,934.3L701.5,934.7L701,934.3L700.1,934.8L699.7,934.6L699.2,935.3L698.8,934.4L692.5,934.9L692,934.1L691.6,935.2L691.1,934.8L690.2,934.9L689.8,934.3L689.3,935L688.4,934.6L688,935L687.1,934.5L686.6,935L685.3,934.8L684.8,935.3L684.4,934.6L682.6,935L682.1,934.5L681.7,935L679.9,934.4L679,935.4L678.5,934.7L676.7,935L675.4,934.5L674.9,935.2L674.5,934.8L672.2,934.9L671.8,935.5L670.4,934.8L669.1,935.1L667.7,934.6L666.8,935.2L664.1,934.8L663.2,935.2L662.8,934.6L660.5,935.2L660.1,934.8L659.6,935.7L659.2,935.1L658.7,935.5L658.3,935.2L657.8,934.5L656,935.2L655.6,934.4L654.2,935.4L653.3,934.6L650.6,935.5L650.2,934.7L649.3,934.6L648.4,935.1L647.9,934.7L647.5,935.2L646.1,935.2L645.2,934.8L644.8,935.5L644.3,935L643.9,935.4L643,934.4L642.5,935.3L642.1,934.8L641.2,935.4L640.7,934.7L639.4,935.8L638.9,934.9L638,935L637.6,935.5L637.1,935L636.7,935.6L636.2,934.8L635.3,935.6L633.5,934.8L632.6,935.5L631.7,934.8L629.9,935.8L628.6,934.6L627.2,935.7L626.8,935L626.3,935.6L625.9,935.2L625.4,935.4L623.2,935L622.3,935.4L621.8,934.9L620,935.7L619.6,935.1L619.1,935.8L618.7,934.8L617.8,935.5L617.3,934.6L616.4,935.5L616,934.9L615.1,935.9L614.6,935.4L613.3,935.7L612.8,935.3L611.9,936L610.1,934.5L609.7,935.4L607.9,935.7L605.2,935.3L604.7,935.8L603.8,935.5L603.4,936.1L602.5,935.2L601.1,935.4L600.7,935.9L598.9,935.9L598.4,935.1L596.2,936.2L595.3,936.1L594.8,935.5L593.9,936.1L593.5,935.5L592.1,936.5L591.7,935.3L591.2,935.8L590.3,935.3L589.4,936.1L588.1,936.4L587.6,935.7L586.7,936.5L585.4,935.7L584,936.2L581.3,935.9L580.9,936.3L580,936.1L578.6,936.9L576.4,936L575.9,936.9L575,936.3L574.6,937.1L572.8,935.9L572.3,936.8L571.4,936.2L571,936.8L570.1,936.4L569.2,936.9L568.3,936.6L567.8,937.3L567.4,936.7L566.9,937.2L566,936.8L565.6,937.3L565.1,936.7L563.8,937.3L562.9,936.6L562,936.5L561.1,937.1L558.4,937.3L557.9,937.9L557.5,937.2L556.1,937.1L555.7,937.6L555.2,937L554.8,938.1L554.3,937L553.4,937.8L552.5,937.8L552.1,937.1L551.6,937.9L550.7,938.1L549.4,937.3L548.9,937.9L548.5,937.5L547.6,938.4L547.1,937.6L546.7,938L545.3,937.4L543.5,938.6L543.1,938.1L542.6,938.5L541.7,938L540.4,938.5L539.9,937.8L539.5,938.6L537.2,938.1L535.9,938.7L535.4,938.4L535,939.2L534.5,938.1L534.1,939.2L533.2,938.7L532.7,939.5L532.3,939L531.4,938.9L530,939.7L528.7,939.2L525.1,939.9L524.6,939.2L524.2,939.9L523.7,939.3L522.8,940.3L521.9,939.9L518.8,940.8L518.3,941.4L517.4,941.2L517,942.1L516.1,941.8L515.6,942.6L514.3,942.9L512.9,944.1L512.5,943.8L512,945L511.6,944.4L510.7,945L510.2,944.8L508.4,946.9L506.6,947.5L506.2,948.7L503.9,950L500.3,955L499.9,954.8L497.6,959.6L494.9,966.7L493.1,973.5M492.7,976L491.8,980.1M478.7,1133.3L477.8,1137L476,1138.3L474.7,1137.1L473.8,1133.2M463,1030.7L462.5,1028.6M462.1,1024.1L461.6,1022M460.3,1014.3L458.9,1008.7M458.5,1005.9L455.8,997.1L454,992.5L452.2,989L451.7,989L451.3,987L449,984.3L448.6,984.7L446.8,981.8L446.3,982.4L445.4,980.5L444.1,980.4L443.6,979.7L442.3,979.3L441.8,978.6L439.1,978.3L438.2,977L435.5,976.5L434.2,975.5L432.8,975.8L430.1,974.4L429.7,974.8L428.8,974.3L427.9,974.7L427,974.2L426.1,974.7L425.2,973.9L424.3,974.6L423.8,974.1L423.4,974.8L422.5,974.3L421.6,974.8L420.7,974.6L419.3,975.3L416.2,975.3L415.7,975.8L413.9,975.8L413.5,976.4L411.7,976.7L410.8,977.8L410.3,977.4L407.2,979.8L406.7,979.3L404,982.5L403.6,982.1L401.8,984.3L401.3,984.2L400,986.8L399.5,986.5L397.3,990.6L396.8,990.7L393.2,997.9L389.2,1010.2M388.7,1013.3L387.4,1018.4M370.3,1167.6L368.9,1171.9L368,1172.3L366.2,1169.8L365.3,1165.9M351.4,992.3L350.9,990.3M350,984.9L347.8,975.9M347.3,973.6L342.8,962.2L339.2,956.7L337.4,955.2L337,953.8L335.2,952.1L334.7,952.2L333.8,950.7L330.7,948.5L330.2,947.7L328.4,947.1L327.5,945.9L324.8,945L323.9,943.9L323,944.2L322.1,943.7L321.2,944.2L320.8,943.7L319.9,944.2L319.4,943.4L319,943.7L318.5,943L317.2,943.5L316.3,942.9L315.4,943.4L314.5,942.6L312.7,942.9L312.2,942.2L311.8,943.1L311.3,941.9L310.9,942.5L310.4,941.8L309.5,942.7L308.6,942.7L308.2,942L307.3,941.8L306.8,942.9L305.9,941.7L304.6,942.1L303.7,941.2L302.8,941.9L301.4,941.2L301,941.9L299.6,941.3L299.2,942L298.7,941.4L298.3,941.8L297.8,941.4L296,941.5L295.6,941.1L295.1,941.9L294.2,941.2L293.8,941.7L293.3,941.1L292,941.6L291.5,940.8L291.1,941L290.6,940.6L290.2,941.4L288.4,941L287.9,941.4L287.5,940.9L286.1,941.5L285.7,940.8L285.2,942.1L284.3,940.7L283,941.4L282.1,940.9L281.6,941.3L280.3,941L278.9,941.6L278.5,941L277.6,941.6L277.1,940.9L276.7,941.4L276.2,941L274.9,941L274.4,941.6L273.1,941.1L271.7,941.3L271.3,940.7L270.4,941.3L269,940.6L268.6,941.2L267.7,941L267.2,941.9L266.3,940.5L265.9,941.3L265.4,940.6L264.5,941.1L264.1,940.8L263.6,941.4L261.8,940.8L260.9,941.7L260.5,941.1L259.6,941.2L259.1,940.8L258.7,941.3L257.3,940.6L256.4,941.7L255.5,941.4L254.6,940.3L254.2,941.6L253.3,940.6L252.8,941.2L251.5,940.8L250.6,941.4L250.1,940.7L249.7,941.3L249.2,940.7L248.8,941.4L248.3,941.1L247.9,941.4L247,940.7L245.2,941.5L244.7,940.8L243.8,941.9L242.5,940.7L242,941.3L241.6,941.5L241.1,941L239.8,941.6L238.4,941L238,941.5L237.5,940.8L237.1,941.7L235.7,940.7L234.8,940.8L233.5,941.9L233,941L232.1,941.9L230.8,941.1L230.3,941.8L229.9,941.3L228.5,941.8L226.3,940.8L224.9,941.3L223.6,940.8L223.1,941.5L222.2,941.7L221.8,941L220.4,941.5L220,941.2M220,941.9L220.4,941.4L220.9,941.8L223.6,941.9L227.2,941.2L228.1,941.8L228.5,941.3L230.8,941.8L231.7,941.1L233.5,941.7L233.9,941L235.3,941.7L235.7,941.4L237.1,941.7L238,941.1L239.3,941.8L240.2,940.8L240.7,941.6L241.6,940.7L242.9,941.1L243.4,941.9L243.8,941.1L244.7,941.3L245.6,940.6L246.1,941.7L247,940.9L247.4,941.3L248.3,940.9L248.8,941.4L250.1,940.9L250.6,941.5L251.5,940.2L252.8,941.8L253.3,941L255.1,941.1L255.5,940.7L256.4,941.3L256.9,940.6L258.2,941.1L261.8,940.6L262.3,941.2L263.6,940.2L264.5,940.8L265.4,940.7L265.9,941.3L266.8,940.4L267.7,940.9L269.9,941.1L270.4,940.5L271.7,940.6L272.2,941.1L273.5,940.2L274.4,940.7L275.3,940.2L276.7,940.8L277.6,940.8L278,940.2L279.4,941.3L280.7,940.3L281.2,941L282.1,940.4L283.4,940.5L284.8,939.8L285.7,940.1L286.1,939.5L287.9,940.7L288.4,939.5L289.7,940.1L291.5,939.8L292,940.5L292.4,939.7L293.3,940.1L295.6,939.4L296.5,940.1L297.4,939.4L297.8,939.8L299.2,939.5L299.6,939.8L300.5,939.2L301,939.8L301.4,938.9L302.3,939.5L303.2,939.2L303.7,939.9L305.9,939.1L306.8,939.6L307.3,938.8L308.2,939.7L309.1,938.7L310.4,939.3L311.8,938.6L312.7,938.9L313.1,938.4L314,938.5L314.5,939.1L315.4,938.5L315.8,939L317.2,938.5L317.6,938.9L318.5,938L319.4,938.4L319.9,937.7L320.3,938.7L320.8,938.7L321.2,938.1L321.7,938.6L323,938L323.5,938.7L324.4,937.9L324.8,938.3L325.7,937.8L326.6,938.1L327.1,937.4L328.4,938.1L330.2,937.4L332,937.9L332.9,936.7L333.8,937.6L334.7,936.8L335.2,937.3L335.6,936.8L337,937.1L337.4,936.4L337.9,937.1L338.3,936.8L338.8,937.3L339.7,935.9L340.1,936.4L340.6,936L341,936.3L341.5,935.7L341.9,936.4L343.7,935.5L344.2,936.2L345.1,936.1L345.5,935.5L348.2,935.4L348.7,934.5L349.1,935.4L350.5,934.5L350.9,934.8L352.3,934.5L352.7,933.9L353.2,934.2L353.6,933.6L354.5,934.1L355,933.3L358.1,932.4L358.6,932.9L359,931.5L359.9,931.8L360.4,931.1L361.3,931.1L361.7,929.9L362.2,931L363.5,929.3L364.9,928.4L365.3,928.5L365.8,927.2L367.1,926.8L367.6,925.8L368,925.8L370.3,922.8L371.6,919.9L372.1,919.8L375.7,910.1M376.1,907.7L376.6,906.2M377.5,901.8L377.9,899.9M391.9,721.6L392.8,719.1L393.2,718.6L394.1,718.8L395,720.2L396.4,725.1M410.3,840.5L410.8,842.4M413,855.5L413.5,857.5M413.9,859.9L414.4,861.5M414.8,863.7L415.3,865.1M415.7,867.6L416.6,870.2M417.1,872.4L422.5,888.7L427.4,897.8L427.9,897.9L428.3,899.4L430.1,901.2L431.5,903.6L431.9,903.1L432.8,905.2L435.1,906.9L435.5,908L438.2,910.6L439.1,910.6L439.6,911.4L440,911L440.5,912.3L441.4,912.3L443.6,913.9L444.5,913.8L445,914.6L449,916.2L449.5,916.9L450.8,916.9L453.1,917.8L454.4,918.8L454.9,918.4L458,919.5L458.5,919L460.3,919.5L461.2,920.1L461.6,919.6L462.1,920.2L463.9,920L464.8,920.6L465.7,920L466.1,920.5L467,919.9L467.5,920.3L467.9,920L468.8,920.2L469.3,919.8L470.2,920L471.5,919.2L472,919.7L473.8,918.7L474.2,919.1L474.7,918.7L475.6,918.9L476.5,918L476.9,918.5L477.4,917.7L477.8,918L478.7,917.5L479.6,916.1L481,916.1L481.4,914.9L483.2,913.6L485.5,910.4L487.3,906.8L491.3,895.1M491.8,892.4L492.2,890.5M505.3,773.7L505.7,771.9L507.1,769.7L508,769.7L508.4,770.4L508.9,769.8L509.3,770L511.1,773.9L512.9,780.3M513.8,784.7L514.7,788.8M515.6,794.4L516.1,796.4M516.5,799.7L517,801.4M519.7,818.2L520.1,820.3M521.5,828.5L521.9,830.1M522.4,833.1L522.8,835.1M524.2,843.1L524.6,845.2M525.1,847.5L526,851.5M526.4,853.7L526.9,855.1M527.3,857.4L530.9,871.3L533.6,879.7L535,882.1L535.9,885.3L536.3,885.1M536.8,887.4L540.8,895.8L541.3,895.5L542.2,898.2L543.5,900.1L544.4,900.6L546.7,904.6L547.1,903.9L549.8,907.8L553,910.4L553.4,910.1L554.8,912.2L555.7,912L558.8,915.1L559.3,914.9L562.4,916.8L562.9,916.4L563.8,917.8L564.7,917.9L565.6,918.7L566,918.5L566.5,919.1L566.9,918.6L567.8,919.9L568.7,919.4L569.2,920.1L571.4,921L573.2,921.1L574.6,922.2L575.5,921.9L576.4,922.7L577.7,922.4L578.6,923.5L580,923.3L583.6,924.6L584,924.2L584.5,924.8L585.4,924.4L586.3,924.9L586.7,925.9L587.6,924.9L588.1,925.7L589,925.2L590.3,926.5L591.2,925.8L592.6,926.8L593,926.1L593.5,926.9L594.4,926.2L594.8,926.9L595.7,926.4L597.1,927.2L597.5,926.8L598,927.5L598.9,927L599.8,927.8L600.2,927.4L601.6,928L603.4,927.3L603.8,928.1L604.3,927.8L604.7,928.3L605.2,927.9L605.6,928.4L606.5,928.4L607,927.8L607.9,928.1L608.3,928.9L609.7,927.7L610.6,928.9L611,928.4L611.5,928.7L611.9,928.1L612.8,929L613.7,928.4L614.6,929L615.5,928.4L616,928.9L618.2,928.6L619.1,929.4L623.2,928.9L623.6,929.9L624.5,928.9L625,929.6L626.8,929.8L627.2,929.1L628.6,929.8L629.9,929.5L631.7,930.2L633.1,929.3L636.7,930.2L637.6,929.7L638.9,929.9L639.4,929.2L640.3,930.2L641.6,929.6L642.1,930.3L642.5,929.5L644.8,930.4L645.2,929.4L645.7,929.9L646.1,929.4L650.2,930.3L652,929.7L652.9,930.4L653.8,929.4L654.7,929.9L655.6,929.5L656.5,929.8L656.9,929.3L657.8,929.9L658.3,929.4L659.2,930L660.5,929.2L663.7,929.8L664.6,929.1L665,929.6L666.8,929.2L667.3,929.9L667.7,928.6L668.2,929.4L671.3,928.8L671.8,929.4L674,928.3L674.5,928.8L675.8,928.3L677.6,928.9L678.1,928.5L680.3,928.4L681.2,927.4L681.7,928.7L682.1,928.2L683.9,928.2L684.4,927.6L685.3,928.2L686.6,927.3L687.1,928.2L688.4,927.1L689.8,926.8L691.1,927.9L691.6,926.8L692,927.5L694.3,926.9L694.7,927.2L695.6,926.5L696.5,927.2L697.4,926.3L698.3,927L699.2,926.2L700.1,926.3L700.6,925.7L701,926.3L702.4,926.4L703.7,926.2L704.6,925.2L705.1,925.5L706.4,925.1L707.3,925.5L709.1,924.1L709.6,924.6L710.9,924.2L711.4,924.7L712.3,924.7L712.7,923.2L713.6,924.1L716.3,923.3L716.8,924L717.2,923.1L717.7,923.3L719,922.8L719.9,922.9L721.7,921.9L722.6,922.5L723.1,921.3L724.4,921.8L724.9,921.1L726.2,921.4L726.7,920.7L727.1,921.2L727.6,920.5L728,920.9L728.5,920.4L729.4,920.5L731.2,919.8L732.1,920.2L733.4,919L733.9,919.7L734.3,918.9L735.2,919.1L735.7,917.8L736.1,918.4L736.6,917.9L737.5,918.1L737.9,917.5L738.8,918.4L739.3,917.4L740.2,917.8L741.1,916.6L741.5,917L742,916.5L742.4,917L742.9,916.2L743.3,916.7L743.8,915.8L744.2,915.9L744.7,915.2L745.1,916.5L746,915.3L747.4,915.1L747.8,915.5L748.7,914.4L750.1,914.2L751.4,913.1L751.9,913.6L752.3,913L752.8,913.4L753.7,912.3L754.1,913.1L754.6,911.8L755,913.1L757.7,910.9L758.2,911L758.6,910L759.1,910.7L760.9,909.3L761.3,909.6L763.6,909L764.9,907.3L767.2,906.9L768.5,905.7L769,906L770.3,905.1L770.8,905.6L771.2,904.4L772.1,904.5L773,903.6L773.5,904L774.8,902.5M774.8,934L774.4,933.7L773.9,934.7L773.5,934.2L772.6,934.6L771.7,934.2L771.2,934.7L770.8,933.7L770.3,934.6L769.4,934.2L768.5,934.6L768.1,934.1L766.3,934.5L765.4,934L764.5,934.8L763.1,934.8L762.7,934.3L760.9,934.5L760.4,934L760,935.1L758.6,933.8L758.2,934.4L757.3,934L755.5,934.7L755,933.9L754.6,934.3L754.1,933.9L752.8,935L752.3,934L751.9,934.4L749.2,934.1L747.8,934.8L746.9,933.8L745.6,935L745.1,934L744.7,934.6L743.8,934.2L743.3,934.7L742.9,934.2L742.4,935L741.1,934.3L740.2,934.7L739.7,934.2L737.9,934.5L737.5,933.9L736.1,934.7L735.7,934.1L733.4,934.9L732.1,934.1L731.2,934.6L730.3,934.1L729.8,934.6L728.9,934.2L728.5,934.5L727.6,934L726.7,934.6L725.8,934L724.9,934.8L722.6,934.1L719.9,934.9L719,934.1L717.2,934.9L716.8,934.1L715.9,934.7L714.5,934.3L714.1,934.9L712.3,934.1L711.4,934.8L710.9,934L709.6,935.2L708.2,934.5L706.4,934.8L705.5,934.2L705.1,934.7L704.2,934.2L701.9,935.1L701.5,934L700.6,935.1L700.1,934.5L698.8,934.8L697.9,934.2L697.4,935L696.5,934.8L696.1,934.2L695.6,934.9L695.2,934.5L694.7,934.9L694.3,934.4L693.8,935.1L692,934.2L691.1,935.1L690.2,934.6L689.8,935.1L688.9,934.4L687.5,935.1L687.1,934.1L686.6,935.1L685.3,934.4L684.8,934.3L684.4,935.1L683.9,934.7L683.5,935.1L683,934.5L682.1,935L681.7,934.4L680.8,935.4L680.3,934.6L679.9,935.2L678.1,934.5L677.6,935.4L677.2,934.4L675.8,935.2L675.4,934.5L672.2,935.1L671.3,934.4L670,935.7L669.1,935.1L668.6,934L667.7,935.1L666.8,934.7L665.9,935.3L664.6,934.4L663.7,935.2L662.3,934.2L661.4,935.1L661,934.7L657.4,935.2L656.5,934.6L655.6,935.3L652.4,935.2L651.5,934.5L651.1,935.2L649.7,935.2L649.3,934.6L647,935.5L646.1,934.9L644.8,935.2L643.9,934.6L643.4,935.6L642.5,934.9L642.1,935.3L641.6,934.4L640.7,935.5L639.4,935.1L638.5,935.8L638,935L637.1,935.4L636.7,934.9L636.2,935.6L635.8,934.6L635.3,935.1L634,934.8L633.1,935.3L632.6,935L632.2,935.5L631.7,934.6L630.8,935.7L630.4,935L628.6,935.5L628.1,934.9L627.7,935.4L627.2,934.9L626.3,935.5L625.4,935.3L625,936L624.5,935.3L622.3,935.2L620.9,935.7L620.5,935.4L619.6,935.9L619.1,934.9L617.3,935.8L616.9,935.3L616,935.9L615.5,934.8L613.7,935.6L613.3,935.1L612.4,935.9L611.9,935.2L611,935.1L610.6,935.6L610.1,935.3L609.2,935.8L607.9,934.7L607.4,935.6L606.1,935.2L605.6,935.8L605.2,935.5L603.4,935.7L602.9,935.1L602.5,935.6L600.7,935.3L599.3,935.6L598.9,935L597.5,936L596.6,935.5L596.2,936.3L595.7,935.4L595.3,936.1L593,935.8L592.1,936.6L591.7,936L590.8,936.5L590.3,935.7L588.5,935.9L588.1,936.4L585.8,935.9L585.4,936.4L584,936L583.6,936.4L582.2,936.3L581.8,935.6L581.3,936.7L580.9,936.2L580.4,936.7L579.5,935.8L577.7,936.9L576.8,936.3L575.5,936.8L574.1,936.3L573.7,937L573.2,936.4L571.9,936.9L571.4,936.3L570.5,937.1L567.8,937L567.4,937.7L566.5,936.6L566,937.3L564.7,937.1L563.8,937.8L562.9,936.6L562,937.4L561.5,936.7L561.1,937.9L559.7,937.1L559.3,937.8L557.5,937.3L555.2,938L552.5,937.4L552.1,938.1L551.2,938.2L550.7,937.6L550.3,938L549.8,937.7L548.9,938.7L548,938.7L547.6,937.9L546.2,938.6L544.4,938.5L544,939L543.5,938.6L542.6,939L542.2,938.6L541.3,939.6L540.8,939.1L538.1,939.7L537.7,939.2L536.8,939.8L536.3,939.4L535,940.1L534.5,939.7L533.6,940.4L533.2,940.1L532.3,940.6L531.8,940.3L530.9,941.1L530.5,940.4L529.6,941.4L529.1,940.7L528.2,941.5L526.9,941.5L524.2,943L522.4,943.3L521,944.8L520.1,944.6L519.7,945.4L518.8,945.6L517.9,947L517.4,946.8L516.1,949.4L514.7,950.4L513.8,952.1L512.9,952.8L510.2,959.1L508,966.3L506.2,974.4M492.7,1128.6L491.3,1133.1L490.4,1133.3L489.5,1132.7L488.6,1130.3M474.7,1010.4L473.8,1006.2M473.3,1004L472.9,1002.5M472.4,1000.1L470.6,993.9L467,984.7L463,978.7L462.5,978.7L462.1,977L461.2,976.7L460.7,977.1L459.4,975.5L458.5,975.3L458,974.1L455.3,973.6L454.9,972.6L454,973.1L453.5,972.5L453.1,972.8L452.2,972L451.7,972.7L451.3,971.7L450.8,972.1L449,971.3L448.6,971.9L448.1,971.5L447.7,972.3L446.8,971.3L445.4,972.2L445,971.7L443.2,972.4L442.3,972L440.5,972.1L439.6,972.6L438.7,972L438.2,972.4L435.1,972.4L433.7,971.5L433.3,972.2L431.5,971.6L431,972.7L430.6,971.7L430.1,971.8L429.2,972.8L428.8,972.4L427.9,972.9L427.4,972.6L427,973.7L426.5,973.1L424.7,973.1L422,973.9L421.6,974.7L420.7,974.1L417.5,976.3L417.1,975.8L414.8,977.8L413.9,977.8L412.6,979.5L412.1,978.9L411.2,980.3L409.4,981.4L406.3,984.8L405.8,986.6L405.4,986.3L403.1,989.8L402.7,991.5L401.8,992.3L399.5,997.7L396.8,1005.5L393.7,1018.7M393.2,1021.3L392.8,1023.4M391,1034.6L390.5,1036.7M378.4,1144.3L377.5,1147.1L376.1,1148.3L374.3,1146.6L373.4,1143.5M360.4,995.9L359.9,994.1M359,988.4L358.6,987.2M358.1,984.6L357.7,983.2M357.2,980.7L356.8,979M356.3,976.7L351.4,964.2L347.3,958.2L346.9,958.2L346.4,957.2L345.5,956.8L343.7,954.7L343.3,954.7L341,951.7L339.7,951.8L338.8,950.5L336.5,948.9L333.8,947.9L332.9,946.4L332.5,947L332,946.2L330.7,945.3L330.2,945.5L329.3,944.6L325.7,943.4L325.3,942.4L324.4,943.3L323.9,942.2L323,942.9L319.9,942.6L319.4,942.2L317.6,942.5L316.3,941.8L315.8,942.3L314.9,941.7L313.6,942.1L311.8,941.5L311.3,942.1L310.4,941.3L310,941.9L307.7,941.6L307.3,941L306.8,941.6L306.4,941.1L305.9,942L305,941.2L302.8,940.9L302.3,941.7L300.5,941L300.1,942.1L299.6,940.8L299.2,941.6L298.7,940.7L297.4,941.5L296.9,940.9L296.5,941.2L296,940.3L294.2,941.3L292.4,940.7L292,941.4L291.1,940.5L290.6,941.1L289.3,940.8L288.8,941.2L288.4,940.5L287.5,940.8L287,940.5L285.7,941.4L284.8,940.5L283,941.6L282.5,940.8L281.6,941.5L281.2,940.8L279.4,941.1L277.6,940.8L276.2,941.4L275.8,940.8L274,940.5L273.1,941.6L272.6,940.9L270.4,941.1L269.5,940.7L268.6,941.5L268.1,940.8L266.3,941.5L265.4,940.8L265,941.8L263.6,940.8L262.7,941.4L261.8,940.7L261.4,941.8L260.5,940.8L257.3,941.3L256.4,940.9L256,941.3L255.1,940.7L254.6,941.2L252.8,940.7L251,941.3L249.2,940.8L248.3,941.4L247.4,940.6L247,941.2L244.7,941.6L243.4,940.8L242.9,941.6L241.6,941.1L240.7,941.6L239.8,941.1L239.3,941.5L238.4,940.8L238,941.5L237.5,940.9L236.6,941.7L235.3,941L233.5,941.3L233,940.6L232.6,941.4L232.1,940.8L231.2,941.4L229.9,941L229.4,941.7L229,940.7L228.5,941.2L225.8,941L224,941.5L223.6,941.1L223.1,941.5L222.2,941.2L221.8,941.8L220.9,941L220,941.5M220,942.3L220.4,941.7L221.8,942L222.2,941.4L223.1,941.3L224,941.8L224.5,941.4L224.9,942.2L225.8,941.4L227.2,941.6L227.6,941L228.5,941.9L229,941L230.3,941.4L232.1,941.1L233,941.5L233.5,940.9L233.9,941.5L234.4,941L235.3,941L237.5,942L238,941.1L238.9,941.3L239.3,940.7L239.8,941.6L240.2,941.2L241.6,941.3L242,940.7L242.5,941.7L243.4,941L243.8,941.7L245.2,941.2L245.6,941.8L246.5,940.9L250.1,941.5L251,940.8L251.9,941L252.4,941.9L253.7,940.8L254.6,941.6L255.5,940.8L256,941.3L256.4,940.8L257.8,940.8L258.2,941.5L258.7,940.4L259.1,941.2L260.5,940.9L260.9,941.4L261.8,939.8L262.3,941L263.6,941L264.1,940.6L266.3,941.1L267.7,940.5L268.6,941L269,940.5L271.7,940.8L273.5,940L274.9,940.9L275.3,940.4L275.8,940.9L276.2,940.3L276.7,940.7L278,940.3L278.9,940.8L280.3,940.1L282.1,940.2L282.5,940.7L283.9,940.1L284.8,940.9L285.7,939.5L286.1,940.1L287,939.9L287.9,940.7L289.3,939.7L290.6,940L291.1,940.5L292.9,939.6L293.3,940.2L293.8,939.3L294.2,940.1L294.7,939.5L295.1,940.3L296.9,939.4L299.6,939.8L301.9,939.2L302.3,939.8L302.8,939.1L303.2,939.6L305,939.4L305.5,939.9L306.4,939.1L306.8,939.6L307.7,939.3L308.6,939.6L309.1,938.6L309.5,939.4L312.7,938.6L313.1,939L314.5,938.9L314.9,939.3L315.4,938.6L315.8,939.2L317.2,939.1L317.6,938.3L318.1,939.2L318.5,938.4L319.4,939.1L319.9,938.5L320.3,938.9L322.1,938.7L323,938L323.5,938.9L323.9,938.1L324.8,938.5L326.2,938.3L326.6,938.8L327.5,938.3L328,938.9L330.2,937.7L331.6,938.5L332.5,937.2L335.2,938L336.1,937.2L337.4,937.7L338.3,937.1L338.8,937.9L339.2,937.2L340.1,937L340.6,937.8L341.5,936.9L344.2,937.3L344.6,936.4L345.1,936.7L345.5,936.3L346,936.7L346.4,936.2L346.9,937L347.8,935.7L348.2,936.3L348.7,935.7L349.1,936.2L350,935.6L351.4,936.1L351.8,935.5L352.3,936.1L353.2,935.4L355.4,935.7L356.3,934.8L358.1,934.9L359.9,933.8L360.8,934.6L361.3,934L361.7,934.6L362.6,933.8L365.8,933.6L366.2,933L368,933.2L368.5,932.3L370.7,932.4L371.2,931.6L371.6,931.8L373.4,930.5L374.3,930.6L377.9,928.6L379.3,927.1L379.7,927.3L380.6,925.7L381.5,925.3L382.4,923.8L383.8,922.9L388.3,913.1L391,902.7M404.5,752.1L405.4,748.8L406.3,747.1L407.2,746.8L408.1,748L410.3,755.3M416.2,796.1L416.6,798.1M422.5,839.8L422.9,842M424.3,849.4L424.7,851.5M425.6,856.5L426.1,857.7M427,862.8L428.8,868.8M429.2,871.4L430.1,874.1M430.6,876.3L431,876.5L434.6,887.4L436.4,890.3L437.8,894.1L440,897.8L440.9,898.2L443.2,903.2L443.6,902.5L445,905.3L445.4,904.7L445.9,906.2L446.3,905.7L447.2,907.5L447.7,907.1L449,908.9L449.5,908.7L449.9,909.6L450.8,909.7L451.7,911.4L453.1,911.5L454,912.6L454.4,912.4L454.9,913.4L455.3,913.2L456.7,914.4L458,914.5L458.9,915.7L459.4,915.2L460.3,915.3L460.7,916.2L461.6,916L462.1,916.8L463.4,916.8L463.9,917.3L464.3,916.9L465.2,917.9L466.1,917.7L469.3,918.8L469.7,918.3L471.1,918.8L471.5,918.6L472.9,920.1L473.3,918.9L475.1,919.8L476,919.1L476.9,920.3L477.4,919.7L477.8,920.2L478.3,919.7L479.2,920.2L479.6,919.2L480.1,920.1L481,919.4L481.4,919.8L483.2,918.9L483.7,919.7L485.9,918.4L486.4,918.9L487.7,917L488.6,917.4L490,916.2L490.9,916.2L494,912.8L497.6,906.7L500.3,899.2M500.8,896.9L501.7,894.2M502.6,889.1L503.5,885.3M515.6,775.8L517.4,773L517.9,773.1L518.3,772.5L519.7,773.5L521.5,777.4L522.8,782.6M523.3,784.8L523.7,786.8M524.2,789.2L524.6,790.6M525.1,793.6L525.5,795.4M528.7,814L529.1,815.9M530.9,827L531.4,829M531.8,832.2L532.3,834.3M533.2,839.2L534.1,843.3M534.5,846.4L535,848M535.4,850.6L536.8,855.9M537.2,858.3L538.1,861.4M538.6,863.7L543.5,879.8L548.9,892.8L555.7,903.7L557,904.6L558.8,907L559.7,907.3L560.6,909.1L561.5,909.1L562.4,910.5L563.3,910.7L564.7,912.7L565.1,912L568.3,914.9L568.7,914.5L569.2,915.5L570.1,915.3L570.5,916.3L571,916.8L571.4,916.5L571.9,917.4L573.2,917.9L573.7,917.5L574.1,918.2L575.9,918.5L577.7,919.7L578.2,919.5L579.5,920.9L580,920.6L580.9,921.1L581.3,920.8L581.8,921.6L582.7,921.5L583.1,922.1L584,921.6L586.7,922.7L587.2,923.5L587.6,923.2L589,924L590.8,923.6L591.7,924.6L593,924.4L593.5,924.8L593.9,924.2L594.8,925.5L597.1,925.2L598.9,926.3L599.8,925.5L600.7,926.7L601.1,926.2L601.6,926.6L603.8,926.2L604.7,926.5L605.2,927.3L606.1,926.5L607,927.4L607.9,926.7L609.7,927.9L611,926.9L611.5,927.7L613.7,927.8L614.2,928.4L614.6,927.5L615.1,928.1L616,927.8L616.4,928.8L616.9,927.5L617.3,928.2L617.8,927.8L619.6,928.4L621.4,928.1L622.3,928.8L624.5,928L625.9,929.1L627.2,928.6L629,929L629.9,928.4L630.8,929.6L631.3,928.7L632.2,929.3L632.6,928.6L634,929.8L634.9,928.7L635.3,929.8L635.8,928.9L636.2,929.3L636.7,928.7L637.1,929.4L638,928.8L638.9,929.5L639.8,929L640.7,929.4L641.6,928.8L643,929.5L644.3,929.2L645.2,929.8L646.1,929.2L646.6,929.8L647,929.4L648.4,930L649.3,929.2L650.6,929.8L651.1,929.1L652.4,929.2L653.3,929.9L653.8,929.2L655.6,929.5L656,929.1L656.5,929.6L657.4,928.8L658.3,929.3L659.2,928.8L659.6,929.2L660.1,928.8L661,929.2L662.3,928.7L662.8,929.4L663.2,928.8L663.7,929.7L664.1,928.6L665.5,929L665.9,928.4L667.7,928.9L668.6,928.3L671.8,928.4L672.2,929.2L672.7,928.1L673.6,928.6L674.5,927.5L675.4,928.4L676.3,927.8L677.2,928.4L679,927.4L679.9,928.1L680.8,928.1L681.2,927.5L681.7,928.1L682.1,927.1L682.6,927.8L683.9,927.1L684.8,927.5L685.3,927L685.7,927.3L686.6,926.6L687.1,927.3L687.5,926.8L688.4,927.4L689.3,926.6L690.2,927L691.1,926.2L692,927.2L693.4,926.1L698.3,926.1L699.2,925.2L699.7,926L701.9,925.1L702.4,925.8L702.8,925.6L703.3,924.1L703.7,925.3L704.2,924.8L704.6,925.3L705.1,924.3L705.5,924.7L706,924.3L707.3,924.4L707.8,923.8L708.7,924L710,923.3L710.5,923.6L711.4,922.9L712.3,923.7L714.5,922.9L715,922.3L715.9,922.2L716.3,922.7L717.2,922L718.1,922.2L719.9,921.5L720.4,922.1L721.3,921L721.7,920.9L722.2,921.7L723.5,920.1L724.4,921.2L725.3,920.1L725.8,920.5L728,919.1L728.9,919.9L729.4,918.7L730.3,919L733.4,918.2L733.9,917.6L734.3,917.9L735.2,917.1L735.7,917.7L736.1,916.9L736.6,917.2L737,916.6L737.5,917L737.9,916.1L739.3,915.9L739.7,916.6L740.2,915.3L741.5,915.7L742.4,914.8L743.3,914.5L743.8,914.4L744.2,915L744.7,914L745.6,914L746,913.2L746.5,913.6L747.4,912.6L747.8,913.2L748.7,912.9L749.2,912L749.6,912.9L750.5,911.8L751.9,911.7L754.1,910.3L755,910.4L756.4,909.3L757.3,909.4L758.2,908.5L758.6,909.1L759.5,907.9L760,908.2L761.8,906.6L762.7,907.3L764.5,905.4L766.3,905.3L766.7,904.1L768.5,903.7L769.9,902.5L770.3,902.9L772.1,901.2L772.6,902.1L773.9,899.7L774.4,900.2L774.8,900M774.8,933.9L773.5,934.7L773,933.8L771.7,934.7L771.2,933.8L770.3,934.8L769.9,934.2L769,934.5L768.1,933.9L766.7,934.6L766.3,933.9L765.4,935L764.5,933.8L764,934.4L763.6,933.8L761.8,934.7L761.3,934.2L756.4,934.5L755.9,933.8L754.6,934.7L753.7,934.1L752.3,934.4L751.4,934L750.1,934.7L748.7,933.9L748.3,934.8L747.8,933.9L746.5,934.6L744.7,934.1L743.3,934.8L742.4,934.2L742,935.4L741.5,934.4L741.1,934.7L739.3,934L735.7,934.6L733.9,934L733.4,934.4L733,934L732.5,935.1L732.1,934.3L731.2,934L730.3,934.8L729.4,934.4L728,934.8L727.6,934.2L727.1,934.9L725.3,934.5L724.9,934.9L724.4,934.3L723.5,934.2L722.2,935.1L721.7,934.2L720.4,934.8L719.5,934.1L719,935.2L715.4,934.6L715,934L714.5,934.8L712.3,934.3L711.8,934.9L711.4,934.4L710.9,935L709.6,934.4L708.7,934.8L706.9,934.4L706.4,935.1L705.1,934.4L704.6,935.1L704.2,934.3L703.7,935.2L702.8,934.1L701.9,935.2L701,934.5L700.6,934.9L699.2,934.5L698.3,935L697.4,934.4L696.5,934.5L696.1,935.5L695.6,934.4L695.2,934.7L694.7,934.3L694.3,935.1L693.8,934.3L692.9,934.8L692.5,934.6L692,935.3L691.6,934.8L689.8,935.1L688.4,934.5L688,935.3L687.5,934.9L686.2,935.2L685.3,934.5L684.4,934.8L683.9,934.3L683,935.2L682.6,934.2L681.7,934.5L681.2,935.6L680.8,934.6L679.9,935.4L679.4,934.8L678.5,935.2L678.1,934.1L677.6,934.7L676.7,934.3L675.8,934.9L674.9,934.1L674,935.1L672.7,934.4L671.8,934.8L669.5,934.5L669.1,935.2L668.2,934.5L667.7,935.1L666.8,934.7L665.9,935.2L665.5,934.6L664.6,935.3L663.7,935.3L663.2,934.5L662.3,935.6L661,934.9L658.7,935.3L657.8,934.6L656.9,935L656,934.7L654.7,935.3L653.8,934.6L652.4,935.4L652,934.8L649.7,935.1L648.4,934.7L647.5,935.8L647,935.2L646.6,935.7L644.8,934.7L643.9,935.7L643.4,934.7L642.5,935.5L642.1,935.1L638.9,935.3L638,934.5L637.1,935.6L636.2,934.8L635.8,935.1L635.3,934.7L634.9,935.5L633.5,935.1L632.2,935.6L631.3,934.8L629.9,935.4L628.6,935L627.7,935.7L627.2,935L624.1,935.6L623.6,935.2L623.2,935.7L622.3,935.2L620.9,935.7L620.5,935.1L620,935.6L619.1,935.1L617.8,935.9L616,935.2L615.5,935.7L615.1,935.2L614.2,935.2L612.4,935.9L611.5,935.2L611,935.7L608.8,935.2L605.2,935.8L604.3,935.3L603.4,936.2L602.9,935.1L602.5,935.7L601.6,935.1L600.7,935.9L600.2,935.2L599.3,935.9L597.5,935.2L597.1,935.9L596.6,935.6L596.2,936L595.3,935.3L594.4,936.3L592.1,935.3L590.8,936.5L589.9,935.3L589,936.3L588.1,935.7L587.6,936.4L587.2,935.8L586.7,936.8L586.3,936L585.4,935.9L584.9,936.9L583.6,935.9L582.2,936.7L581.8,936.1L581.3,936.8L580.9,936L579.5,936.4L579.1,935.9L577.3,936.8L574.1,936.5L573.7,937.2L573.2,936.7L572.8,937L572.3,936.4L570.1,936.9L569.2,936.7L568.7,937.4L568.3,936.7L567.8,937.3L566.9,936.7L566.5,937.4L566,936.6L565.1,937.3L564.2,936.8L563.3,937.6L561.5,937.1L561.1,937.6L560.2,936.9L557.5,937.6L556.6,937.1L555.7,938.1L553.4,937.6L553,938.1L551.6,938.2L551.2,937.8L550.3,938.5L549.4,938.2L548.9,938.5L548.5,937.8L547.1,938.7L545.8,938.6L544.9,937.7L543.5,939.2L543.1,938.8L540.8,939L539.9,939.8L539,939.1L538.6,939.7L537.2,939.6L536.8,940.1L535.9,939.7L535.4,940.2L534.5,939.7L534.1,940.2L533.6,939.9L532.7,940.5L532.3,939.9L531.4,940.7L530,940.7L527.8,942.2L526,942.4L525.5,943.3L523.3,943.6L522.8,944.5L522.4,944.2L520.1,946.3L519.2,946.5L516.5,951.3L516.1,951.3L515.2,954L514.7,953.7L514.3,954.7L510.7,965.5L509.8,969.7M509.3,972L508.9,973.9M497.6,1085.6L497.2,1087.5M496.7,1089.7L495.4,1091.2L494.9,1090.8L494,1091.3L493.1,1089.8L491.8,1083.9M491.3,1081.2L490.9,1079.1M481,1004.5L480.1,1001.4M479.6,998.9L476.9,988.9L474.7,983.1L472.4,978.7L470.6,976.9L468.4,973.4L467.9,973.1L467.5,973.7L466.6,972L466.1,972.3L464.8,971.3L464.3,970.3L462.1,970.1L461.6,969.3L461.2,969.8L460.7,968.7L459.8,969.3L457.6,968.3L456.2,968.7L455.3,968.1L454.9,969L454.4,968L453.5,969L453.1,969L452.6,968.1L452.2,968.9L451.7,968.5L450.4,969.1L449.9,968.3L448.1,969.7L446.3,969.7L445.9,969.2L445.4,970.3L444.5,969.8L443.2,970.3L442.7,969.9L442.3,970.8L441.8,970.4L441.4,971.1L440.9,970.8L440,971.7L437.8,971.4L437.3,972.1L436.9,971.2L434.2,972.2L433.7,971.7L433.3,972.2L432.4,972L430.6,972.4L430.1,973.1L429.7,972.7L428.8,973.5L427.9,973.7L427.4,973.2L425.6,974.8L423.8,975L422.5,976.3L421.6,976.1L420.7,977.7L419.8,977.2L419.3,978.4L418.9,978.2L417.1,980L415.7,980.6L415.3,981.9L414.8,981.7L413.5,983.2L410.8,987.8L410.3,987.9L405.8,997L401.3,1012.8M400,1019.4L399.5,1020.9M386,1132.1L383.8,1140L382.9,1139.9L382.4,1140.4L380.6,1137.2M366.2,990.5L365.8,988.9M365.3,986.5L364.9,984.6M364.4,981.8L359,967.4L356.3,963.8L355,960.9L354.5,961.5L354.1,960.4L350.5,956.2L349.6,956L348.2,954.2L346.9,954.2L346,952.8L341.9,950.7L341.5,949.7L340.1,949.8L339.7,948.7L339.2,949.3L337.4,947.3L336.5,947.5L333.8,946.3L332.9,945.3L332,945.4L331.6,944.7L330.7,944.8L329.3,943.7L328.9,944.1L326.2,942.3L325.7,942.7L325.3,942.1L323.9,942.5L322.6,941.6L320.8,942.3L319.9,941.7L317.6,941.8L317.2,941.3L315.8,941.8L315.4,941.2L314.9,942L313.1,941.2L310.4,941.8L309.5,940.6L309.1,941.3L307.3,941.7L304.6,940.6L304.1,941.5L303.2,940.7L301.9,940.8L301.4,941.3L299.6,940.5L298.3,941.1L297.8,940.3L297.4,941.1L296,941.1L295.6,940.6L294.7,941L293.8,940.5L293.3,941L291.5,940.6L291.1,941.2L290.2,941.3L289.7,940.6L287,940.8L286.1,940.1L285.2,941.3L284.8,940.7L284.3,941.1L283.4,940.3L283,940.9L280.7,941.1L280.3,940.7L279.4,941.4L278.9,940.3L278,941.5L277.6,940.3L277.1,940.3L275.8,941.3L274.9,940.3L274.4,941.3L272.6,940.5L271.3,941.1L270.8,940.4L270.4,940.9L269.9,940.6L269.5,941.1L268.6,940.8L267.7,941.4L267.2,941L266.8,941.6L266.3,941.1L264.5,941L264.1,941.7L263.6,940.6L261.4,941.2L260.9,940.6L260,941.4L258.7,940.5L258.2,941.3L257.3,941.5L256.9,941L256.4,941.7L254.2,940.8L252.8,941.4L251.9,940.7L251.5,941.2L251,940.8L249.7,941.3L247,941L246.1,941.6L245.6,940.9L245.2,941.3L244.7,940.7L243.8,941.5L243.4,940.7L242.5,941L242,940.6L240.2,941.4L239.3,940.4L238.9,941.1L238.4,940.7L238,941.3L237.5,940.8L237.1,941.7L236.6,940.6L235.7,941.8L234.8,941.2L233.9,941.6L233.5,940.9L232.6,941.6L231.7,941L230.8,941.4L230.3,940.8L229.4,941.6L229,940.8L228.5,941.1L226.7,940.7L226.3,941.5L224.9,940.8L224.5,941.5L224,941.1L223.6,941.7L223.1,941.1L221.8,941L220.4,942.1L220,941.2" fill="none" stroke="#2a24dc" stroke-width="2.7" stroke-linejoin="round" stroke-linecap="round"/>
<path d="M356.8,901.1h0M357.2,898.9h0M358.1,895.5h0M358.6,892.8h0M359,890.8h0M359.5,888.3h0M359.9,885.1h0M360.4,881.8h0M360.8,878.6h0M361.3,875.7h0M361.7,872.4h0M362.2,868.4h0M362.6,864.5h0M363.1,860h0M363.5,855.7h0M364,850.7h0M364.4,845.7h0M364.9,840.2h0M365.3,834.6h0M365.8,829.1h0M366.2,822.9h0M366.7,816.7h0M367.1,810.8h0M367.6,804h0M368,798.2h0M368.5,790.9h0M368.9,783.6h0M369.4,777.3h0M369.8,770.6h0M370.3,763.9h0M370.7,758.3h0M371.2,751.9h0M371.6,745.7h0M372.1,741.9h0M372.5,737h0M373,733.6h0M373.4,729.5h0M373.9,726.5h0M374.3,724.9h0M374.8,722.3h0M379.7,724.7h0M380.2,726.9h0M380.6,730.1h0M381.1,732.8h0M381.5,736.3h0M382,739.8h0M382.4,743.9h0M382.9,747.4h0M383.3,751.7h0M383.8,755.2h0M384.2,760h0M384.7,765.2h0M385.1,769h0M385.6,773.4h0M386,777.7h0M386.5,782.7h0M386.9,787h0M387.4,790.9h0M387.8,795.8h0M388.3,799.8h0M388.7,804.1h0M389.2,807.7h0M389.6,812.3h0M390.1,815.7h0M390.5,819.3h0M391,822.7h0M391.4,826.3h0M391.9,830h0M392.3,832.9h0M392.8,836.5h0M393.2,839.4h0M393.7,842.5h0M394.1,845.2h0M394.6,847.6h0M395,849.7h0M395.5,852.9h0M395.9,855.5h0M396.4,857.6h0M396.8,860h0M398.2,865.8h0M398.6,868.4h0M472.4,903h0M472.9,900.7h0M474.2,897.3h0M474.7,895.1h0M475.6,891.6h0M476,889.1h0M476.5,887.1h0M476.9,884.9h0M477.4,882.1h0M477.8,879.3h0M478.3,876h0M478.7,873.1h0M479.2,869.4h0M479.6,866.2h0M480.1,862.6h0M480.5,857.4h0M481,852.5h0M481.4,848.3h0M481.9,843.5h0M482.3,838.5h0M482.8,832.9h0M483.2,826.6h0M483.7,820.6h0M484.1,815.1h0M484.6,808.1h0M485,802.4h0M485.5,795.6h0M485.9,789.6h0M486.4,783.3h0M486.8,777.4h0M487.3,771.7h0M487.7,765.8h0M488.2,761.3h0M488.6,756.8h0M489.1,753.1h0M489.5,750.1h0M490,746.9h0M490.4,744.6h0M495.4,745.2h0M495.8,748.2h0M496.3,750.9h0M496.7,753.2h0M497.2,756.3h0M497.6,760.2h0M498.1,763.3h0M498.5,766.4h0M499,770.4h0M499.4,774.3h0M499.9,778.3h0M500.3,781.7h0M500.8,786.8h0M501.2,790.4h0M501.7,794.8h0M502.1,798.7h0M502.6,803.1h0M503,806.7h0M503.5,810.4h0M503.9,814.6h0M504.4,818.6h0M504.8,821.7h0M505.3,825.8h0M505.7,828.9h0M506.2,832h0M506.6,835.8h0M507.1,838.2h0M507.5,841.8h0M508,844.3h0M508.4,847.4h0M508.9,849.6h0M509.3,852.3h0M509.8,855.4h0M510.2,857.5h0M510.7,859.8h0M511.1,861.9h0M511.6,864.4h0M512.5,868h0M512.9,870.2h0M487.7,975.7h0M487.3,978.2h0M486.4,982h0M485.9,984.5h0M485.5,987h0M485,990.6h0M484.6,992.8h0M484.1,996.8h0M483.7,999.9h0M483.2,1004h0M482.8,1008.1h0M482.3,1013.4h0M481.9,1018.1h0M481.4,1024.2h0M481,1028.8h0M480.5,1034.9h0M480.1,1042h0M479.6,1048.9h0M479.2,1056h0M478.7,1063.2h0M478.3,1072.3h0M477.8,1080.3h0M477.4,1088.7h0M476.9,1097h0M476.5,1105.9h0M476,1113.9h0M475.6,1122.1h0M475.1,1129.6h0M474.7,1137h0M474.2,1142.7h0M473.8,1148.2h0M473.3,1153.3h0M472.9,1156.8h0M472.4,1159.6h0M468.4,1161.5h0M467.9,1158.8h0M467.5,1155.9h0M467,1152.8h0M466.6,1148.9h0M466.1,1145.2h0M465.7,1139.9h0M465.2,1135.8h0M464.8,1129.8h0M464.3,1124.6h0M463.9,1119.2h0M463.4,1113.3h0M463,1107.8h0M462.5,1101.5h0M462.1,1095.5h0M461.6,1090.6h0M461.2,1084.7h0M460.7,1079.7h0M460.3,1075h0M459.8,1069.7h0M459.4,1064.8h0M458.9,1060.1h0M458.5,1056h0M458,1051.8h0M457.6,1047.4h0M457.1,1044.2h0M456.7,1040.1h0M456.2,1037.1h0M455.8,1033.6h0M455.3,1031h0M454.9,1028h0M454.4,1025h0M454,1022.3h0M453.5,1020h0M453.1,1018h0M452.6,1015.7h0M452.2,1013.3h0M451.3,1009.9h0M450.8,1007.2h0M377.5,1013.1h0M377,1015.4h0M376.1,1019.2h0M375.7,1021.5h0M375.2,1023.2h0M374.8,1025.8h0M374.3,1028.3h0M373.9,1030.8h0M373.4,1034.3h0M373,1036.5h0M372.5,1039.2h0M372.1,1042.7h0M371.6,1045.4h0M371.2,1049.3h0M370.7,1053h0M370.3,1056.4h0M369.8,1060.3h0M369.4,1064.1h0M368.9,1068.6h0M368.5,1072.6h0M368,1077.7h0M367.6,1081.9h0M367.1,1086.2h0M366.7,1090.5h0M366.2,1096.2h0M365.8,1100.7h0M365.3,1105.1h0M364.9,1109.6h0M364.4,1114h0M364,1118.2h0M363.5,1123h0M363.1,1126.4h0M362.6,1129.5h0M362.2,1133.1h0M361.7,1135.4h0M361.3,1139h0M360.8,1141.1h0M356.3,1142h0M355.9,1139.6h0M355.4,1137h0M355,1133.8h0M354.5,1130.1h0M354.1,1125.5h0M353.6,1120.7h0M353.2,1115.4h0M352.7,1109.3h0M352.3,1103.2h0M351.8,1096.4h0M351.4,1089.4h0M350.9,1081.8h0M350.5,1075.3h0M350,1068.5h0M349.6,1060.9h0M349.1,1054.3h0M348.7,1047.9h0M348.2,1041.7h0M347.8,1036.1h0M347.3,1030.3h0M346.9,1025.4h0M346.4,1019.9h0M346,1015.5h0M345.5,1011h0M345.1,1006.7h0M344.6,1003.5h0M344.2,999.6h0M343.7,996.4h0M343.3,993h0M342.8,990.4h0M342.4,987.6h0M341.9,984.9h0M341.5,982h0M362.6,902.9h0M363.1,900.5h0M363.5,898.4h0M364,895.6h0M364.4,893.9h0M364.9,891.2h0M365.3,888.2h0M365.8,885.7h0M366.2,881.5h0M366.7,878.8h0M367.1,874.6h0M367.6,870.7h0M368,866.8h0M368.5,862.8h0M368.9,857.2h0M369.4,852.2h0M369.8,846.8h0M370.3,842.2h0M370.7,835.7h0M371.2,829.5h0M371.6,823.5h0M372.1,816.3h0M372.5,808.7h0M373,802.1h0M373.4,794.8h0M373.9,788.7h0M374.3,780.7h0M374.8,774.4h0M375.2,767.5h0M375.7,761.3h0M376.1,755.6h0M376.6,750.2h0M377,745.3h0M377.5,740.9h0M377.9,737.5h0M378.4,734.5h0M378.8,732.2h0M384.2,735.4h0M384.7,737.9h0M385.1,741.2h0M385.6,744.1h0M386,747.2h0M386.5,750.6h0M386.9,754.7h0M387.4,758.2h0M387.8,762.5h0M388.3,766.6h0M388.7,771.3h0M389.2,775.7h0M389.6,779.5h0M390.1,783.8h0M390.5,787.9h0M391,792h0M391.4,796.5h0M391.9,800.9h0M392.3,804.9h0M392.8,808.9h0M393.2,812.4h0M393.7,815.4h0M394.1,820.2h0M394.6,823.9h0M395,827.2h0M395.5,830.6h0M395.9,833.9h0M396.4,837.5h0M396.8,839.8h0M397.3,843.1h0M397.7,845.7h0M398.2,848.3h0M398.6,850.7h0M399.1,853.1h0M399.5,855.3h0M400,858.2h0M400.9,862.1h0M401.3,864.3h0M401.8,866.1h0M402.2,868.9h0M404,875.1h0M404.5,877.4h0M476.9,893.7h0M477.4,891.3h0M477.8,889h0M478.3,887.3h0M478.7,884.8h0M479.2,882.5h0M479.6,879.3h0M480.1,876.9h0M480.5,873.3h0M481,870.3h0M481.4,866.1h0M481.9,862.8h0M482.3,858.1h0M482.8,853.7h0M483.2,849.3h0M483.7,843.4h0M484.1,838.4h0M484.6,833.8h0M485,827.1h0M485.5,821.4h0M485.9,815.6h0M486.4,809.7h0M486.8,802.7h0M487.3,796.6h0M487.7,789.9h0M488.2,784h0M488.6,778.5h0M489.1,772.6h0M489.5,767.2h0M490,762.5h0M490.4,758h0M490.9,754.2h0M491.3,750.8h0M491.8,747.9h0M492.2,746.3h0M492.7,744.1h0M497.2,745.3h0M497.6,747.6h0M498.1,749.4h0M498.5,751.6h0M499,753.9h0M499.4,756.3h0M499.9,758.5h0M500.3,761.6h0M500.8,764.8h0M501.2,768.1h0M501.7,770.9h0M502.1,774.1h0M502.6,777.5h0M503,781.6h0M503.5,784.7h0M503.9,787.9h0M504.4,791.3h0M504.8,795.1h0M505.3,797.9h0M505.7,801.8h0M506.2,805.1h0M506.6,808.5h0M507.1,812h0M507.5,815.3h0M508,819.3h0M508.4,821.5h0M508.9,824.7h0M509.3,827.2h0M509.8,829.8h0M510.2,833.5h0M510.7,836.5h0M511.1,838.3h0M511.6,841.2h0M512,844h0M512.9,847.8h0M513.4,851.1h0M513.8,853h0M514.3,855.4h0M514.7,857h0M515.2,859.6h0M516.1,862.9h0M516.5,865.1h0M489.5,974.3h0M489.1,976.7h0M488.6,978.6h0M488.2,981.1h0M487.7,984.1h0M487.3,985.8h0M486.8,989.2h0M486.4,992.6h0M485.9,996.2h0M485.5,999.6h0M485,1003.3h0M484.6,1008.1h0M484.1,1012.6h0M483.7,1016.9h0M483.2,1022.7h0M482.8,1027.9h0M482.3,1033.6h0M481.9,1040.4h0M481.4,1047.1h0M481,1053.6h0M480.5,1061.9h0M480.1,1068.2h0M479.6,1076h0M479.2,1083.4h0M478.7,1090.8h0M478.3,1096.9h0M477.8,1103.8h0M477.4,1108.8h0M476.9,1114.3h0M476.5,1118.7h0M476,1122.3h0M475.6,1125.8h0M475.1,1128.6h0M470.6,1127.2h0M470.2,1124.6h0M469.7,1122.1h0M469.3,1118.2h0M468.8,1115h0M468.4,1111.1h0M467.9,1107h0M467.5,1102.5h0M467,1097h0M466.6,1092.2h0M466.1,1087.8h0M465.7,1082.6h0M465.2,1077.4h0M464.8,1073.8h0M464.3,1068.8h0M463.9,1064.4h0M463.4,1059.7h0M463,1055.7h0M462.5,1051.3h0M462.1,1047.2h0M461.6,1044h0M461.2,1039.4h0M460.7,1036.4h0M460.3,1032.4h0M459.8,1030.2h0M459.4,1026.7h0M458.9,1023.5h0M458.5,1020.6h0M457.6,1016.8h0M457.1,1014h0M456.7,1011.3h0M456.2,1009.1h0M455.8,1008.6h0M455.3,1005.7h0M383.8,1011.2h0M383.3,1013.8h0M382.9,1016.2h0M382.4,1017.1h0M382,1019.4h0M381.5,1022.1h0M381.1,1024.1h0M380.6,1026.6h0M380.2,1029h0M379.7,1031.9h0M379.3,1034.2h0M378.8,1037.5h0M378.4,1040.3h0M377.9,1043.4h0M377.5,1046.3h0M377,1049.8h0M376.6,1053.5h0M376.1,1056.8h0M375.7,1060.6h0M375.2,1064.2h0M374.8,1068.8h0M374.3,1073.2h0M373.9,1077.9h0M373.4,1081.7h0M373,1086.2h0M372.5,1091.7h0M372.1,1096.4h0M371.6,1100.5h0M371.2,1105.4h0M370.7,1109.7h0M370.3,1114.9h0M369.8,1119.8h0M369.4,1124h0M368.9,1127.6h0M368.5,1131.9h0M368,1135.2h0M367.6,1138.8h0M367.1,1141.5h0M366.7,1144.3h0M366.2,1146.6h0M361.7,1146.3h0M361.3,1143.9h0M360.8,1140.9h0M360.4,1137.9h0M359.9,1134.2h0M359.5,1129.3h0M359,1124h0M358.6,1118.3h0M358.1,1112.4h0M357.7,1105.8h0M357.2,1098.8h0M356.8,1091.5h0M356.3,1084.5h0M355.9,1078.6h0M355.4,1070.4h0M355,1063.8h0M354.5,1056.9h0M354.1,1050h0M353.6,1044.6h0M353.2,1038.3h0M352.7,1032.4h0M352.3,1027.5h0M351.8,1022.1h0M351.4,1017.7h0M350.9,1012.8h0M350.5,1009h0M350,1005.4h0M349.6,1001.5h0M349.1,997.8h0M348.7,994.8h0M348.2,992.3h0M347.8,988.9h0M347.3,986.4h0M346.9,984.7h0M346.4,982.3h0M365.3,913.1h0M365.8,910.7h0M368.5,901.6h0M368.9,898.8h0M369.4,896.5h0M369.8,894.4h0M370.3,891.1h0M370.7,888.4h0M371.2,885.3h0M371.6,882.1h0M372.1,878h0M372.5,873.3h0M373,869.8h0M373.4,865.5h0M373.9,860.3h0M374.3,855h0M374.8,849.3h0M375.2,843.8h0M375.7,837.5h0M376.1,830.9h0M376.6,823.9h0M377,817.1h0M377.5,809.4h0M377.9,801.7h0M378.4,793.7h0M378.8,786.2h0M379.3,778.7h0M379.7,771.7h0M380.2,764.2h0M380.6,757.2h0M381.1,751.3h0M381.5,745.6h0M382,740.3h0M382.4,736.3h0M382.9,732.3h0M383.3,729.8h0M389.2,733.5h0M389.6,736.6h0M390.1,739.5h0M390.5,742.9h0M391,746.3h0M391.4,750h0M391.9,753.5h0M392.3,757.7h0M392.8,762h0M393.2,765.8h0M393.7,770.1h0M394.1,773.9h0M394.6,778.6h0M395,782.5h0M395.5,786.5h0M395.9,790.7h0M396.4,794.8h0M396.8,798.8h0M397.3,802.7h0M397.7,807.2h0M398.2,810.7h0M398.6,814.3h0M399.1,817.8h0M399.5,821.2h0M400,824.8h0M400.4,827.8h0M400.9,831h0M401.3,833.9h0M401.8,837.5h0M402.2,840.4h0M402.7,843.1h0M403.1,845.8h0M403.6,847.4h0M404,850.6h0M404.5,853.3h0M404.9,855.5h0M405.4,857.1h0M405.8,859.8h0M406.3,862h0M408.1,868.5h0M408.5,871.2h0M478.7,894.5h0M479.2,892.2h0M479.6,890.8h0M480.1,887.9h0M480.5,885.6h0M481,883.3h0M481.4,880.5h0M481.9,877.7h0M482.3,874.7h0M482.8,871.8h0M483.2,867.7h0M483.7,864.5h0M484.1,860.4h0M484.6,855.9h0M485,851.2h0M485.5,847h0M485.9,840.7h0M486.4,835.9h0M486.8,830.5h0M487.3,824.9h0M487.7,818.7h0M488.2,812.9h0M488.6,806.5h0M489.1,800.4h0M489.5,793.6h0M490,787.8h0M490.4,782.1h0M490.9,775.7h0M491.3,770.6h0M491.8,765.1h0M492.2,761.1h0M492.7,756.7h0M493.1,753.6h0M493.6,750.2h0M500.3,749.9h0M500.8,752.2h0M501.2,755h0M502.1,759h0M502.6,761.7h0M503,764.5h0M503.5,767h0M503.9,769.3h0M504.4,773.5h0M504.8,776.1h0M505.3,779.3h0M505.7,782.5h0M506.2,785.8h0M506.6,789h0M507.1,792.8h0M507.5,795.4h0M508,798.9h0M508.4,801.9h0M508.9,805.4h0M509.3,808.2h0M509.8,810.6h0M510.2,814.8h0M510.7,817.7h0M511.1,820.3h0M511.6,822.5h0M512,826.1h0M512.5,828.6h0M512.9,830.9h0M513.4,833.5h0M513.8,836.6h0M514.3,838.5h0M514.7,841.1h0M515.2,843.2h0M515.6,845.9h0M516.1,847.7h0M516.5,850.3h0M517,852.1h0M517.4,854.8h0M519.7,863h0M520.1,865.2h0M493.1,973.5h0M492.7,976h0M491.8,980.1h0M491.3,982.3h0M490.9,985.3h0M490.4,988.1h0M490,991.4h0M489.5,994.7h0M489.1,998h0M488.6,1002.3h0M488.2,1006.9h0M487.7,1011.1h0M487.3,1015.5h0M486.8,1021h0M486.4,1027.1h0M485.9,1033.2h0M485.5,1038.7h0M485,1046.2h0M484.6,1053.4h0M484.1,1060.6h0M483.7,1067.2h0M483.2,1075.2h0M482.8,1083.1h0M482.3,1090.5h0M481.9,1097.4h0M481.4,1104.1h0M481,1110.8h0M480.5,1116.8h0M480.1,1121.6h0M479.6,1126.2h0M479.2,1130.4h0M478.7,1133.3h0M473.8,1133.2h0M473.3,1129.6h0M472.9,1126.9h0M472.4,1123h0M472,1118.7h0M471.5,1115.1h0M471.1,1110.2h0M470.6,1105.9h0M470.2,1101.6h0M469.7,1095.8h0M469.3,1090.8h0M468.8,1085.5h0M468.4,1080.3h0M467.9,1075.7h0M467.5,1070.7h0M467,1066.3h0M466.6,1061.6h0M466.1,1057.3h0M465.7,1053.1h0M465.2,1049.2h0M464.8,1044.6h0M464.3,1040.9h0M463.9,1038h0M463.4,1034.5h0M463,1030.7h0M462.5,1028.6h0M462.1,1024.1h0M461.6,1022h0M461.2,1019.4h0M460.7,1017.2h0M460.3,1014.3h0M458.9,1008.7h0M458.5,1005.9h0M389.2,1010.2h0M388.7,1013.3h0M387.4,1018.4h0M386.9,1020.7h0M386.5,1022.9h0M386,1025.5h0M385.6,1028h0M385.1,1030.5h0M384.7,1033.1h0M384.2,1036.2h0M383.8,1039.2h0M383.3,1042.2h0M382.9,1045.2h0M382.4,1048.9h0M382,1052.1h0M381.5,1056.1h0M381.1,1060.3h0M380.6,1063.5h0M380.2,1067.9h0M379.7,1071.9h0M379.3,1077.5h0M378.8,1081.5h0M378.4,1086.3h0M377.9,1091.1h0M377.5,1095.9h0M377,1100.8h0M376.6,1106.3h0M376.1,1111.2h0M375.7,1116.9h0M375.2,1122.4h0M374.8,1127.9h0M374.3,1132.1h0M373.9,1137.3h0M373.4,1142h0M373,1146.4h0M372.5,1150.9h0M372.1,1155.3h0M371.6,1159.3h0M371.2,1162.6h0M370.7,1164.8h0M370.3,1167.6h0M365.3,1165.9h0M364.9,1162.9h0M364.4,1159.7h0M364,1154.7h0M363.5,1149.9h0M363.1,1144.4h0M362.6,1138.1h0M362.2,1130.6h0M361.7,1124.4h0M361.3,1117h0M360.8,1108.3h0M360.4,1100.6h0M359.9,1093.5h0M359.5,1084.9h0M359,1077.7h0M358.6,1070.2h0M358.1,1063h0M357.7,1056.3h0M357.2,1049.3h0M356.8,1043h0M356.3,1037.4h0M355.9,1031.9h0M355.4,1026.8h0M355,1022.1h0M354.5,1017.8h0M354.1,1013.2h0M353.6,1009h0M353.2,1005.4h0M352.7,1001.5h0M352.3,998.4h0M351.8,995.3h0M351.4,992.3h0M350.9,990.3h0M350.5,987.3h0M350,984.9h0M347.8,975.9h0M347.3,973.6h0M375.7,910.1h0M376.1,907.7h0M376.6,906.2h0M377,904h0M377.5,901.8h0M377.9,899.9h0M378.4,897.7h0M378.8,894.4h0M379.3,891.6h0M379.7,888.4h0M380.2,884.9h0M380.6,881.6h0M381.1,877.5h0M381.5,872.3h0M382,868.1h0M382.4,862.9h0M382.9,857h0M383.3,850.6h0M383.8,844.6h0M384.2,837.3h0M384.7,830.5h0M385.1,822.7h0M385.6,814.9h0M386,805.9h0M386.5,797.4h0M386.9,788.5h0M387.4,779.9h0M387.8,770.9h0M388.3,762.6h0M388.7,754.5h0M389.2,747.5h0M389.6,741h0M390.1,735.7h0M390.5,730.5h0M391,726.4h0M391.4,723.7h0M391.9,721.6h0M396.4,725.1h0M396.8,727.9h0M397.3,731.2h0M397.7,734h0M398.2,737.4h0M398.6,740.8h0M399.1,744.2h0M399.5,747.9h0M400,751.9h0M400.4,756.5h0M400.9,760.6h0M401.3,765h0M401.8,769h0M402.2,774.2h0M402.7,777.6h0M403.1,782.5h0M403.6,786.2h0M404,790.9h0M404.5,795.2h0M404.9,799.2h0M405.4,803.1h0M405.8,806.7h0M406.3,809.9h0M406.7,813.5h0M407.2,817.7h0M407.6,821.3h0M408.1,824h0M408.5,828.1h0M409,830.9h0M409.4,833.6h0M409.9,837h0M410.3,840.5h0M410.8,842.4h0M411.2,845.3h0M411.7,847.9h0M412.1,850.2h0M412.6,853.1h0M413,855.5h0M413.5,857.5h0M413.9,859.9h0M414.4,861.5h0M414.8,863.7h0M415.3,865.1h0M415.7,867.6h0M416.6,870.2h0M417.1,872.4h0M491.3,895.1h0M491.8,892.4h0M492.2,890.5h0M492.7,887.9h0M493.1,885.6h0M493.6,883.1h0M494,879.8h0M494.5,876.5h0M494.9,874.4h0M495.4,869.9h0M495.8,866.3h0M496.3,862.8h0M496.7,858.5h0M497.2,854.4h0M497.6,850.3h0M498.1,845.3h0M498.5,839.5h0M499,834.8h0M499.4,829.8h0M499.9,824.3h0M500.3,818.4h0M500.8,813.4h0M501.2,808.6h0M501.7,803.1h0M502.1,798h0M502.6,793.1h0M503,789.4h0M503.5,785.9h0M503.9,781.4h0M504.4,778.9h0M505.3,773.7h0M512.9,780.3h0M513.4,782.5h0M513.8,784.7h0M514.7,788.8h0M515.2,791.2h0M515.6,794.4h0M516.1,796.4h0M516.5,799.7h0M517,801.4h0M517.4,804.5h0M517.9,807.1h0M518.3,809.5h0M518.8,812h0M519.2,815h0M519.7,818.2h0M520.1,820.3h0M520.6,823.3h0M521,825.9h0M521.5,828.5h0M521.9,830.1h0M522.4,833.1h0M522.8,835.1h0M523.3,838.2h0M523.7,840.7h0M524.2,843.1h0M524.6,845.2h0M525.1,847.5h0M526,851.5h0M526.4,853.7h0M526.9,855.1h0M527.3,857.4h0M536.3,885.1h0M536.8,887.4h0M506.2,974.4h0M505.7,976.9h0M505.3,979.1h0M504.8,981.8h0M504.4,984.9h0M503.9,988.2h0M503.5,992.2h0M503,996.1h0M502.6,999.2h0M502.1,1003.7h0M501.7,1008.6h0M501.2,1013.1h0M500.8,1018.9h0M500.3,1025.3h0M499.9,1030.8h0M499.4,1037.4h0M499,1044.8h0M498.5,1052.1h0M498.1,1058.9h0M497.6,1066.4h0M497.2,1074.1h0M496.7,1081.8h0M496.3,1088.4h0M495.8,1096h0M495.4,1102.5h0M494.9,1108.8h0M494.5,1114.4h0M494,1118.2h0M493.6,1123.2h0M493.1,1126.2h0M492.7,1128.6h0M488.6,1130.3h0M488.2,1128.1h0M487.7,1125.8h0M487.3,1122.9h0M486.8,1118.8h0M486.4,1115.6h0M485.9,1111.5h0M485.5,1107.2h0M485,1101.7h0M484.6,1097.6h0M484.1,1092.1h0M483.7,1087.3h0M483.2,1082.6h0M482.8,1077.7h0M482.3,1072.6h0M481.9,1067.6h0M481.4,1062.8h0M481,1058.6h0M480.5,1054.1h0M480.1,1049.6h0M479.6,1044.9h0M479.2,1040.7h0M478.7,1037.1h0M478.3,1033.8h0M477.8,1030.7h0M477.4,1027h0M476.9,1023.8h0M476.5,1021h0M476,1018.1h0M475.6,1015.4h0M475.1,1012.8h0M474.7,1010.4h0M473.8,1006.2h0M473.3,1004h0M472.9,1002.5h0M472.4,1000.1h0M393.7,1018.7h0M393.2,1021.3h0M392.8,1023.4h0M392.3,1026h0M391.9,1028.5h0M391.4,1031.1h0M391,1034.6h0M390.5,1036.7h0M390.1,1039.5h0M389.6,1042.9h0M389.2,1046.4h0M388.7,1050.8h0M388.3,1054.8h0M387.8,1057.1h0M387.4,1062h0M386.9,1065.8h0M386.5,1070.6h0M386,1074.5h0M385.6,1078.7h0M385.1,1083.7h0M384.7,1088.2h0M384.2,1092.9h0M383.8,1097h0M383.3,1102.4h0M382.9,1107.1h0M382.4,1111.8h0M382,1116.3h0M381.5,1120.9h0M381.1,1125h0M380.6,1128.7h0M380.2,1132.9h0M379.7,1135.7h0M379.3,1139.2h0M378.8,1141.7h0M378.4,1144.3h0M373.4,1143.5h0M373,1140.9h0M372.5,1136.9h0M372.1,1133.6h0M371.6,1129.1h0M371.2,1124.3h0M370.7,1119.6h0M370.3,1113.4h0M369.8,1107.1h0M369.4,1100.5h0M368.9,1093.8h0M368.5,1086.8h0M368,1079.8h0M367.6,1073.7h0M367.1,1066.6h0M366.7,1059.6h0M366.2,1053.6h0M365.8,1047.7h0M365.3,1041.6h0M364.9,1036.5h0M364.4,1030.9h0M364,1026.3h0M363.5,1021.7h0M363.1,1017.2h0M362.6,1013h0M362.2,1009.4h0M361.7,1006h0M361.3,1002.8h0M360.8,999.4h0M360.4,995.9h0M359.9,994.1h0M359.5,990.7h0M359,988.4h0M358.6,987.2h0M358.1,984.6h0M357.7,983.2h0M357.2,980.7h0M356.8,979h0M356.3,976.7h0M391,902.7h0M391.4,900.5h0M391.9,898.2h0M392.3,895.7h0M392.8,893h0M393.2,889.7h0M393.7,886.4h0M394.1,883.1h0M394.6,879.6h0M395,875.2h0M395.5,871.1h0M395.9,865.2h0M396.4,860.6h0M396.8,855.1h0M397.3,848.9h0M397.7,842.8h0M398.2,836.5h0M398.6,829.9h0M399.1,822h0M399.5,815.4h0M400,807.8h0M400.4,800.5h0M400.9,793h0M401.3,785.7h0M401.8,779.8h0M402.2,772.6h0M402.7,767.4h0M403.1,762h0M403.6,758.2h0M404,754.4h0M404.5,752.1h0M410.3,755.3h0M410.8,757.9h0M411.2,760.6h0M411.7,763.4h0M412.1,765.7h0M412.6,769.2h0M413,772.2h0M413.5,775.3h0M413.9,778.8h0M414.4,781.7h0M414.8,785h0M415.3,788.9h0M415.7,792.7h0M416.2,796.1h0M416.6,798.1h0M417.1,802.6h0M417.5,805.8h0M418,808.9h0M418.4,812.6h0M418.9,815.9h0M419.3,819.3h0M419.8,821.6h0M420.2,824.9h0M420.7,828.2h0M421.1,831.7h0M421.6,834.6h0M422,837.1h0M422.5,839.8h0M422.9,842h0M423.4,844.7h0M423.8,847.2h0M424.3,849.4h0M424.7,851.5h0M425.2,854.3h0M425.6,856.5h0M426.1,857.7h0M426.5,860.2h0M427,862.8h0M428.8,868.8h0M429.2,871.4h0M430.1,874.1h0M430.6,876.3h0M500.3,899.2h0M500.8,896.9h0M501.7,894.2h0M502.1,891.4h0M502.6,889.1h0M503.5,885.3h0M503.9,882.3h0M504.4,879.5h0M504.8,876.6h0M505.3,872.9h0M505.7,869.6h0M506.2,865.6h0M506.6,862h0M507.1,857.8h0M507.5,853.5h0M508,848.7h0M508.4,844.3h0M508.9,838.9h0M509.3,834.2h0M509.8,829.2h0M510.2,823.4h0M510.7,818.3h0M511.1,812.7h0M511.6,807.7h0M512,803.1h0M512.5,797.9h0M512.9,793.6h0M513.4,789.2h0M513.8,785.8h0M514.3,783.2h0M514.7,780.5h0M515.2,778.1h0M515.6,775.8h0M522.8,782.6h0M523.3,784.8h0M523.7,786.8h0M524.2,789.2h0M524.6,790.6h0M525.1,793.6h0M525.5,795.4h0M526,798.5h0M526.4,800.9h0M526.9,803.8h0M527.3,806.1h0M527.8,808.5h0M528.2,811.3h0M528.7,814h0M529.1,815.9h0M529.6,818.7h0M530,821.7h0M530.5,824.4h0M530.9,827h0M531.4,829h0M531.8,832.2h0M532.3,834.3h0M532.7,836.8h0M533.2,839.2h0M534.1,843.3h0M534.5,846.4h0M535,848h0M535.4,850.6h0M536.8,855.9h0M537.2,858.3h0M538.1,861.4h0M538.6,863.7h0M509.8,969.7h0M509.3,972h0M508.9,973.9h0M508.4,977.1h0M508,979.5h0M507.5,982.7h0M507.1,985.3h0M506.6,988.7h0M506.2,993.4h0M505.7,995.9h0M505.3,1000.6h0M504.8,1005.1h0M504.4,1009.8h0M503.9,1014.7h0M503.5,1020.7h0M503,1025.8h0M502.6,1031.5h0M502.1,1037.6h0M501.7,1043.4h0M501.2,1049h0M500.8,1054.7h0M500.3,1060.8h0M499.9,1066.3h0M499.4,1071h0M499,1075.6h0M498.5,1079.5h0M498.1,1082.3h0M497.6,1085.6h0M497.2,1087.5h0M496.7,1089.7h0M491.8,1083.9h0M491.3,1081.2h0M490.9,1079.1h0M490.4,1075.2h0M490,1071.7h0M489.5,1069.1h0M489.1,1064.7h0M488.6,1061.2h0M488.2,1057.3h0M487.7,1053.1h0M487.3,1049.4h0M486.8,1045.9h0M486.4,1041.6h0M485.9,1037.4h0M485.5,1033.7h0M485,1030.5h0M484.6,1027.4h0M484.1,1024.5h0M483.7,1021.4h0M483.2,1018.5h0M482.8,1015.6h0M482.3,1013.1h0M481.9,1009.9h0M481.4,1007.6h0M481,1004.5h0M480.1,1001.4h0M479.6,998.9h0M401.3,1012.8h0M400.9,1015.1h0M400.4,1017.3h0M400,1019.4h0M399.5,1020.9h0M399.1,1024.3h0M398.6,1026.5h0M398.2,1028.9h0M397.7,1032.1h0M397.3,1034.9h0M396.8,1037.9h0M396.4,1040.6h0M395.9,1043.6h0M395.5,1048h0M395,1051.3h0M394.6,1054.7h0M394.1,1058.5h0M393.7,1062.5h0M393.2,1066.9h0M392.8,1070.5h0M392.3,1074.9h0M391.9,1080.3h0M391.4,1083.7h0M391,1088.7h0M390.5,1093.1h0M390.1,1097.6h0M389.6,1102.5h0M389.2,1106.3h0M388.7,1111.1h0M388.3,1114.9h0M387.8,1118.6h0M387.4,1122.3h0M386.9,1125.7h0M386.5,1129.3h0M386,1132.1h0M380.6,1137.2h0M380.2,1134.7h0M379.7,1132.4h0M379.3,1129.3h0M378.8,1125.4h0M378.4,1121.4h0M377.9,1116.4h0M377.5,1110.8h0M377,1105.3h0M376.6,1098.4h0M376.1,1093h0M375.7,1086h0M375.2,1079.3h0M374.8,1073.1h0M374.3,1066.8h0M373.9,1060.3h0M373.4,1054.3h0M373,1048.2h0M372.5,1042.5h0M372.1,1037.7h0M371.6,1032.5h0M371.2,1026.9h0M370.7,1023h0M370.3,1018.3h0M369.8,1014.3h0M369.4,1010.9h0M368.9,1007.6h0M368.5,1004.5h0M368,1001.3h0M367.6,998h0M367.1,995.3h0M366.7,992.7h0M366.2,990.5h0M365.8,988.9h0M365.3,986.5h0M364.9,984.6h0M364.4,981.8h0" fill="none" stroke="#2a24dc" stroke-width="2.7" stroke-linecap="round"/>
<polyline points="515,852 507.6,937 508.3,1050" fill="none" stroke="#f07a68" stroke-width="1.1"/>
<rect x="489.8" y="737.2" width="6.6" height="6.4" fill="#d04020" stroke="#b08020" stroke-width="1"/>
<rect x="490.8" y="738.2" width="4.6" height="2.6" fill="#60c040"/>
<rect x="512.2" y="851.5" width="6.8" height="9" fill="#50d050" stroke="#40a040" stroke-width="0.6"/>
<line x1="515.4" y1="851" x2="515.4" y2="861" stroke="#f07a68" stroke-width="1"/>
<rect x="88.3" y="671.4" width="690.2" height="542.8" fill="none" stroke="#555" stroke-width="1.5"/>
<g stroke="#555" stroke-width="1.3">
<line x1="88.3" y1="1146.0" x2="95.8" y2="1146.0"/>
<line x1="88.3" y1="1078.2" x2="99.3" y2="1078.2"/>
<line x1="88.3" y1="1010.4" x2="95.8" y2="1010.4"/>
<line x1="88.3" y1="942.6" x2="99.3" y2="942.6"/>
<line x1="88.3" y1="874.8" x2="95.8" y2="874.8"/>
<line x1="88.3" y1="807.0" x2="99.3" y2="807.0"/>
<line x1="88.3" y1="739.2" x2="95.8" y2="739.2"/>
<line x1="157.3" y1="1214.2" x2="157.3" y2="1206.7"/>
<line x1="226.3" y1="1214.2" x2="226.3" y2="1203.2"/>
<line x1="295.3" y1="1214.2" x2="295.3" y2="1206.7"/>
<line x1="364.4" y1="1214.2" x2="364.4" y2="1203.2"/>
<line x1="433.4" y1="1214.2" x2="433.4" y2="1206.7"/>
<line x1="502.4" y1="1214.2" x2="502.4" y2="1203.2"/>
<line x1="571.4" y1="1214.2" x2="571.4" y2="1206.7"/>
<line x1="640.4" y1="1214.2" x2="640.4" y2="1203.2"/>
<line x1="709.4" y1="1214.2" x2="709.4" y2="1206.7"/>
</g>
<g font-family='"Liberation Sans", sans-serif' font-size="19" fill="#1a1a1a" text-anchor="end">
<text x="76" y="677.5">0.00010</text>
<text x="76" y="813.1">0.00005</text>
<text x="76" y="948.7">0</text>
<text x="76" y="1084.3">-0.00005</text>
<text x="76" y="1219.9">-0.00010</text>
</g>
<g font-family='"Liberation Sans", sans-serif' font-size="19" fill="#1a1a1a" text-anchor="middle">
<text x="88.3" y="1241.2">1.75</text>
<text x="226.3" y="1241.2">2.00</text>
<text x="364.4" y="1241.2">2.25</text>
<text x="502.4" y="1241.2">2.50</text>
<text x="640.4" y="1241.2">2.75</text>
<text x="778.4" y="1241.2">3.00</text>
</g>
<text x="393.8" y="1277" font-family='"Liberation Sans", sans-serif' font-size="21.3" fill="#1a1a1a" textLength="80.2" lengthAdjust="spacingAndGlyphs">E (Volts)</text>
<text transform="translate(39.4,1004.4) rotate(-90)" font-family='"Liberation Sans", sans-serif' font-size="21.3" fill="#1a1a1a" textLength="122" lengthAdjust="spacingAndGlyphs">I (Amps/cm<tspan font-size="13.5" dy="-10.5">2</tspan><tspan dy="10.5">)</tspan></text>
<rect x="107.8" y="693" width="35.3" height="55.7" fill="#fff" stroke="#111" stroke-width="1.3"/>
<text transform="translate(117.82,730.6) scale(1.046,1)" font-family='"Liberation Sans", sans-serif' font-size="26" font-weight="bold" fill="#111">b</text>
<text x="158.8" y="716.4" font-family='"Liberation Sans", sans-serif' font-size="16.5" font-weight="bold" fill="#111" textLength="186.7" lengthAdjust="spacingAndGlyphs">LiTFSI/MgCl<tspan font-size="11">2</tspan> (DME)</text>
<g font-family='"Liberation Sans", sans-serif' fill="#111">
<text transform="translate(189.51,767.3) scale(0.951,1)" font-size="37.6">V</text>
<text transform="translate(215.07,773.5) scale(1.029,1)" font-size="23">2</text>
<text transform="translate(230.01,767.3) scale(0.996,1)" font-size="37.6">O</text>
<text transform="translate(260.64,772.8) scale(0.954,1)" font-size="23">5</text>
</g>
</svg></body></html>
